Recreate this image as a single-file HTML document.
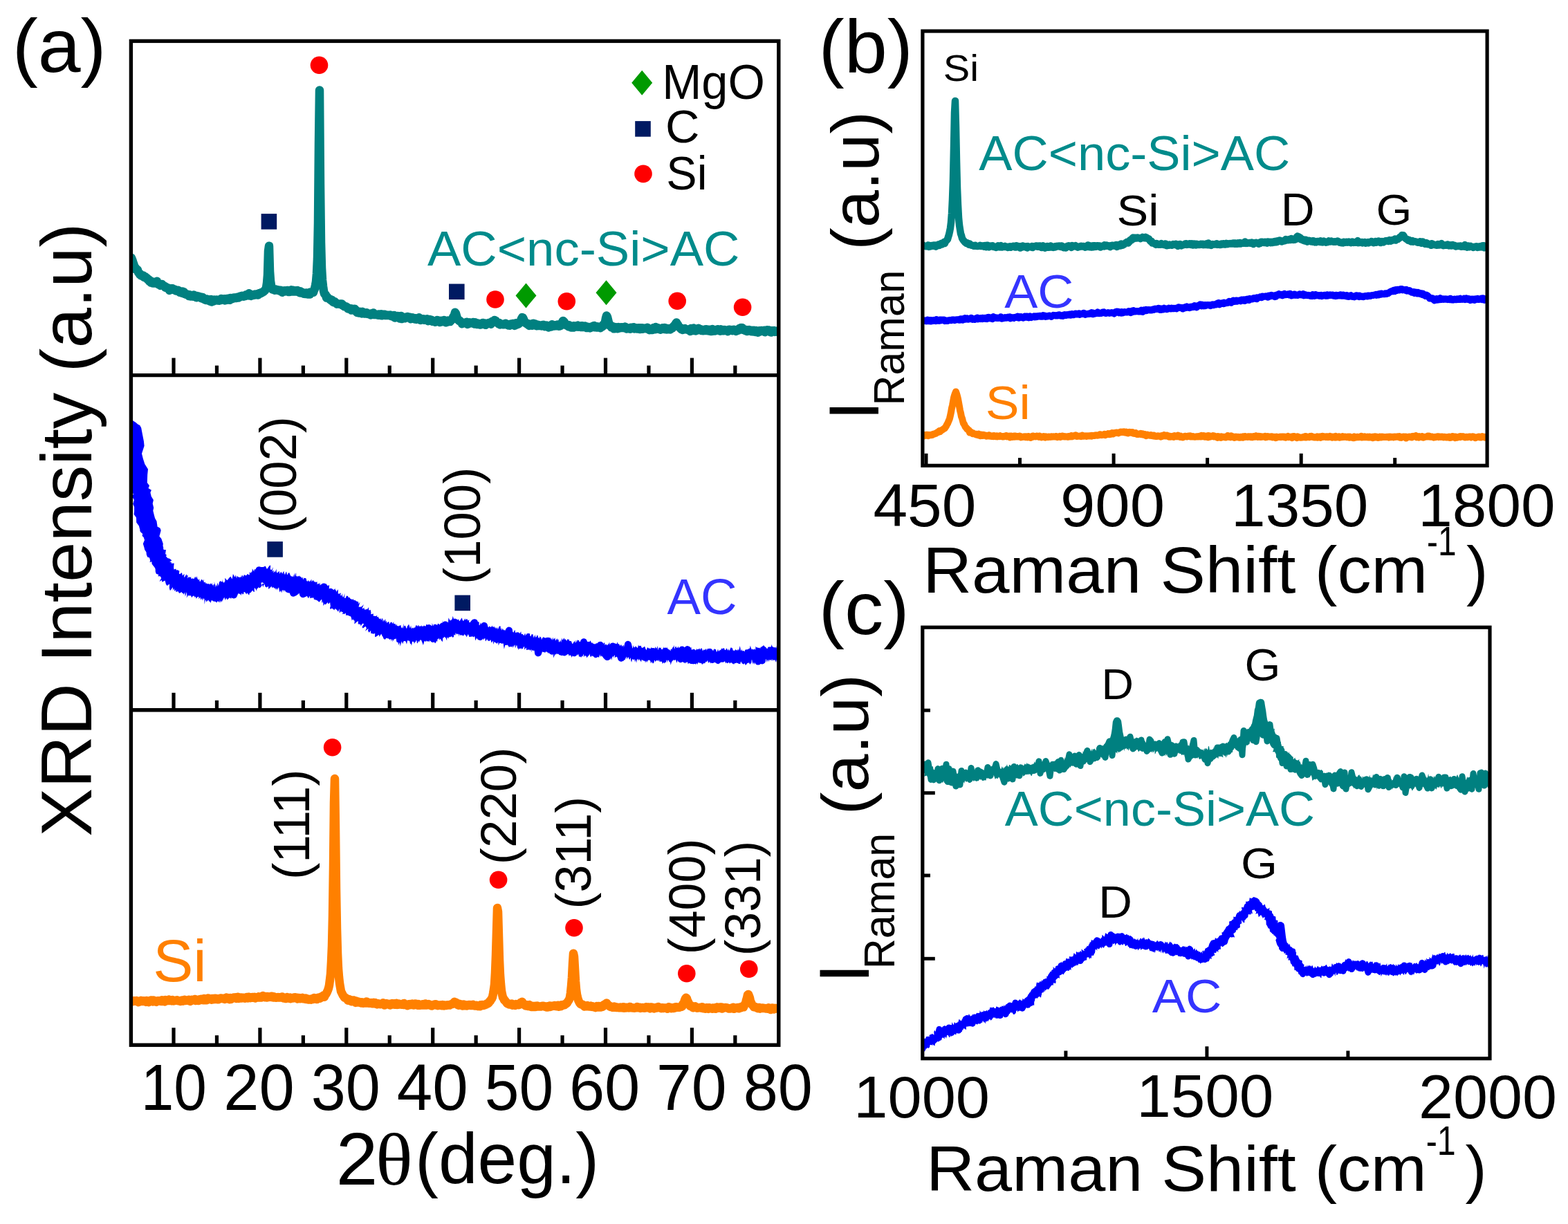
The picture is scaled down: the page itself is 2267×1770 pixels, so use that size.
<!DOCTYPE html><html><head><meta charset="utf-8"><title>XRD and Raman</title>
<style>html,body{margin:0;padding:0;background:#fff;width:2267px;height:1770px;overflow:hidden}svg{display:block}text{font-family:"Liberation Sans", Arial, Helvetica, sans-serif}</style></head><body>
<svg width="2267" height="1770" viewBox="0 0 2267 1770">
<rect width="2267" height="1770" fill="#fff"/>
<defs>
<clipPath id="ca1"><rect x="189" y="59" width="937" height="483"/></clipPath>
<clipPath id="ca2"><rect x="189" y="542" width="937" height="485"/></clipPath>
<clipPath id="ca3"><rect x="189" y="1027" width="937" height="484"/></clipPath>
<clipPath id="cb"><rect x="1333" y="45" width="818" height="628"/></clipPath>
<clipPath id="cc"><rect x="1333" y="907" width="820" height="623"/></clipPath>
</defs>
<path d="M190.0 372.9 L191.0 375.3 L192.0 378.3 L193.0 381.5 L194.0 384.2 L195.0 389.0 L196.0 387.3 L197.0 388.7 L198.0 390.4 L199.0 390.5 L200.0 394.0 L201.0 394.6 L202.0 396.7 L203.0 396.6 L204.0 398.5 L205.0 397.8 L206.0 399.0 L207.0 398.7 L208.0 400.6 L209.0 400.4 L210.0 400.2 L211.0 401.9 L212.0 401.5 L213.0 403.4 L214.0 404.7 L215.0 404.1 L216.0 407.0 L217.0 405.7 L218.0 408.5 L219.0 406.9 L220.0 408.2 L221.0 409.6 L222.0 409.5 L223.0 409.5 L224.0 408.7 L225.0 407.5 L226.0 408.7 L227.0 406.8 L228.0 410.5 L229.0 410.0 L230.0 411.6 L231.0 411.6 L232.0 412.7 L233.0 412.1 L234.0 410.9 L235.0 412.7 L236.0 412.8 L237.0 413.2 L238.0 414.1 L239.0 415.8 L240.0 415.0 L241.0 415.7 L242.0 416.3 L243.0 417.6 L244.0 416.8 L245.0 419.9 L246.0 419.0 L247.0 418.5 L248.0 417.3 L249.0 417.2 L250.0 417.4 L251.0 418.9 L252.0 419.2 L253.0 418.8 L254.0 420.2 L255.0 419.7 L256.0 420.0 L257.0 421.1 L258.0 420.0 L259.0 420.5 L260.0 422.7 L261.0 422.5 L262.0 422.6 L263.0 423.8 L264.0 421.4 L265.0 423.1 L266.0 422.3 L267.0 424.9 L268.0 424.9 L269.0 425.8 L270.0 425.4 L271.0 425.8 L272.0 426.6 L273.0 428.1 L274.0 426.3 L275.0 428.5 L276.0 427.4 L277.0 427.8 L278.0 427.9 L279.0 428.7 L280.0 426.5 L281.0 428.7 L282.0 429.0 L283.0 427.9 L284.0 430.3 L285.0 427.9 L286.0 429.8 L287.0 428.5 L288.0 429.2 L289.0 429.8 L290.0 429.6 L291.0 431.3 L292.0 430.3 L293.0 430.0 L294.0 432.3 L295.0 432.7 L296.0 432.1 L297.0 433.9 L298.0 434.0 L299.0 432.6 L300.0 433.7 L301.0 433.1 L302.0 434.2 L303.0 435.5 L304.0 434.7 L305.0 433.1 L306.0 436.5 L307.0 435.8 L308.0 434.9 L309.0 435.5 L310.0 433.4 L311.0 434.3 L312.0 433.9 L313.0 433.6 L314.0 434.4 L315.0 433.9 L316.0 433.6 L317.0 434.7 L318.0 433.7 L319.0 434.1 L320.0 432.0 L321.0 432.7 L322.0 433.0 L323.0 433.7 L324.0 432.3 L325.0 434.4 L326.0 432.6 L327.0 434.0 L328.0 432.8 L329.0 431.9 L330.0 432.7 L331.0 432.4 L332.0 433.8 L333.0 431.0 L334.0 432.8 L335.0 431.7 L336.0 432.1 L337.0 430.9 L338.0 431.4 L339.0 430.6 L340.0 430.8 L341.0 430.2 L342.0 430.8 L343.0 429.9 L344.0 430.2 L345.0 430.4 L346.0 430.1 L347.0 428.6 L348.0 428.6 L349.0 428.1 L350.0 427.7 L351.0 428.1 L352.0 428.6 L353.0 427.9 L354.0 428.2 L355.0 426.9 L356.0 426.2 L357.0 426.2 L358.0 426.4 L359.0 427.4 L360.0 424.2 L361.0 426.4 L362.0 427.3 L363.0 427.9 L364.0 425.9 L365.0 426.6 L366.0 427.0 L367.0 426.9 L368.0 425.8 L369.0 426.3 L370.0 425.5 L371.0 425.9 L372.0 425.0 L373.0 426.5 L374.0 424.4 L375.0 424.1 L376.0 424.5 L377.0 424.2 L378.0 423.0 L379.0 423.2 L380.0 422.3 L381.0 421.9 L382.0 420.7 L383.0 420.1 L384.0 418.3 L385.0 415.9 L386.0 409.4 L387.0 397.4 L388.0 363.1 L389.0 355.8 L390.0 392.2 L391.0 406.3 L392.0 412.8 L393.0 416.6 L394.0 418.5 L395.0 418.8 L396.0 418.1 L397.0 419.7 L398.0 419.3 L399.0 418.7 L400.0 419.6 L401.0 419.6 L402.0 419.3 L403.0 420.2 L404.0 420.0 L405.0 420.9 L406.0 419.9 L407.0 420.4 L408.0 422.7 L409.0 421.9 L410.0 421.1 L411.0 420.5 L412.0 421.4 L413.0 420.7 L414.0 421.2 L415.0 420.0 L416.0 420.0 L417.0 422.0 L418.0 421.4 L419.0 422.0 L420.0 421.4 L421.0 419.3 L422.0 421.2 L423.0 421.5 L424.0 419.8 L425.0 420.4 L426.0 420.7 L427.0 421.3 L428.0 420.2 L429.0 421.0 L430.0 420.1 L431.0 422.1 L432.0 421.6 L433.0 423.2 L434.0 421.2 L435.0 423.4 L436.0 423.2 L437.0 422.7 L438.0 424.0 L439.0 424.6 L440.0 424.0 L441.0 425.1 L442.0 424.9 L443.0 423.4 L444.0 424.9 L445.0 425.6 L446.0 424.3 L447.0 425.1 L448.0 425.6 L449.0 422.4 L450.0 422.4 L451.0 422.8 L452.0 422.1 L453.0 422.8 L454.0 419.7 L455.0 417.4 L456.0 412.7 L457.0 407.3 L458.0 395.4 L459.0 373.5 L460.0 322.1 L461.0 206.6 L462.0 130.4 L463.0 265.5 L464.0 350.4 L465.0 387.3 L466.0 404.9 L467.0 413.8 L468.0 420.9 L469.0 424.6 L470.0 425.9 L471.0 426.3 L472.0 430.6 L473.0 429.4 L474.0 430.9 L475.0 431.5 L476.0 432.0 L477.0 433.3 L478.0 433.1 L479.0 434.7 L480.0 434.0 L481.0 436.2 L482.0 437.2 L483.0 436.0 L484.0 436.3 L485.0 437.5 L486.0 438.2 L487.0 439.5 L488.0 439.0 L489.0 439.6 L490.0 439.6 L491.0 439.7 L492.0 439.4 L493.0 439.8 L494.0 439.4 L495.0 441.2 L496.0 441.0 L497.0 442.5 L498.0 443.3 L499.0 443.2 L500.0 443.2 L501.0 443.8 L502.0 444.3 L503.0 446.4 L504.0 445.9 L505.0 446.7 L506.0 446.5 L507.0 446.3 L508.0 448.6 L509.0 447.2 L510.0 447.8 L511.0 447.8 L512.0 446.8 L513.0 446.8 L514.0 448.0 L515.0 450.6 L516.0 451.8 L517.0 451.4 L518.0 452.4 L519.0 452.4 L520.0 450.8 L521.0 452.0 L522.0 452.7 L523.0 453.4 L524.0 450.8 L525.0 451.6 L526.0 452.3 L527.0 453.6 L528.0 452.7 L529.0 453.5 L530.0 452.2 L531.0 453.2 L532.0 454.0 L533.0 453.7 L534.0 454.3 L535.0 454.6 L536.0 455.6 L537.0 453.2 L538.0 454.8 L539.0 453.9 L540.0 452.5 L541.0 455.0 L542.0 454.5 L543.0 454.9 L544.0 454.9 L545.0 455.0 L546.0 455.6 L547.0 455.7 L548.0 454.4 L549.0 455.3 L550.0 455.9 L551.0 454.3 L552.0 456.3 L553.0 455.5 L554.0 455.1 L555.0 455.4 L556.0 454.7 L557.0 456.1 L558.0 455.4 L559.0 455.8 L560.0 456.0 L561.0 455.7 L562.0 455.7 L563.0 455.8 L564.0 455.6 L565.0 456.8 L566.0 456.3 L567.0 457.0 L568.0 456.5 L569.0 458.3 L570.0 455.9 L571.0 459.5 L572.0 458.0 L573.0 457.5 L574.0 457.8 L575.0 457.0 L576.0 459.6 L577.0 458.1 L578.0 460.6 L579.0 457.7 L580.0 456.9 L581.0 461.1 L582.0 459.6 L583.0 458.5 L584.0 458.9 L585.0 460.3 L586.0 458.9 L587.0 458.5 L588.0 459.1 L589.0 457.9 L590.0 458.8 L591.0 459.7 L592.0 459.1 L593.0 458.8 L594.0 461.3 L595.0 459.8 L596.0 459.4 L597.0 460.8 L598.0 460.9 L599.0 460.1 L600.0 461.5 L601.0 460.3 L602.0 461.8 L603.0 461.4 L604.0 461.5 L605.0 461.3 L606.0 459.3 L607.0 462.4 L608.0 462.9 L609.0 461.8 L610.0 461.5 L611.0 462.1 L612.0 461.2 L613.0 462.6 L614.0 462.1 L615.0 462.4 L616.0 461.7 L617.0 461.4 L618.0 463.5 L619.0 464.1 L620.0 463.6 L621.0 462.1 L622.0 463.8 L623.0 463.6 L624.0 462.8 L625.0 464.7 L626.0 464.0 L627.0 464.0 L628.0 464.5 L629.0 465.8 L630.0 464.0 L631.0 464.9 L632.0 462.9 L633.0 464.9 L634.0 463.4 L635.0 464.6 L636.0 466.1 L637.0 464.0 L638.0 463.7 L639.0 464.1 L640.0 465.1 L641.0 464.8 L642.0 463.0 L643.0 465.1 L644.0 465.8 L645.0 466.3 L646.0 464.8 L647.0 463.6 L648.0 465.4 L649.0 464.2 L650.0 464.3 L651.0 464.8 L652.0 463.4 L653.0 462.8 L654.0 461.5 L655.0 458.8 L656.0 459.0 L657.0 455.4 L658.0 451.8 L659.0 453.4 L660.0 456.7 L661.0 460.1 L662.0 461.9 L663.0 463.2 L664.0 464.1 L665.0 463.9 L666.0 465.3 L667.0 466.2 L668.0 468.2 L669.0 466.9 L670.0 466.8 L671.0 467.3 L672.0 466.7 L673.0 466.3 L674.0 466.3 L675.0 465.7 L676.0 468.9 L677.0 466.4 L678.0 467.3 L679.0 466.5 L680.0 467.4 L681.0 467.2 L682.0 466.7 L683.0 467.1 L684.0 465.9 L685.0 466.7 L686.0 468.6 L687.0 466.3 L688.0 467.9 L689.0 466.9 L690.0 469.1 L691.0 467.8 L692.0 467.8 L693.0 468.2 L694.0 469.6 L695.0 468.1 L696.0 469.2 L697.0 468.7 L698.0 467.0 L699.0 467.2 L700.0 467.2 L701.0 468.4 L702.0 469.8 L703.0 467.9 L704.0 468.6 L705.0 467.4 L706.0 467.4 L707.0 466.9 L708.0 468.1 L709.0 467.0 L710.0 468.7 L711.0 465.1 L712.0 465.9 L713.0 464.9 L714.0 464.2 L715.0 462.9 L716.0 463.6 L717.0 463.8 L718.0 466.0 L719.0 466.3 L720.0 467.2 L721.0 468.4 L722.0 467.1 L723.0 469.4 L724.0 469.0 L725.0 468.9 L726.0 468.9 L727.0 468.7 L728.0 469.3 L729.0 469.1 L730.0 468.8 L731.0 467.8 L732.0 468.6 L733.0 469.5 L734.0 468.8 L735.0 470.4 L736.0 469.9 L737.0 470.7 L738.0 469.5 L739.0 468.4 L740.0 469.2 L741.0 469.4 L742.0 467.9 L743.0 469.6 L744.0 470.8 L745.0 470.4 L746.0 467.2 L747.0 469.5 L748.0 469.1 L749.0 468.0 L750.0 468.4 L751.0 466.5 L752.0 466.5 L753.0 463.7 L754.0 460.8 L755.0 459.1 L756.0 459.3 L757.0 461.7 L758.0 465.1 L759.0 465.2 L760.0 467.2 L761.0 467.2 L762.0 468.6 L763.0 468.5 L764.0 468.3 L765.0 470.9 L766.0 470.2 L767.0 469.1 L768.0 469.4 L769.0 470.7 L770.0 470.6 L771.0 467.7 L772.0 469.7 L773.0 470.1 L774.0 468.6 L775.0 470.1 L776.0 471.3 L777.0 470.6 L778.0 470.0 L779.0 471.0 L780.0 470.6 L781.0 470.6 L782.0 470.5 L783.0 471.4 L784.0 470.1 L785.0 470.6 L786.0 469.7 L787.0 470.6 L788.0 472.1 L789.0 471.8 L790.0 470.6 L791.0 471.3 L792.0 471.9 L793.0 473.5 L794.0 472.5 L795.0 471.0 L796.0 470.6 L797.0 472.5 L798.0 469.3 L799.0 470.6 L800.0 471.6 L801.0 470.4 L802.0 471.4 L803.0 470.2 L804.0 470.5 L805.0 471.3 L806.0 469.5 L807.0 471.3 L808.0 471.7 L809.0 471.5 L810.0 470.4 L811.0 470.8 L812.0 468.1 L813.0 465.7 L814.0 464.0 L815.0 464.8 L816.0 465.9 L817.0 468.3 L818.0 469.6 L819.0 470.3 L820.0 469.8 L821.0 470.2 L822.0 472.2 L823.0 470.3 L824.0 471.8 L825.0 471.4 L826.0 473.4 L827.0 473.2 L828.0 471.7 L829.0 473.6 L830.0 471.3 L831.0 471.5 L832.0 472.7 L833.0 471.5 L834.0 471.8 L835.0 470.6 L836.0 472.7 L837.0 472.3 L838.0 471.7 L839.0 471.6 L840.0 473.0 L841.0 471.3 L842.0 471.3 L843.0 473.0 L844.0 471.8 L845.0 471.6 L846.0 471.5 L847.0 472.0 L848.0 474.1 L849.0 472.5 L850.0 473.8 L851.0 473.4 L852.0 473.7 L853.0 474.4 L854.0 472.7 L855.0 473.4 L856.0 472.8 L857.0 471.9 L858.0 471.3 L859.0 471.1 L860.0 473.1 L861.0 472.8 L862.0 473.5 L863.0 472.3 L864.0 473.4 L865.0 473.1 L866.0 473.5 L867.0 472.6 L868.0 474.2 L869.0 473.5 L870.0 471.6 L871.0 472.4 L872.0 469.6 L873.0 470.3 L874.0 467.7 L875.0 465.3 L876.0 459.9 L877.0 456.4 L878.0 458.3 L879.0 462.4 L880.0 466.4 L881.0 470.6 L882.0 470.8 L883.0 470.7 L884.0 473.4 L885.0 473.1 L886.0 473.3 L887.0 472.5 L888.0 475.3 L889.0 475.1 L890.0 473.4 L891.0 473.3 L892.0 473.5 L893.0 475.3 L894.0 473.0 L895.0 473.6 L896.0 474.4 L897.0 474.2 L898.0 473.4 L899.0 474.0 L900.0 473.3 L901.0 474.0 L902.0 474.2 L903.0 473.3 L904.0 472.6 L905.0 473.8 L906.0 475.4 L907.0 474.9 L908.0 475.2 L909.0 475.0 L910.0 474.2 L911.0 475.7 L912.0 473.8 L913.0 474.4 L914.0 474.0 L915.0 473.6 L916.0 473.3 L917.0 475.4 L918.0 474.5 L919.0 474.8 L920.0 474.3 L921.0 475.5 L922.0 474.4 L923.0 474.3 L924.0 474.2 L925.0 476.1 L926.0 474.2 L927.0 474.9 L928.0 474.2 L929.0 475.7 L930.0 474.5 L931.0 475.2 L932.0 474.9 L933.0 474.8 L934.0 474.4 L935.0 475.6 L936.0 473.7 L937.0 475.6 L938.0 476.0 L939.0 477.2 L940.0 476.1 L941.0 475.7 L942.0 476.8 L943.0 477.0 L944.0 476.7 L945.0 474.0 L946.0 475.2 L947.0 476.3 L948.0 473.0 L949.0 475.2 L950.0 474.8 L951.0 474.1 L952.0 475.1 L953.0 476.0 L954.0 475.6 L955.0 476.8 L956.0 475.2 L957.0 475.7 L958.0 474.5 L959.0 475.0 L960.0 476.0 L961.0 473.9 L962.0 476.3 L963.0 475.6 L964.0 476.6 L965.0 475.1 L966.0 476.1 L967.0 475.4 L968.0 475.3 L969.0 476.3 L970.0 475.6 L971.0 474.5 L972.0 474.5 L973.0 472.7 L974.0 472.1 L975.0 470.5 L976.0 471.0 L977.0 467.8 L978.0 466.5 L979.0 468.3 L980.0 469.5 L981.0 472.1 L982.0 473.2 L983.0 473.5 L984.0 475.2 L985.0 476.0 L986.0 475.1 L987.0 477.0 L988.0 475.8 L989.0 476.3 L990.0 475.1 L991.0 476.2 L992.0 476.1 L993.0 476.4 L994.0 476.7 L995.0 476.5 L996.0 477.4 L997.0 477.5 L998.0 479.0 L999.0 475.1 L1000.0 477.7 L1001.0 477.5 L1002.0 477.9 L1003.0 474.4 L1004.0 477.3 L1005.0 477.8 L1006.0 478.4 L1007.0 477.6 L1008.0 477.6 L1009.0 477.4 L1010.0 474.8 L1011.0 476.3 L1012.0 476.9 L1013.0 476.2 L1014.0 478.0 L1015.0 477.5 L1016.0 478.1 L1017.0 478.3 L1018.0 476.8 L1019.0 478.1 L1020.0 477.0 L1021.0 476.2 L1022.0 477.3 L1023.0 478.3 L1024.0 476.8 L1025.0 478.4 L1026.0 476.7 L1027.0 478.9 L1028.0 479.1 L1029.0 478.5 L1030.0 476.1 L1031.0 478.7 L1032.0 477.8 L1033.0 477.9 L1034.0 478.4 L1035.0 477.0 L1036.0 476.7 L1037.0 477.0 L1038.0 476.2 L1039.0 477.4 L1040.0 477.3 L1041.0 478.7 L1042.0 476.2 L1043.0 477.6 L1044.0 477.7 L1045.0 478.1 L1046.0 477.1 L1047.0 478.2 L1048.0 477.1 L1049.0 477.6 L1050.0 478.2 L1051.0 478.0 L1052.0 479.3 L1053.0 478.1 L1054.0 476.8 L1055.0 476.8 L1056.0 477.4 L1057.0 477.4 L1058.0 477.0 L1059.0 478.2 L1060.0 477.4 L1061.0 476.8 L1062.0 476.9 L1063.0 477.4 L1064.0 479.0 L1065.0 477.8 L1066.0 478.2 L1067.0 477.6 L1068.0 477.5 L1069.0 475.0 L1070.0 474.8 L1071.0 473.9 L1072.0 474.9 L1073.0 473.9 L1074.0 476.0 L1075.0 477.0 L1076.0 476.7 L1077.0 477.0 L1078.0 478.4 L1079.0 476.9 L1080.0 479.0 L1081.0 478.3 L1082.0 477.3 L1083.0 477.0 L1084.0 478.6 L1085.0 478.0 L1086.0 479.2 L1087.0 477.8 L1088.0 478.8 L1089.0 479.6 L1090.0 477.7 L1091.0 478.4 L1092.0 480.0 L1093.0 478.1 L1094.0 479.3 L1095.0 478.9 L1096.0 480.8 L1097.0 479.0 L1098.0 478.2 L1099.0 478.4 L1100.0 479.2 L1101.0 477.9 L1102.0 478.7 L1103.0 478.4 L1104.0 478.3 L1105.0 477.8 L1106.0 480.2 L1107.0 477.9 L1108.0 478.3 L1109.0 477.3 L1110.0 478.2 L1111.0 477.4 L1112.0 477.5 L1113.0 479.4 L1114.0 480.3 L1115.0 480.6 L1116.0 478.4 L1117.0 478.2 L1118.0 478.5 L1119.0 478.2 L1120.0 479.8 L1121.0 479.5 L1122.0 479.7 L1123.0 478.7 L1124.0 478.8 L1125.0 479.5 L1126.0 479.8" fill="none" stroke="#008080" stroke-width="12.5" stroke-linejoin="round" stroke-linecap="round" clip-path="url(#ca1)"/>
<path d="M186.0 601.1 L187.0 604.9 L196.4 611.0 L199.2 613.6 L202.2 614.9 L204.2 618.7 L205.9 627.8 L207.9 638.0 L208.6 644.8 L205.0 655.9 L206.9 663.4 L208.2 667.6 L209.3 671.1 L214.0 678.4 L213.2 686.6 L212.8 698.1 L216.0 702.2 L214.5 706.0 L218.9 708.8 L217.4 712.2 L218.8 717.9 L221.9 723.0 L220.7 728.3 L222.2 734.3 L221.3 738.6 L222.5 743.6 L224.0 749.3 L226.5 753.7 L227.3 759.6 L227.5 758.8 L227.3 761.3 L231.5 763.7 L232.7 766.9 L231.8 770.5 L230.4 775.4 L233.3 779.1 L235.3 784.7 L235.8 786.3 L235.5 789.6 L236.2 791.6 L236.2 794.6 L238.9 795.2 L240.0 794.8 L239.1 801.1 L241.0 802.8 L239.9 804.3 L242.2 806.9 L245.6 808.1 L248.4 810.6 L245.2 812.4 L248.0 812.9 L247.4 814.2 L248.8 814.4 L247.0 814.8 L248.8 814.7 L251.7 814.5 L251.1 820.3 L251.5 823.6 L254.3 822.6 L254.5 823.5 L255.4 824.7 L256.9 824.0 L259.4 826.8 L258.0 824.8 L258.5 826.4 L258.9 824.6 L259.4 825.9 L258.9 829.2 L259.2 829.8 L260.0 830.2 L262.9 827.9 L263.9 832.5 L266.2 829.9 L266.5 830.1 L266.2 834.6 L266.7 834.9 L269.6 830.2 L270.1 832.4 L269.5 834.3 L270.3 831.3 L269.2 834.0 L270.6 832.1 L271.6 831.4 L271.2 836.4 L273.1 833.9 L274.2 835.0 L276.3 834.3 L276.1 836.9 L277.0 841.8 L279.1 837.7 L280.9 836.6 L282.2 833.4 L283.3 836.0 L284.7 833.3 L285.2 836.1 L286.0 837.4 L287.0 838.8 L288.3 837.2 L288.4 840.2 L289.5 840.9 L289.9 840.4 L291.2 837.7 L292.4 838.5 L293.0 838.9 L293.4 840.2 L294.8 837.5 L294.5 840.9 L295.4 842.4 L296.0 841.9 L296.9 841.5 L297.3 843.8 L298.6 843.4 L299.7 844.1 L300.5 844.7 L301.7 843.8 L303.1 845.5 L304.1 843.3 L305.3 844.9 L306.4 843.0 L306.9 845.3 L307.7 846.7 L308.0 845.2 L308.3 845.2 L308.5 845.9 L308.6 846.1 L309.1 848.9 L309.1 845.0 L309.8 845.0 L309.8 841.2 L311.9 849.4 L312.2 844.8 L313.6 848.4 L314.4 842.6 L316.0 847.4 L316.9 841.9 L317.8 840.8 L319.1 840.0 L319.8 841.3 L321.6 841.2 L321.1 837.8 L322.4 841.3 L323.6 843.0 L324.1 842.4 L324.3 842.1 L325.5 840.1 L325.1 835.8 L326.3 836.9 L328.3 839.3 L330.1 837.2 L331.0 836.1 L332.1 834.8 L333.6 833.7 L335.5 837.6 L336.4 833.1 L336.9 830.0 L338.4 832.4 L339.3 834.3 L339.9 834.2 L340.4 831.2 L342.2 836.4 L342.6 832.4 L344.1 834.2 L345.4 834.5 L346.6 835.5 L347.7 836.0 L348.5 834.8 L348.9 831.6 L350.6 836.8 L350.0 833.2 L350.1 832.5 L350.2 831.6 L351.8 833.8 L351.9 834.4 L352.9 830.9 L353.9 831.5 L354.8 832.3 L356.7 832.1 L357.1 829.9 L360.7 831.6 L360.9 827.1 L362.3 828.8 L363.2 827.9 L363.6 826.7 L364.2 827.0 L364.0 826.8 L364.6 826.2 L364.8 822.2 L367.2 826.6 L367.6 823.7 L368.6 823.2 L369.4 823.5 L370.6 821.0 L372.2 819.7 L374.6 819.3 L377.6 820.0 L380.6 820.1 L383.7 818.5 L386.0 823.0 L389.5 817.9 L391.2 817.4 L390.8 823.2 L392.7 824.3 L395.1 820.0 L393.2 826.8 L395.6 824.6 L395.4 828.5 L396.9 826.2 L397.2 827.3 L398.4 824.9 L397.7 829.2 L399.5 822.6 L399.8 827.1 L400.6 828.4 L402.6 827.0 L403.7 825.8 L404.4 830.1 L406.2 826.5 L406.9 828.0 L407.9 828.6 L407.8 830.4 L409.6 826.8 L410.7 826.2 L410.6 830.4 L411.3 828.8 L411.9 831.6 L413.7 826.5 L414.3 827.6 L415.2 831.9 L416.8 828.5 L418.4 828.3 L419.0 830.0 L420.1 832.6 L421.3 833.8 L422.4 832.9 L423.4 834.8 L426.7 828.1 L425.3 834.7 L428.3 828.2 L428.0 833.8 L429.2 832.4 L430.1 834.3 L430.5 835.1 L432.6 832.0 L432.4 838.4 L433.5 835.8 L434.7 837.6 L435.5 834.4 L436.3 836.9 L437.0 835.3 L437.6 834.3 L438.2 838.4 L439.5 835.4 L440.5 836.2 L441.6 835.8 L442.8 837.1 L443.2 839.6 L444.3 841.1 L446.0 839.0 L446.7 841.1 L448.5 840.6 L450.3 837.4 L450.6 841.5 L452.4 838.9 L453.7 840.1 L454.0 841.7 L455.6 840.4 L455.7 842.3 L457.8 841.4 L458.6 841.3 L458.5 845.6 L459.9 843.7 L461.3 844.5 L462.5 842.5 L462.6 846.6 L464.1 845.0 L463.7 848.7 L465.8 844.6 L465.9 847.4 L466.7 847.9 L467.5 846.7 L469.0 843.5 L470.0 845.2 L471.4 843.9 L473.0 846.5 L474.2 846.9 L476.1 846.0 L475.7 852.5 L477.5 851.1 L478.9 852.7 L479.7 854.0 L481.4 853.9 L483.3 852.2 L484.9 851.0 L484.6 852.8 L486.2 854.2 L485.8 856.3 L488.8 852.2 L488.8 858.8 L489.6 858.5 L491.1 858.6 L493.0 857.3 L492.2 860.4 L493.4 861.6 L493.7 861.6 L495.2 858.0 L494.9 864.2 L495.6 861.7 L496.6 864.0 L498.3 858.1 L498.1 865.0 L499.6 864.7 L501.1 861.5 L502.9 861.9 L504.2 864.4 L505.2 863.4 L506.5 865.7 L507.5 867.1 L508.4 868.2 L510.6 866.1 L511.8 868.7 L513.5 867.5 L514.3 872.6 L515.1 871.1 L517.1 869.5 L518.4 871.3 L517.8 873.5 L519.6 871.8 L520.5 870.5 L518.5 877.7 L522.3 877.6 L524.0 875.9 L521.2 879.1 L526.0 874.1 L523.6 879.6 L524.8 880.3 L526.1 878.7 L526.6 879.0 L526.7 881.3 L528.7 881.7 L529.5 880.5 L530.7 881.4 L533.1 878.1 L533.1 882.3 L534.4 882.5 L535.7 881.8 L536.5 886.2 L536.1 888.2 L540.0 887.5 L539.6 890.6 L540.9 890.7 L543.7 890.9 L545.3 889.4 L544.9 892.5 L546.9 891.8 L547.6 894.1 L549.8 895.5 L548.8 896.1 L550.7 893.8 L550.8 897.5 L552.9 893.6 L553.5 896.6 L552.6 899.4 L554.5 896.1 L554.9 898.9 L556.6 895.3 L556.1 900.0 L555.3 899.3 L556.1 898.2 L557.3 894.9 L557.4 899.3 L558.7 897.7 L559.2 901.0 L561.0 899.2 L562.5 899.3 L562.9 902.9 L564.6 899.9 L565.9 899.4 L566.7 900.0 L567.2 902.0 L569.6 898.9 L569.0 902.1 L571.4 901.9 L572.1 903.3 L572.4 904.7 L574.1 902.3 L573.8 905.2 L575.3 904.7 L575.8 905.9 L576.7 905.1 L578.2 904.4 L579.7 903.9 L579.6 905.6 L580.8 908.3 L581.5 907.5 L581.7 909.1 L582.6 906.0 L583.5 901.6 L583.6 909.6 L584.4 904.8 L585.1 905.2 L586.0 904.5 L587.0 907.4 L588.0 909.2 L589.0 905.3 L590.0 904.5 L591.0 902.6 L592.0 905.4 L593.0 908.7 L594.0 904.3 L595.0 909.5 L596.0 908.1 L597.0 907.5 L598.0 908.9 L599.0 907.1 L600.0 907.9 L601.0 905.2 L602.0 903.6 L603.0 905.7 L604.0 905.2 L605.0 903.5 L606.0 906.5 L607.0 905.1 L608.0 905.6 L608.8 906.6 L609.4 903.7 L610.2 907.1 L611.1 907.6 L611.7 907.1 L612.1 905.4 L613.0 904.3 L613.8 905.2 L614.9 905.6 L615.6 905.6 L616.3 903.0 L617.1 902.7 L618.6 905.3 L618.5 903.7 L619.7 904.1 L621.4 907.5 L622.3 906.4 L622.6 906.1 L624.6 905.1 L624.6 901.0 L626.8 905.9 L627.1 902.6 L628.5 903.2 L630.1 902.3 L630.7 904.0 L632.1 904.8 L632.8 902.0 L634.0 901.8 L635.3 903.2 L636.4 904.3 L637.5 903.0 L638.2 900.3 L639.7 903.8 L639.8 897.0 L640.7 900.5 L641.4 900.4 L642.0 899.2 L643.1 897.9 L644.0 900.9 L645.3 900.3 L646.0 900.1 L647.1 901.8 L647.9 901.5 L648.2 896.9 L648.5 893.3 L650.4 897.0 L651.8 897.2 L653.1 896.0 L653.9 894.8 L654.7 890.8 L657.1 898.8 L657.8 894.0 L659.4 896.0 L661.2 898.6 L662.7 895.0 L664.3 898.4 L666.1 895.8 L667.8 893.2 L668.8 897.1 L669.6 897.8 L670.6 897.5 L672.4 894.2 L673.1 896.7 L674.6 895.0 L675.5 895.2 L676.4 897.4 L678.2 896.3 L678.3 899.9 L679.9 900.1 L680.6 898.5 L681.8 897.5 L683.1 896.3 L684.1 898.3 L685.4 897.2 L685.0 902.3 L686.3 901.5 L687.1 901.4 L688.5 901.9 L689.6 899.6 L690.3 900.1 L691.3 899.2 L692.7 899.4 L692.6 904.9 L693.6 903.8 L695.1 899.9 L695.6 903.1 L696.2 904.8 L697.2 906.7 L698.4 905.1 L699.6 904.4 L700.5 904.3 L702.6 900.4 L703.2 903.8 L704.5 903.7 L704.9 905.2 L705.9 907.4 L707.7 905.6 L708.8 906.3 L709.7 907.7 L711.6 904.3 L712.0 909.0 L713.1 907.4 L715.4 905.7 L714.9 908.5 L716.7 907.1 L716.7 911.6 L718.3 907.5 L719.0 907.4 L719.8 910.5 L721.1 907.0 L722.2 905.2 L723.7 905.8 L723.7 910.1 L725.0 908.1 L725.3 911.1 L725.7 911.6 L726.8 908.5 L727.5 910.2 L728.2 911.4 L729.1 910.7 L730.2 912.1 L731.7 909.3 L732.7 912.1 L733.9 910.0 L734.8 911.5 L735.3 915.3 L736.5 913.3 L737.8 909.2 L739.2 911.2 L740.1 914.0 L741.0 913.5 L742.3 914.8 L744.0 911.3 L744.7 911.5 L745.2 916.8 L746.0 916.6 L747.2 918.0 L747.8 916.5 L749.3 914.3 L750.3 916.6 L750.8 917.8 L753.2 913.0 L753.8 916.9 L754.6 916.9 L755.9 917.1 L756.1 917.5 L757.3 919.2 L759.1 915.5 L759.5 919.7 L761.2 915.3 L761.1 918.6 L762.4 915.9 L764.3 915.7 L764.8 916.6 L766.1 915.8 L766.3 918.9 L767.3 920.4 L768.9 916.7 L769.6 917.4 L770.5 917.1 L771.0 922.7 L772.4 918.6 L773.0 922.2 L774.1 917.6 L774.7 922.4 L775.9 920.6 L776.9 917.9 L777.9 919.9 L778.7 924.0 L779.6 922.9 L780.5 920.3 L781.4 921.3 L782.4 921.9 L783.0 925.4 L784.1 922.2 L784.9 922.5 L785.7 920.8 L786.7 922.1 L787.7 922.3 L788.7 924.1 L789.7 924.5 L791.0 921.2 L791.9 924.0 L792.8 925.3 L793.6 926.7 L795.2 921.2 L796.0 924.0 L797.1 922.8 L798.1 926.0 L799.4 921.6 L800.0 925.1 L801.4 923.5 L802.4 922.3 L803.1 926.5 L804.3 924.9 L805.4 922.9 L806.2 925.4 L807.5 924.2 L807.9 928.0 L808.9 928.8 L810.2 925.4 L811.1 929.2 L812.4 922.2 L813.1 925.7 L814.4 924.3 L815.6 922.2 L816.3 925.1 L817.4 923.9 L818.1 925.2 L819.4 926.8 L820.4 923.9 L821.3 925.1 L822.4 924.2 L823.2 926.7 L824.0 927.1 L825.3 927.0 L826.1 927.6 L826.9 929.9 L827.9 931.9 L829.2 928.8 L830.0 928.2 L831.2 926.2 L831.7 932.7 L833.0 925.3 L833.7 929.0 L835.0 924.9 L835.8 925.9 L836.9 926.1 L837.7 927.9 L838.6 928.4 L839.7 927.7 L840.6 927.6 L841.5 930.4 L842.3 931.1 L843.5 927.2 L844.4 930.0 L845.6 928.7 L846.5 929.8 L847.6 928.2 L848.6 927.0 L849.6 929.3 L850.6 929.8 L851.7 929.2 L852.8 927.4 L853.8 926.2 L854.7 929.2 L855.8 930.9 L857.0 928.7 L857.8 931.6 L858.8 932.0 L859.7 933.8 L860.8 933.7 L861.7 933.4 L862.9 932.2 L864.0 930.9 L864.7 932.4 L866.0 928.5 L866.8 929.7 L868.1 930.2 L869.0 927.5 L870.2 929.0 L871.0 929.6 L871.7 934.1 L873.0 930.1 L874.1 929.1 L874.7 933.6 L875.9 931.2 L876.8 932.0 L877.9 933.6 L878.7 931.7 L879.9 931.4 L881.1 928.5 L881.7 932.9 L882.9 932.7 L883.9 933.4 L885.0 929.4 L885.6 936.8 L886.8 930.6 L887.8 931.3 L888.6 933.0 L889.6 930.3 L890.6 931.1 L891.6 931.3 L892.7 928.2 L893.6 931.6 L894.5 931.1 L895.6 932.3 L896.5 934.3 L897.5 932.3 L898.4 932.6 L899.4 935.0 L900.4 933.8 L901.4 932.6 L902.3 938.8 L903.5 930.2 L904.5 934.8 L905.4 934.4 L906.6 929.9 L907.6 934.5 L908.5 934.0 L909.6 932.6 L910.7 932.7 L911.4 938.9 L912.6 937.1 L913.6 938.3 L914.5 939.1 L915.8 933.0 L916.6 935.5 L917.5 938.3 L918.8 933.9 L919.8 935.2 L920.7 936.0 L921.9 937.3 L923.0 932.2 L923.8 934.5 L924.9 933.7 L925.8 933.9 L927.0 933.8 L927.7 939.2 L928.6 940.1 L929.7 935.7 L930.8 936.1 L931.9 934.6 L932.8 936.3 L933.5 939.4 L934.6 940.2 L935.8 936.6 L936.9 936.6 L937.8 937.5 L938.8 937.8 L939.7 937.5 L940.6 938.5 L941.8 935.4 L942.5 938.4 L943.8 937.1 L944.7 937.6 L945.6 938.6 L946.7 937.9 L947.6 934.9 L948.6 937.8 L949.5 937.3 L950.6 934.0 L951.3 940.5 L952.4 936.8 L953.4 936.6 L954.4 937.0 L955.3 936.3 L956.2 938.8 L957.2 939.2 L958.2 939.2 L959.2 934.9 L960.1 939.7 L961.2 939.1 L962.2 937.2 L963.2 940.7 L964.2 935.3 L965.2 939.2 L966.2 938.3 L967.2 939.9 L968.2 939.1 L969.2 941.8 L970.3 938.1 L971.2 939.5 L972.3 936.2 L973.3 936.2 L974.3 932.9 L975.3 938.8 L976.3 935.4 L977.3 934.5 L978.3 937.0 L979.4 936.9 L980.3 934.6 L981.3 936.7 L982.3 937.9 L983.3 938.7 L984.4 937.6 L985.3 938.9 L986.3 937.7 L987.3 937.2 L988.3 936.6 L989.2 941.0 L990.3 941.4 L991.2 940.8 L992.2 941.6 L993.3 937.7 L994.3 938.9 L995.3 941.1 L996.3 938.6 L997.3 938.9 L998.3 937.0 L999.3 935.4 L1000.2 942.0 L1001.3 939.8 L1002.2 938.3 L1003.3 939.6 L1004.2 938.4 L1005.2 940.5 L1006.2 940.6 L1007.2 937.6 L1008.2 941.0 L1009.1 941.2 L1010.2 939.0 L1011.2 937.0 L1012.1 940.4 L1013.1 938.1 L1014.1 937.2 L1015.0 937.9 L1016.0 941.6 L1017.0 939.8 L1018.0 939.2 L1019.0 940.3 L1020.0 938.8 L1021.0 938.0 L1022.0 941.4 L1023.0 937.2 L1024.0 939.3 L1025.0 938.0 L1026.0 938.6 L1027.0 940.6 L1028.0 937.2 L1029.0 941.0 L1030.0 939.9 L1031.0 941.5 L1032.0 938.8 L1033.0 938.4 L1034.0 938.7 L1035.0 939.2 L1036.0 942.9 L1037.0 941.5 L1038.0 938.5 L1039.0 942.1 L1040.0 941.0 L1041.0 939.4 L1042.0 940.6 L1043.0 937.9 L1044.0 937.4 L1045.0 938.5 L1046.0 937.0 L1047.0 937.4 L1048.0 939.9 L1049.0 940.3 L1050.0 937.7 L1051.0 937.8 L1052.0 941.5 L1053.0 938.1 L1054.0 940.7 L1055.0 940.2 L1056.0 937.5 L1057.0 936.1 L1058.0 937.3 L1059.0 937.2 L1060.0 942.0 L1061.0 939.7 L1062.0 941.7 L1063.0 939.3 L1064.0 939.5 L1065.0 940.2 L1066.0 940.8 L1067.0 938.2 L1068.0 940.9 L1068.9 937.4 L1069.8 934.1 L1070.8 939.4 L1071.7 941.5 L1072.5 938.5 L1073.5 942.8 L1074.5 940.7 L1075.5 941.3 L1076.3 942.5 L1077.1 940.3 L1078.3 939.2 L1079.2 939.0 L1080.2 941.7 L1081.2 942.3 L1082.0 939.0 L1082.9 937.5 L1083.9 937.9 L1084.8 933.6 L1085.7 936.7 L1087.1 939.9 L1087.8 937.9 L1089.1 939.8 L1089.8 939.3 L1091.0 937.9 L1092.1 940.2 L1092.6 934.5 L1093.9 936.4 L1094.7 936.0 L1096.0 937.0 L1097.0 936.7 L1098.2 936.8 L1099.1 938.1 L1099.9 935.2 L1101.1 936.1 L1102.0 934.3 L1103.1 934.4 L1104.0 932.7 L1105.3 934.8 L1106.2 935.5 L1107.4 939.2 L1108.5 938.2 L1109.5 938.2 L1110.4 935.5 L1111.5 935.8 L1112.6 935.0 L1113.8 937.7 L1114.8 934.9 L1115.9 931.7 L1117.0 937.9 L1118.0 937.0 L1119.0 937.6 L1120.0 936.1 L1121.0 935.6 L1122.0 937.8 L1123.0 934.1 L1124.0 931.8 L1125.0 933.9 L1126.0 933.0 L1126.0 953.1 L1125.0 952.7 L1124.0 956.2 L1123.0 952.9 L1122.0 958.0 L1121.0 955.8 L1120.0 952.7 L1119.0 955.0 L1118.0 953.8 L1117.0 955.9 L1116.1 952.4 L1115.2 955.6 L1114.3 954.5 L1113.4 954.0 L1112.4 954.3 L1111.7 957.1 L1110.5 953.8 L1109.7 955.0 L1108.8 958.1 L1107.5 952.1 L1106.7 951.3 L1106.1 955.6 L1104.8 952.0 L1103.8 952.7 L1103.0 953.9 L1102.2 957.2 L1101.0 955.7 L1100.2 954.7 L1099.3 957.2 L1098.3 957.5 L1097.0 956.1 L1096.2 956.0 L1095.3 957.5 L1094.4 958.9 L1093.2 956.1 L1092.0 957.6 L1091.2 957.8 L1090.5 960.9 L1089.1 957.3 L1088.4 960.8 L1086.9 952.8 L1086.2 959.3 L1085.2 959.2 L1084.3 961.0 L1082.8 958.0 L1081.8 958.9 L1081.0 958.6 L1080.0 959.5 L1078.8 961.2 L1077.8 961.9 L1076.7 959.0 L1075.8 960.2 L1074.6 960.5 L1073.5 959.7 L1072.3 958.4 L1071.2 956.2 L1070.2 960.2 L1069.1 959.9 L1068.0 960.1 L1067.0 959.0 L1066.0 958.9 L1065.0 958.2 L1064.0 958.9 L1063.0 959.1 L1062.0 959.3 L1061.0 961.1 L1060.0 959.3 L1059.0 960.5 L1058.0 956.8 L1057.0 957.2 L1056.0 957.4 L1055.0 959.9 L1054.0 957.4 L1053.0 958.1 L1052.0 959.3 L1051.0 959.1 L1050.0 957.5 L1049.0 959.6 L1048.0 956.0 L1047.0 956.1 L1046.0 958.3 L1045.0 956.4 L1044.0 957.9 L1043.0 954.5 L1042.0 958.8 L1041.0 956.1 L1040.0 957.6 L1039.0 961.1 L1038.0 955.1 L1037.0 960.4 L1036.0 957.9 L1035.0 954.0 L1034.0 953.6 L1033.0 957.5 L1032.0 957.3 L1031.0 958.6 L1030.0 956.9 L1029.0 957.9 L1028.0 957.4 L1027.0 959.7 L1026.0 955.9 L1025.0 958.2 L1024.0 958.4 L1023.0 954.7 L1022.0 956.7 L1021.0 957.6 L1020.0 956.0 L1019.0 960.0 L1018.0 956.6 L1017.0 957.7 L1016.0 959.9 L1015.0 961.2 L1013.9 957.9 L1012.9 959.3 L1011.9 958.3 L1010.8 959.0 L1009.9 957.3 L1008.8 959.4 L1007.8 961.3 L1006.8 955.5 L1005.8 961.2 L1004.8 959.7 L1003.8 957.2 L1002.7 960.7 L1001.7 960.0 L1000.7 960.2 L999.7 959.2 L998.8 955.4 L997.7 957.5 L996.7 958.7 L995.7 959.3 L994.7 960.2 L993.8 956.6 L992.8 953.6 L991.6 959.7 L990.7 957.2 L989.7 959.4 L988.7 957.3 L987.7 956.7 L986.8 954.6 L985.7 957.0 L984.7 955.3 L983.7 959.2 L982.8 953.2 L981.6 958.3 L980.8 953.3 L979.7 954.1 L978.7 958.7 L977.6 956.2 L976.7 954.0 L975.7 954.3 L974.7 955.4 L973.7 953.5 L972.7 955.5 L971.7 956.3 L970.7 958.1 L969.7 961.8 L968.8 957.0 L967.8 957.8 L966.8 955.2 L965.8 954.0 L964.8 958.6 L963.9 953.1 L962.8 958.0 L961.8 957.6 L960.8 959.4 L959.8 958.1 L958.8 958.5 L957.8 960.1 L956.8 956.3 L955.7 957.3 L954.7 956.3 L953.6 957.2 L952.7 953.9 L951.5 956.4 L950.6 954.7 L949.5 954.7 L948.4 955.9 L947.4 957.0 L946.5 953.9 L945.4 958.1 L944.2 959.6 L943.2 958.8 L942.4 956.4 L941.0 959.5 L940.3 956.1 L939.4 954.7 L938.4 954.1 L937.5 954.2 L936.3 955.7 L935.1 957.9 L934.2 955.1 L933.0 958.7 L932.2 954.1 L931.1 955.6 L930.2 953.5 L929.2 953.2 L928.4 951.0 L927.0 957.5 L926.2 955.7 L925.2 954.7 L924.1 953.1 L923.0 955.8 L922.2 952.6 L921.1 953.9 L920.0 958.8 L919.2 953.8 L917.9 957.5 L917.3 951.6 L916.2 954.9 L915.3 952.5 L914.2 953.1 L913.1 957.8 L912.3 955.5 L911.6 950.5 L910.4 954.1 L909.4 953.1 L908.5 950.2 L907.5 950.8 L906.5 953.5 L905.5 949.1 L904.5 951.4 L903.4 954.8 L902.4 953.0 L901.5 956.4 L900.6 952.7 L899.7 952.3 L898.5 955.4 L897.5 955.3 L896.5 954.3 L895.6 952.5 L894.7 950.1 L893.5 949.4 L892.5 950.7 L891.4 949.6 L890.4 950.3 L889.2 951.0 L888.5 945.2 L887.2 952.2 L886.6 947.0 L885.2 950.7 L884.1 954.8 L883.2 950.7 L882.1 953.9 L881.2 952.0 L880.0 951.4 L879.2 949.2 L878.2 950.2 L877.1 948.1 L876.0 953.5 L874.9 951.4 L874.3 947.7 L873.0 951.3 L872.3 946.9 L871.1 948.7 L870.2 949.7 L869.2 947.8 L868.1 950.0 L867.1 946.1 L866.0 951.3 L864.9 949.8 L864.0 949.5 L863.0 950.1 L862.1 950.6 L861.0 951.9 L860.2 949.4 L859.2 951.6 L858.4 948.2 L857.4 948.0 L856.3 948.8 L855.3 948.3 L854.2 950.5 L853.2 948.6 L852.4 944.4 L851.3 947.2 L850.3 949.0 L849.2 950.1 L848.2 951.6 L847.4 947.5 L846.5 947.1 L845.5 948.1 L844.4 950.3 L843.6 945.2 L842.5 949.7 L841.5 948.2 L840.5 950.6 L839.4 950.2 L838.4 949.1 L837.2 950.2 L836.4 945.6 L835.2 947.9 L834.3 945.7 L833.3 944.8 L832.0 949.5 L830.9 947.8 L830.2 949.4 L829.3 945.5 L828.2 945.6 L826.8 951.1 L826.0 949.3 L824.9 947.5 L823.8 947.5 L822.7 948.7 L821.8 945.4 L821.1 943.1 L819.8 945.1 L818.7 945.6 L817.7 945.2 L816.8 946.7 L816.2 940.2 L814.3 947.3 L813.9 943.0 L812.6 944.8 L811.6 945.4 L810.6 944.5 L809.6 943.3 L808.6 947.7 L807.6 945.5 L806.8 945.2 L806.0 942.7 L804.9 943.8 L803.4 947.1 L802.6 945.8 L801.4 948.5 L800.1 951.4 L799.9 943.1 L798.4 948.7 L798.1 942.1 L796.9 944.4 L796.2 943.1 L795.1 942.3 L794.1 942.6 L792.9 945.0 L792.0 944.0 L791.3 942.7 L790.3 942.8 L789.3 942.0 L788.2 943.8 L787.3 943.5 L786.3 942.9 L785.4 940.6 L784.2 940.4 L782.8 947.2 L782.2 942.2 L781.0 943.7 L780.2 939.5 L778.8 940.1 L777.4 942.0 L776.6 942.4 L775.3 944.8 L774.2 941.6 L773.4 937.4 L772.5 939.2 L771.1 941.2 L769.9 938.6 L768.7 943.3 L768.2 938.2 L766.9 941.1 L765.5 939.3 L764.4 939.8 L763.5 939.3 L762.6 939.8 L761.1 939.9 L760.9 936.6 L759.4 937.9 L758.2 939.6 L758.1 932.4 L756.2 937.5 L755.2 938.1 L754.4 938.9 L753.4 937.1 L752.1 938.6 L750.9 937.3 L749.8 939.9 L749.1 937.6 L748.3 937.8 L747.6 934.6 L747.0 932.5 L744.9 937.5 L744.7 932.2 L743.6 933.6 L742.6 936.8 L742.1 932.9 L740.5 936.8 L739.6 933.6 L739.0 933.9 L737.9 935.1 L736.4 935.6 L735.6 935.9 L735.1 932.1 L734.4 927.2 L732.9 933.1 L732.3 932.6 L731.3 932.7 L730.3 933.1 L728.8 938.7 L728.2 934.2 L727.8 930.5 L726.7 928.9 L725.6 930.6 L724.7 929.6 L723.5 929.2 L722.2 930.1 L720.6 933.5 L720.3 928.3 L718.4 930.9 L717.2 929.5 L715.3 928.9 L714.8 927.4 L713.0 931.9 L712.8 926.2 L711.0 928.9 L710.5 929.4 L709.8 926.5 L709.0 925.1 L707.8 926.9 L706.3 926.7 L705.9 926.7 L704.5 925.3 L704.4 923.7 L702.1 927.4 L701.6 926.0 L701.4 923.3 L700.2 923.3 L699.5 924.4 L698.4 925.3 L698.3 922.6 L697.1 924.2 L696.3 925.5 L695.4 925.9 L694.5 926.2 L693.6 923.2 L692.1 926.2 L691.6 921.6 L690.1 923.4 L689.3 922.2 L687.2 926.5 L686.6 921.4 L685.9 919.9 L684.5 921.6 L683.9 921.1 L682.6 920.1 L681.4 921.0 L680.4 920.5 L679.2 921.2 L678.3 920.7 L677.4 918.3 L676.8 917.0 L674.9 920.8 L674.5 921.5 L673.7 918.6 L672.7 919.2 L671.9 916.8 L670.2 919.0 L669.2 920.1 L668.7 918.2 L667.9 917.2 L666.9 917.6 L666.1 918.5 L665.3 918.8 L664.5 916.0 L664.1 918.7 L663.6 920.5 L663.2 916.0 L662.8 917.9 L662.8 918.8 L662.5 916.6 L661.1 915.9 L660.7 914.2 L660.3 918.0 L658.6 914.7 L658.4 918.4 L657.2 918.2 L656.4 917.6 L656.1 920.7 L654.6 921.9 L653.0 919.9 L652.2 919.6 L650.7 918.0 L650.1 921.8 L649.2 920.3 L648.2 923.5 L646.3 921.3 L646.1 926.5 L644.5 922.4 L642.5 920.7 L641.5 922.2 L640.3 922.4 L639.9 928.2 L639.0 927.2 L638.1 926.3 L636.8 923.4 L636.1 924.4 L635.3 925.4 L634.6 922.4 L633.5 924.4 L632.4 924.1 L632.4 928.0 L631.2 926.5 L630.7 928.2 L629.0 930.6 L628.2 928.8 L626.4 926.8 L625.3 925.9 L625.1 929.8 L623.4 924.8 L622.2 924.5 L621.2 924.8 L620.5 928.8 L619.2 926.7 L618.1 928.1 L616.8 926.3 L615.6 928.2 L614.1 926.5 L613.0 928.8 L611.9 932.9 L610.4 928.9 L609.1 925.7 L608.0 925.3 L607.0 925.9 L606.0 929.0 L605.0 926.6 L604.0 929.8 L603.0 930.6 L602.0 923.2 L601.0 928.7 L600.0 928.0 L599.0 931.1 L598.0 928.1 L597.0 927.8 L596.0 927.7 L595.0 933.8 L594.0 930.7 L593.0 931.1 L592.0 925.7 L591.0 927.1 L590.0 925.9 L589.0 926.6 L588.0 931.8 L587.0 928.8 L586.0 927.1 L584.9 927.1 L583.6 927.3 L582.2 931.2 L580.8 927.3 L578.6 934.8 L578.1 928.8 L576.0 933.0 L575.8 929.3 L573.7 928.4 L573.2 927.3 L572.7 923.2 L570.7 924.3 L569.9 924.1 L567.5 927.9 L567.6 923.3 L565.4 927.4 L565.6 923.7 L564.7 924.2 L563.3 924.9 L561.7 922.9 L561.0 924.0 L560.3 922.7 L559.3 922.9 L558.7 922.4 L557.6 923.8 L556.8 925.0 L556.1 924.3 L555.0 924.3 L554.5 923.3 L553.6 921.0 L552.5 919.5 L551.2 916.4 L548.5 921.0 L548.0 918.0 L547.7 917.9 L542.8 921.2 L542.1 920.8 L542.2 915.5 L541.0 916.5 L539.3 916.4 L536.4 915.7 L536.2 916.4 L536.1 911.9 L536.2 911.6 L533.8 914.7 L532.1 912.6 L532.4 909.0 L528.0 912.7 L530.1 907.9 L529.7 908.3 L528.9 906.0 L527.7 906.2 L524.8 908.6 L523.4 906.7 L526.3 902.1 L523.8 901.8 L521.7 905.8 L522.5 903.7 L520.8 905.6 L521.6 903.3 L520.4 903.1 L520.2 902.5 L517.7 902.5 L517.8 897.9 L515.3 899.8 L512.4 902.4 L512.7 897.8 L511.4 897.0 L510.3 895.2 L508.7 897.5 L508.6 896.2 L507.5 892.3 L506.4 888.9 L504.6 891.0 L504.6 890.2 L503.6 890.1 L501.4 889.6 L500.3 890.3 L500.5 890.9 L499.6 886.3 L498.2 887.9 L496.2 887.4 L496.0 887.6 L494.7 888.4 L496.6 883.5 L494.4 884.4 L494.1 886.4 L493.8 884.1 L493.3 882.4 L492.8 884.2 L490.8 886.6 L490.6 880.3 L489.0 884.7 L487.2 882.3 L487.0 882.1 L484.7 880.1 L482.9 882.8 L482.7 881.5 L480.9 880.5 L480.1 879.6 L477.7 881.1 L477.0 879.2 L477.8 876.5 L477.1 870.9 L475.6 872.8 L474.5 873.3 L473.5 871.1 L471.4 873.8 L470.8 874.0 L470.0 874.6 L469.9 872.7 L467.4 875.9 L467.4 872.8 L467.4 872.0 L466.4 870.8 L466.7 868.6 L465.2 872.5 L465.3 866.7 L464.8 866.6 L463.2 868.7 L462.1 870.0 L461.1 870.7 L460.0 869.2 L458.8 868.6 L457.7 867.7 L456.6 867.5 L455.4 867.2 L453.7 866.5 L453.7 864.6 L451.8 864.5 L451.1 864.6 L449.3 864.8 L448.2 865.3 L448.1 861.4 L445.8 865.4 L445.4 864.1 L444.8 863.8 L444.0 862.1 L443.5 861.9 L442.6 860.5 L442.0 861.8 L440.2 863.5 L440.6 859.2 L439.7 859.9 L438.8 859.7 L437.5 863.8 L436.9 860.9 L435.8 861.8 L434.7 860.6 L433.7 860.4 L432.4 857.6 L431.0 859.8 L430.3 859.4 L427.6 862.1 L427.9 860.4 L426.8 857.2 L425.5 859.6 L424.1 857.2 L422.0 859.6 L421.7 858.3 L421.0 855.7 L420.5 855.0 L418.9 854.7 L418.3 854.9 L417.7 854.8 L415.8 857.6 L415.3 855.2 L414.3 856.8 L413.3 856.0 L412.3 854.8 L412.0 853.6 L411.1 853.5 L410.0 856.5 L410.0 850.1 L408.9 852.6 L407.0 857.5 L406.3 853.4 L404.6 856.4 L403.6 853.2 L403.1 849.0 L400.3 853.8 L400.5 850.6 L398.4 852.8 L398.4 849.4 L397.4 851.5 L396.4 849.8 L396.1 850.4 L395.4 849.1 L394.3 849.8 L392.8 849.5 L392.7 847.6 L390.7 849.8 L388.2 851.9 L387.9 847.7 L385.8 849.4 L383.9 848.7 L383.0 847.1 L382.8 844.5 L381.8 846.4 L381.0 843.8 L379.7 844.0 L378.9 845.3 L379.8 847.5 L380.2 849.3 L381.5 845.2 L381.9 843.5 L382.0 841.7 L384.2 844.8 L383.1 844.5 L380.7 843.2 L380.2 842.5 L378.7 841.9 L377.4 843.5 L378.8 846.4 L376.9 849.3 L375.2 850.2 L373.4 849.2 L372.5 851.0 L371.3 851.5 L371.1 854.8 L369.7 851.9 L367.9 849.8 L367.7 854.0 L368.1 856.1 L366.4 855.5 L365.3 853.8 L364.6 854.2 L362.8 856.7 L362.5 857.1 L360.9 857.4 L360.1 860.7 L357.2 857.2 L356.3 859.5 L354.3 856.4 L352.6 855.7 L352.3 859.6 L351.5 859.0 L350.8 857.9 L350.5 860.1 L349.0 857.4 L348.5 861.2 L347.4 859.2 L345.7 858.5 L344.6 858.5 L343.1 856.5 L342.1 857.6 L341.3 858.5 L340.7 862.2 L339.9 859.4 L339.2 859.6 L339.3 860.5 L339.5 861.9 L337.5 861.5 L338.5 865.1 L336.2 860.9 L335.1 862.3 L334.2 866.1 L332.6 864.6 L331.1 864.8 L329.8 866.6 L328.6 867.3 L327.0 864.6 L325.8 868.2 L324.4 863.2 L324.1 866.4 L323.1 864.3 L322.5 868.7 L322.1 866.6 L320.9 870.5 L319.9 868.4 L319.0 871.7 L317.9 867.9 L317.1 871.4 L315.1 868.9 L313.2 871.4 L311.2 869.8 L309.5 869.7 L307.8 869.3 L306.1 867.8 L304.3 872.1 L303.3 869.4 L302.0 869.8 L301.4 867.5 L299.6 869.1 L298.7 870.7 L297.7 867.9 L297.0 867.6 L295.6 874.0 L295.5 866.7 L294.4 865.0 L292.8 868.6 L292.1 864.8 L290.4 867.6 L289.3 863.6 L287.5 866.3 L287.2 862.7 L285.7 863.3 L283.6 865.8 L282.8 862.4 L281.4 864.3 L281.4 863.0 L280.3 861.5 L278.7 861.9 L277.1 864.3 L276.3 862.0 L276.2 858.9 L275.8 856.1 L273.3 861.9 L272.0 860.4 L271.7 861.6 L269.5 864.7 L270.3 861.8 L270.0 855.9 L267.8 862.7 L267.5 859.1 L267.3 856.3 L265.7 860.1 L265.2 858.4 L263.8 857.7 L262.3 856.1 L260.4 857.5 L258.9 857.7 L257.7 855.3 L253.9 855.8 L254.7 853.0 L252.2 854.8 L251.8 851.1 L247.9 856.4 L249.9 853.7 L249.9 849.2 L249.3 849.7 L246.8 853.4 L245.6 853.5 L244.8 850.2 L245.1 844.5 L241.6 847.0 L239.3 844.0 L239.9 844.6 L238.5 839.5 L234.3 841.7 L234.1 839.6 L233.8 838.9 L230.5 840.9 L233.2 836.0 L231.9 833.6 L230.8 833.3 L228.3 833.2 L229.4 831.1 L225.8 829.8 L224.8 826.8 L224.6 822.7 L223.8 821.1 L221.3 817.7 L219.6 815.6 L219.4 812.3 L216.3 812.9 L217.3 811.0 L216.1 806.5 L216.0 806.5 L213.2 805.4 L211.8 801.9 L211.5 798.4 L209.1 794.7 L208.6 792.3 L206.8 786.3 L209.0 781.1 L207.7 777.1 L205.6 775.0 L206.2 772.0 L203.4 769.5 L202.1 767.2 L202.6 767.0 L200.9 760.5 L197.2 755.4 L197.0 748.6 L193.6 743.7 L194.1 739.3 L194.1 733.1 L192.2 728.7 L193.9 723.1 L191.0 718.1 L193.0 714.2 L189.0 710.9 L189.1 706.8 L187.1 702.2 L184.7 690.9 L185.4 682.7 L185.8 674.6 L181.1 671.6 L180.0 667.3 L181.6 659.1 L180.5 648.5 L180.6 641.6 L178.9 632.1 L178.2 624.0 L176.0 622.6 L176.8 625.0 L178.0 630.0 L187.0 631.2 L186.0 633.1Z" fill="#0000FF" clip-path="url(#ca2)"/>
<path d="M186.0 621.7 L188.0 615.8 L190.0 624.5 L192.0 631.7 L194.0 639.5 L196.0 666.6 L198.0 675.2 L200.0 692.2 L202.0 704.5 L204.0 708.4 L206.0 718.2 L208.0 730.5 L210.0 740.3 L212.0 755.1 L214.0 755.4 L216.0 763.9 L218.0 767.8 L220.0 777.2 L222.0 785.9 L224.0 794.7 L226.0 792.3 L228.0 795.2 L230.0 803.6 L232.0 808.5 L234.0 810.3 L236.0 825.6 L238.0 819.8 L240.0 829.1 L242.0 824.9 L244.0 833.1 L246.0 833.6 L248.0 838.6 L250.0 835.9 L252.0 842.5 L254.0 835.0 L256.0 844.6 L258.0 848.2 L260.0 843.0 L262.0 839.9 L264.0 843.2 L266.0 849.2 L268.0 842.9 L270.0 842.1 L272.0 850.8 L274.0 848.0 L276.0 856.4 L278.0 841.5 L280.0 851.9 L282.0 848.2 L284.0 852.0 L286.0 856.1 L288.0 847.4 L290.0 856.1 L292.0 854.6 L294.0 855.3 L296.0 855.1 L298.0 857.4 L300.0 852.3 L302.0 860.2 L304.0 858.7 L306.0 855.7 L308.0 862.4 L310.0 855.8 L312.0 860.1 L314.0 854.2 L316.0 855.5 L318.0 855.9 L320.0 854.4 L322.0 847.6 L324.0 856.0 L326.0 852.2 L328.0 852.8 L330.0 848.1 L332.0 851.5 L334.0 846.9 L336.0 852.8 L338.0 860.5 L340.0 855.7 L342.0 850.9 L344.0 847.2 L346.0 845.6 L348.0 839.5 L350.0 851.3 L352.0 850.6 L354.0 845.7 L356.0 849.2 L358.0 844.6 L360.0 843.4 L362.0 841.8 L364.0 838.4 L366.0 837.5 L368.0 838.2 L370.0 836.1 L372.0 839.0 L374.0 834.9 L376.0 835.6 L378.0 836.6 L380.0 837.2 L382.0 833.6 L384.0 832.9 L386.0 837.0 L388.0 829.1 L390.0 832.0 L392.0 833.7 L394.0 839.6 L396.0 835.5 L398.0 844.2 L400.0 837.7 L402.0 835.8 L404.0 844.6 L406.0 843.6 L408.0 840.9 L410.0 848.4 L412.0 837.9 L414.0 840.3 L416.0 836.0 L418.0 852.5 L420.0 847.8 L422.0 839.2 L424.0 857.8 L426.0 845.6 L428.0 847.5 L430.0 839.1 L432.0 838.2 L434.0 847.7 L436.0 847.2 L438.0 859.2 L440.0 858.4 L442.0 849.6 L444.0 856.2 L446.0 848.8 L448.0 850.3 L450.0 850.4 L452.0 851.3 L454.0 851.2 L456.0 859.6 L458.0 850.5 L460.0 862.1 L462.0 853.0 L464.0 857.8 L466.0 861.9 L468.0 848.5 L470.0 859.5 L472.0 857.9 L474.0 860.2 L476.0 862.3 L478.0 855.8 L480.0 861.7 L482.0 860.2 L484.0 865.1 L486.0 864.9 L488.0 874.1 L490.0 870.9 L492.0 873.4 L494.0 874.3 L496.0 880.1 L498.0 878.2 L500.0 871.7 L502.0 875.1 L504.0 873.8 L506.0 870.9 L508.0 886.6 L510.0 883.3 L512.0 873.1 L514.0 885.1 L516.0 892.1 L518.0 883.8 L520.0 889.5 L522.0 886.4 L524.0 892.8 L526.0 886.4 L528.0 892.5 L530.0 887.0 L532.0 894.6 L534.0 901.8 L536.0 903.4 L538.0 905.8 L540.0 900.7 L542.0 899.5 L544.0 907.1 L546.0 903.9 L548.0 900.8 L550.0 903.2 L552.0 906.1 L554.0 904.8 L556.0 909.0 L558.0 915.1 L560.0 911.0 L562.0 917.5 L564.0 909.6 L566.0 912.6 L568.0 919.8 L570.0 912.4 L572.0 918.2 L574.0 911.4 L576.0 918.5 L578.0 920.9 L580.0 919.2 L582.0 915.4 L584.0 920.9 L586.0 918.1 L588.0 918.9 L590.0 918.1 L592.0 913.3 L594.0 922.2 L596.0 920.3 L598.0 922.1 L600.0 917.7 L602.0 918.4 L604.0 921.5 L606.0 916.3 L608.0 916.9 L610.0 910.5 L612.0 919.5 L614.0 918.2 L616.0 918.8 L618.0 912.6 L620.0 908.1 L622.0 921.4 L624.0 917.5 L626.0 923.8 L628.0 916.0 L630.0 908.3 L632.0 913.5 L634.0 915.5 L636.0 917.3 L638.0 910.8 L640.0 905.6 L642.0 914.0 L644.0 903.5 L646.0 907.1 L648.0 908.4 L650.0 916.2 L652.0 908.1 L654.0 908.5 L656.0 903.1 L658.0 899.7 L660.0 902.9 L662.0 911.7 L664.0 903.4 L666.0 908.5 L668.0 913.6 L670.0 905.0 L672.0 910.3 L674.0 906.6 L676.0 911.6 L678.0 909.2 L680.0 909.2 L682.0 908.9 L684.0 911.4 L686.0 900.2 L688.0 911.4 L690.0 908.2 L692.0 915.0 L694.0 920.8 L696.0 915.8 L698.0 915.1 L700.0 904.8 L702.0 915.1 L704.0 918.8 L706.0 915.1 L708.0 919.2 L710.0 917.4 L712.0 911.3 L714.0 921.5 L716.0 913.5 L718.0 920.0 L720.0 923.7 L722.0 915.3 L724.0 920.6 L726.0 925.7 L728.0 923.8 L730.0 922.5 L732.0 927.7 L734.0 923.4 L736.0 911.6 L738.0 930.2 L740.0 922.8 L742.0 923.1 L744.0 925.1 L746.0 919.9 L748.0 919.4 L750.0 923.1 L752.0 922.6 L754.0 928.4 L756.0 930.5 L758.0 928.6 L760.0 929.3 L762.0 929.6 L764.0 925.4 L766.0 929.2 L768.0 927.9 L770.0 930.4 L772.0 935.7 L774.0 928.5 L776.0 926.5 L778.0 944.4 L780.0 930.7 L782.0 929.8 L784.0 931.5 L786.0 938.0 L788.0 937.5 L790.0 927.2 L792.0 926.9 L794.0 935.7 L796.0 935.0 L798.0 941.5 L800.0 936.4 L802.0 935.5 L804.0 937.4 L806.0 940.7 L808.0 935.0 L810.0 935.5 L812.0 943.0 L814.0 935.4 L816.0 943.5 L818.0 937.1 L820.0 941.3 L822.0 938.7 L824.0 934.5 L826.0 939.4 L828.0 937.7 L830.0 944.2 L832.0 934.3 L834.0 937.9 L836.0 938.7 L838.0 938.4 L840.0 932.9 L842.0 941.2 L844.0 928.3 L846.0 934.6 L848.0 943.8 L850.0 933.0 L852.0 933.1 L854.0 937.2 L856.0 938.4 L858.0 935.9 L860.0 944.7 L862.0 945.7 L864.0 934.9 L866.0 939.6 L868.0 932.7 L870.0 939.8 L872.0 937.2 L874.0 938.9 L876.0 948.0 L878.0 950.1 L880.0 941.0 L882.0 939.3 L884.0 944.9 L886.0 934.4 L888.0 939.3 L890.0 942.6 L892.0 940.7 L894.0 941.1 L896.0 944.2 L898.0 951.7 L900.0 949.8 L902.0 945.3 L904.0 945.1 L906.0 940.6 L908.0 931.8 L910.0 940.4 L912.0 944.9 L914.0 947.1 L916.0 948.6 L918.0 941.0 L920.0 945.5 L922.0 943.3 L924.0 946.9 L926.0 940.9 L928.0 949.0 L930.0 942.0 L932.0 950.8 L934.0 948.3 L936.0 945.6 L938.0 949.5 L940.0 947.4 L942.0 946.8 L944.0 941.9 L946.0 944.2 L948.0 949.7 L950.0 946.3 L952.0 946.8 L954.0 944.3 L956.0 945.4 L958.0 947.1 L960.0 949.2 L962.0 941.6 L964.0 949.5 L966.0 949.3 L968.0 947.5 L970.0 946.6 L972.0 949.5 L974.0 947.4 L976.0 947.0 L978.0 945.4 L980.0 947.6 L982.0 949.1 L984.0 953.1 L986.0 939.4 L988.0 941.8 L990.0 953.2 L992.0 952.6 L994.0 939.1 L996.0 950.3 L998.0 952.8 L1000.0 955.1 L1002.0 944.2 L1004.0 955.1 L1006.0 953.1 L1008.0 951.5 L1010.0 943.7 L1012.0 952.2 L1014.0 949.0 L1016.0 954.5 L1018.0 948.8 L1020.0 946.3 L1022.0 948.5 L1024.0 950.1 L1026.0 942.8 L1028.0 951.8 L1030.0 953.9 L1032.0 947.6 L1034.0 949.7 L1036.0 953.5 L1038.0 954.7 L1040.0 951.9 L1042.0 952.4 L1044.0 952.5 L1046.0 951.8 L1048.0 946.7 L1050.0 944.9 L1052.0 949.4 L1054.0 949.8 L1056.0 953.4 L1058.0 945.3 L1060.0 954.0 L1062.0 951.5 L1064.0 949.2 L1066.0 947.7 L1068.0 952.0 L1070.0 946.7 L1072.0 946.3 L1074.0 952.1 L1076.0 953.1 L1078.0 949.8 L1080.0 947.5 L1082.0 943.8 L1084.0 946.7 L1086.0 949.0 L1088.0 944.5 L1090.0 948.5 L1092.0 946.9 L1094.0 948.6 L1096.0 956.6 L1098.0 945.3 L1100.0 953.2 L1102.0 955.4 L1104.0 940.0 L1106.0 948.7 L1108.0 942.7 L1110.0 947.1 L1112.0 945.3 L1114.0 944.6 L1116.0 940.0 L1118.0 946.1 L1120.0 949.5 L1122.0 943.1 L1124.0 942.8 L1126.0 950.5" fill="none" stroke="#0000FF" stroke-width="10" stroke-linejoin="round" stroke-linecap="round" clip-path="url(#ca2)"/>
<path d="M190.0 1448.4 L191.0 1448.3 L192.0 1447.6 L193.0 1447.9 L194.0 1447.3 L195.0 1447.4 L196.0 1447.6 L197.0 1447.1 L198.0 1448.4 L199.0 1447.4 L200.0 1449.2 L201.0 1448.2 L202.0 1447.9 L203.0 1448.2 L204.0 1446.9 L205.0 1447.2 L206.0 1447.9 L207.0 1447.6 L208.0 1447.2 L209.0 1448.0 L210.0 1447.4 L211.0 1448.9 L212.0 1447.0 L213.0 1447.6 L214.0 1447.6 L215.0 1449.2 L216.0 1447.5 L217.0 1447.2 L218.0 1446.7 L219.0 1446.5 L220.0 1447.3 L221.0 1448.5 L222.0 1446.6 L223.0 1448.3 L224.0 1447.7 L225.0 1447.6 L226.0 1448.9 L227.0 1447.5 L228.0 1447.3 L229.0 1447.2 L230.0 1447.3 L231.0 1447.5 L232.0 1447.1 L233.0 1448.0 L234.0 1446.3 L235.0 1447.6 L236.0 1447.9 L237.0 1447.0 L238.0 1448.4 L239.0 1446.0 L240.0 1446.8 L241.0 1447.3 L242.0 1447.0 L243.0 1447.1 L244.0 1445.6 L245.0 1446.5 L246.0 1446.5 L247.0 1446.2 L248.0 1447.4 L249.0 1446.1 L250.0 1446.9 L251.0 1447.4 L252.0 1447.2 L253.0 1446.8 L254.0 1446.6 L255.0 1446.5 L256.0 1446.3 L257.0 1446.9 L258.0 1447.2 L259.0 1447.2 L260.0 1447.6 L261.0 1448.0 L262.0 1446.8 L263.0 1446.7 L264.0 1446.5 L265.0 1447.5 L266.0 1446.9 L267.0 1445.8 L268.0 1447.0 L269.0 1446.9 L270.0 1446.8 L271.0 1446.3 L272.0 1446.5 L273.0 1445.9 L274.0 1446.6 L275.0 1447.9 L276.0 1447.3 L277.0 1445.8 L278.0 1445.9 L279.0 1446.0 L280.0 1445.7 L281.0 1446.4 L282.0 1445.0 L283.0 1447.0 L284.0 1446.4 L285.0 1446.6 L286.0 1446.1 L287.0 1447.0 L288.0 1445.4 L289.0 1446.4 L290.0 1445.1 L291.0 1444.8 L292.0 1445.6 L293.0 1446.1 L294.0 1446.2 L295.0 1444.0 L296.0 1446.3 L297.0 1444.8 L298.0 1445.6 L299.0 1446.2 L300.0 1445.6 L301.0 1443.5 L302.0 1444.6 L303.0 1444.4 L304.0 1444.5 L305.0 1444.6 L306.0 1445.8 L307.0 1443.9 L308.0 1444.4 L309.0 1445.0 L310.0 1444.1 L311.0 1444.9 L312.0 1443.8 L313.0 1445.0 L314.0 1445.2 L315.0 1444.2 L316.0 1445.1 L317.0 1444.3 L318.0 1443.9 L319.0 1443.6 L320.0 1443.6 L321.0 1444.0 L322.0 1444.2 L323.0 1443.9 L324.0 1443.8 L325.0 1445.0 L326.0 1444.1 L327.0 1442.6 L328.0 1443.3 L329.0 1444.1 L330.0 1443.3 L331.0 1444.1 L332.0 1445.3 L333.0 1443.0 L334.0 1445.0 L335.0 1443.2 L336.0 1443.2 L337.0 1443.4 L338.0 1442.6 L339.0 1442.6 L340.0 1443.1 L341.0 1442.2 L342.0 1443.9 L343.0 1443.7 L344.0 1441.8 L345.0 1443.9 L346.0 1442.7 L347.0 1443.6 L348.0 1442.6 L349.0 1443.6 L350.0 1442.8 L351.0 1442.9 L352.0 1442.8 L353.0 1443.3 L354.0 1443.7 L355.0 1443.1 L356.0 1442.8 L357.0 1442.0 L358.0 1443.4 L359.0 1441.8 L360.0 1442.9 L361.0 1442.1 L362.0 1443.1 L363.0 1442.6 L364.0 1442.8 L365.0 1442.0 L366.0 1442.2 L367.0 1442.2 L368.0 1441.9 L369.0 1443.3 L370.0 1442.8 L371.0 1442.6 L372.0 1441.9 L373.0 1441.9 L374.0 1441.3 L375.0 1442.6 L376.0 1442.0 L377.0 1442.0 L378.0 1442.4 L379.0 1441.7 L380.0 1440.1 L381.0 1441.5 L382.0 1441.1 L383.0 1442.3 L384.0 1440.9 L385.0 1442.1 L386.0 1442.4 L387.0 1441.2 L388.0 1441.8 L389.0 1441.9 L390.0 1441.5 L391.0 1441.0 L392.0 1442.0 L393.0 1440.7 L394.0 1441.7 L395.0 1442.3 L396.0 1441.3 L397.0 1442.4 L398.0 1442.2 L399.0 1442.7 L400.0 1442.6 L401.0 1442.5 L402.0 1442.1 L403.0 1442.5 L404.0 1442.2 L405.0 1442.5 L406.0 1442.6 L407.0 1442.2 L408.0 1441.4 L409.0 1442.5 L410.0 1443.3 L411.0 1442.4 L412.0 1443.8 L413.0 1444.1 L414.0 1443.6 L415.0 1442.0 L416.0 1443.4 L417.0 1443.0 L418.0 1443.8 L419.0 1442.6 L420.0 1444.2 L421.0 1443.1 L422.0 1443.7 L423.0 1443.3 L424.0 1443.4 L425.0 1442.6 L426.0 1443.1 L427.0 1442.4 L428.0 1443.4 L429.0 1442.7 L430.0 1444.4 L431.0 1443.8 L432.0 1443.0 L433.0 1444.1 L434.0 1444.2 L435.0 1443.4 L436.0 1443.2 L437.0 1442.9 L438.0 1444.3 L439.0 1444.0 L440.0 1443.9 L441.0 1444.6 L442.0 1443.6 L443.0 1445.0 L444.0 1444.2 L445.0 1445.2 L446.0 1445.5 L447.0 1445.3 L448.0 1445.0 L449.0 1444.8 L450.0 1445.7 L451.0 1444.7 L452.0 1445.1 L453.0 1444.7 L454.0 1443.1 L455.0 1444.1 L456.0 1443.4 L457.0 1444.7 L458.0 1445.0 L459.0 1443.6 L460.0 1442.9 L461.0 1443.5 L462.0 1442.8 L463.0 1443.7 L464.0 1442.7 L465.0 1441.1 L466.0 1442.0 L467.0 1440.4 L468.0 1439.2 L469.0 1441.7 L470.0 1438.9 L471.0 1438.0 L472.0 1436.4 L473.0 1434.3 L474.0 1431.9 L475.0 1429.1 L476.0 1424.8 L477.0 1416.9 L478.0 1408.5 L479.0 1391.1 L480.0 1367.7 L481.0 1324.5 L482.0 1253.2 L483.0 1160.2 L484.0 1126.1 L485.0 1198.1 L486.0 1285.7 L487.0 1342.5 L488.0 1378.6 L489.0 1400.3 L490.0 1412.7 L491.0 1421.9 L492.0 1427.8 L493.0 1433.5 L494.0 1435.5 L495.0 1437.6 L496.0 1439.5 L497.0 1440.8 L498.0 1442.7 L499.0 1442.3 L500.0 1443.2 L501.0 1444.3 L502.0 1444.5 L503.0 1446.7 L504.0 1444.9 L505.0 1445.2 L506.0 1446.4 L507.0 1447.4 L508.0 1448.2 L509.0 1446.4 L510.0 1447.0 L511.0 1446.4 L512.0 1448.6 L513.0 1448.6 L514.0 1449.9 L515.0 1447.5 L516.0 1449.1 L517.0 1449.6 L518.0 1449.3 L519.0 1448.8 L520.0 1449.5 L521.0 1449.8 L522.0 1450.4 L523.0 1449.2 L524.0 1449.5 L525.0 1450.7 L526.0 1450.3 L527.0 1450.2 L528.0 1450.1 L529.0 1450.6 L530.0 1448.4 L531.0 1450.6 L532.0 1450.2 L533.0 1450.6 L534.0 1450.8 L535.0 1450.1 L536.0 1450.5 L537.0 1450.1 L538.0 1451.3 L539.0 1450.5 L540.0 1450.0 L541.0 1451.2 L542.0 1451.1 L543.0 1450.3 L544.0 1451.1 L545.0 1452.4 L546.0 1451.3 L547.0 1451.2 L548.0 1451.9 L549.0 1452.1 L550.0 1452.2 L551.0 1451.7 L552.0 1452.0 L553.0 1451.4 L554.0 1450.3 L555.0 1452.6 L556.0 1453.5 L557.0 1451.9 L558.0 1452.7 L559.0 1451.2 L560.0 1451.5 L561.0 1452.3 L562.0 1452.2 L563.0 1451.8 L564.0 1453.4 L565.0 1453.1 L566.0 1452.5 L567.0 1451.1 L568.0 1451.3 L569.0 1452.4 L570.0 1451.2 L571.0 1452.8 L572.0 1452.3 L573.0 1450.8 L574.0 1452.9 L575.0 1452.2 L576.0 1452.6 L577.0 1451.7 L578.0 1452.2 L579.0 1452.4 L580.0 1452.5 L581.0 1452.8 L582.0 1452.0 L583.0 1451.5 L584.0 1450.9 L585.0 1453.0 L586.0 1452.7 L587.0 1453.3 L588.0 1453.4 L589.0 1454.1 L590.0 1453.3 L591.0 1452.2 L592.0 1452.1 L593.0 1453.3 L594.0 1452.4 L595.0 1451.8 L596.0 1451.6 L597.0 1452.5 L598.0 1453.5 L599.0 1452.7 L600.0 1451.6 L601.0 1452.6 L602.0 1451.8 L603.0 1453.2 L604.0 1453.6 L605.0 1452.1 L606.0 1452.9 L607.0 1453.8 L608.0 1453.4 L609.0 1453.5 L610.0 1453.4 L611.0 1452.3 L612.0 1453.6 L613.0 1452.8 L614.0 1452.1 L615.0 1451.4 L616.0 1453.5 L617.0 1452.4 L618.0 1453.0 L619.0 1453.2 L620.0 1452.2 L621.0 1452.6 L622.0 1453.2 L623.0 1453.9 L624.0 1454.6 L625.0 1454.4 L626.0 1453.4 L627.0 1453.6 L628.0 1452.5 L629.0 1452.6 L630.0 1452.4 L631.0 1453.6 L632.0 1453.2 L633.0 1454.2 L634.0 1453.4 L635.0 1453.5 L636.0 1453.7 L637.0 1453.8 L638.0 1453.4 L639.0 1454.3 L640.0 1453.1 L641.0 1453.3 L642.0 1454.4 L643.0 1453.5 L644.0 1453.6 L645.0 1453.9 L646.0 1453.9 L647.0 1453.2 L648.0 1453.6 L649.0 1453.5 L650.0 1453.6 L651.0 1453.0 L652.0 1452.4 L653.0 1452.2 L654.0 1451.9 L655.0 1450.8 L656.0 1450.5 L657.0 1448.8 L658.0 1449.8 L659.0 1449.5 L660.0 1450.0 L661.0 1452.7 L662.0 1453.2 L663.0 1453.7 L664.0 1453.6 L665.0 1452.0 L666.0 1452.4 L667.0 1453.6 L668.0 1453.1 L669.0 1454.5 L670.0 1452.4 L671.0 1452.8 L672.0 1454.2 L673.0 1454.3 L674.0 1453.7 L675.0 1454.5 L676.0 1453.5 L677.0 1453.3 L678.0 1453.0 L679.0 1453.0 L680.0 1453.9 L681.0 1453.0 L682.0 1453.9 L683.0 1453.9 L684.0 1452.8 L685.0 1453.5 L686.0 1454.4 L687.0 1454.3 L688.0 1454.5 L689.0 1453.9 L690.0 1454.8 L691.0 1455.1 L692.0 1454.4 L693.0 1454.0 L694.0 1455.3 L695.0 1453.2 L696.0 1453.8 L697.0 1453.2 L698.0 1454.0 L699.0 1454.0 L700.0 1453.4 L701.0 1453.5 L702.0 1452.2 L703.0 1452.5 L704.0 1451.2 L705.0 1451.4 L706.0 1450.8 L707.0 1449.8 L708.0 1447.9 L709.0 1447.3 L710.0 1445.4 L711.0 1444.1 L712.0 1441.9 L713.0 1436.9 L714.0 1430.9 L715.0 1423.5 L716.0 1406.5 L717.0 1381.1 L718.0 1347.2 L719.0 1313.1 L720.0 1318.4 L721.0 1354.0 L722.0 1388.0 L723.0 1409.8 L724.0 1423.0 L725.0 1432.9 L726.0 1438.0 L727.0 1442.3 L728.0 1443.7 L729.0 1446.2 L730.0 1446.7 L731.0 1448.1 L732.0 1449.3 L733.0 1450.8 L734.0 1451.3 L735.0 1451.9 L736.0 1452.5 L737.0 1451.8 L738.0 1451.9 L739.0 1452.0 L740.0 1451.6 L741.0 1453.8 L742.0 1453.4 L743.0 1453.3 L744.0 1453.5 L745.0 1453.9 L746.0 1452.0 L747.0 1452.7 L748.0 1452.4 L749.0 1452.5 L750.0 1453.2 L751.0 1452.7 L752.0 1452.0 L753.0 1449.8 L754.0 1449.9 L755.0 1448.8 L756.0 1450.5 L757.0 1451.8 L758.0 1453.0 L759.0 1453.5 L760.0 1454.5 L761.0 1453.2 L762.0 1453.3 L763.0 1454.9 L764.0 1453.5 L765.0 1453.2 L766.0 1455.3 L767.0 1454.8 L768.0 1456.0 L769.0 1454.6 L770.0 1455.1 L771.0 1455.9 L772.0 1455.2 L773.0 1455.0 L774.0 1456.1 L775.0 1455.0 L776.0 1455.5 L777.0 1454.6 L778.0 1455.0 L779.0 1455.3 L780.0 1455.5 L781.0 1455.6 L782.0 1455.5 L783.0 1455.2 L784.0 1454.7 L785.0 1454.8 L786.0 1454.7 L787.0 1455.1 L788.0 1455.8 L789.0 1455.7 L790.0 1456.3 L791.0 1455.5 L792.0 1456.4 L793.0 1455.7 L794.0 1455.9 L795.0 1454.5 L796.0 1455.8 L797.0 1455.4 L798.0 1454.7 L799.0 1454.8 L800.0 1454.6 L801.0 1454.1 L802.0 1454.0 L803.0 1455.1 L804.0 1454.2 L805.0 1455.3 L806.0 1454.6 L807.0 1453.8 L808.0 1455.7 L809.0 1455.0 L810.0 1454.3 L811.0 1455.3 L812.0 1453.2 L813.0 1454.0 L814.0 1453.0 L815.0 1453.5 L816.0 1453.4 L817.0 1452.2 L818.0 1451.7 L819.0 1451.4 L820.0 1450.3 L821.0 1448.2 L822.0 1447.0 L823.0 1445.2 L824.0 1442.3 L825.0 1435.7 L826.0 1425.8 L827.0 1413.4 L828.0 1393.8 L829.0 1378.7 L830.0 1383.3 L831.0 1400.5 L832.0 1418.4 L833.0 1430.9 L834.0 1438.1 L835.0 1442.5 L836.0 1446.0 L837.0 1448.3 L838.0 1450.3 L839.0 1451.5 L840.0 1452.3 L841.0 1452.2 L842.0 1452.6 L843.0 1453.8 L844.0 1454.1 L845.0 1455.6 L846.0 1454.4 L847.0 1454.3 L848.0 1455.2 L849.0 1454.1 L850.0 1454.8 L851.0 1454.7 L852.0 1455.6 L853.0 1455.6 L854.0 1454.8 L855.0 1455.7 L856.0 1455.0 L857.0 1455.4 L858.0 1455.4 L859.0 1456.5 L860.0 1456.2 L861.0 1457.2 L862.0 1456.0 L863.0 1455.2 L864.0 1455.8 L865.0 1456.4 L866.0 1454.9 L867.0 1456.4 L868.0 1455.9 L869.0 1456.3 L870.0 1454.8 L871.0 1456.0 L872.0 1454.1 L873.0 1453.0 L874.0 1453.1 L875.0 1452.0 L876.0 1451.5 L877.0 1450.5 L878.0 1452.0 L879.0 1453.6 L880.0 1454.0 L881.0 1454.4 L882.0 1455.9 L883.0 1455.8 L884.0 1456.0 L885.0 1456.2 L886.0 1456.8 L887.0 1456.5 L888.0 1455.5 L889.0 1456.7 L890.0 1456.3 L891.0 1457.0 L892.0 1456.5 L893.0 1457.0 L894.0 1457.0 L895.0 1457.3 L896.0 1456.7 L897.0 1456.6 L898.0 1457.3 L899.0 1456.8 L900.0 1457.4 L901.0 1456.2 L902.0 1457.7 L903.0 1457.6 L904.0 1457.0 L905.0 1457.4 L906.0 1456.8 L907.0 1457.0 L908.0 1456.8 L909.0 1457.3 L910.0 1456.2 L911.0 1456.0 L912.0 1457.2 L913.0 1457.1 L914.0 1457.5 L915.0 1457.2 L916.0 1457.6 L917.0 1457.7 L918.0 1457.6 L919.0 1457.4 L920.0 1457.0 L921.0 1456.1 L922.0 1457.2 L923.0 1457.0 L924.0 1457.5 L925.0 1456.7 L926.0 1457.8 L927.0 1457.3 L928.0 1457.4 L929.0 1457.0 L930.0 1457.5 L931.0 1457.6 L932.0 1457.8 L933.0 1457.1 L934.0 1456.2 L935.0 1457.3 L936.0 1457.3 L937.0 1456.5 L938.0 1457.5 L939.0 1456.7 L940.0 1458.3 L941.0 1457.9 L942.0 1456.4 L943.0 1456.9 L944.0 1458.0 L945.0 1457.2 L946.0 1458.5 L947.0 1457.8 L948.0 1457.8 L949.0 1456.9 L950.0 1457.4 L951.0 1456.9 L952.0 1456.2 L953.0 1456.8 L954.0 1456.9 L955.0 1457.7 L956.0 1458.2 L957.0 1457.4 L958.0 1457.2 L959.0 1457.9 L960.0 1457.6 L961.0 1457.5 L962.0 1457.7 L963.0 1457.5 L964.0 1457.6 L965.0 1458.5 L966.0 1457.7 L967.0 1456.2 L968.0 1456.9 L969.0 1456.8 L970.0 1457.8 L971.0 1458.3 L972.0 1457.9 L973.0 1457.3 L974.0 1458.0 L975.0 1456.7 L976.0 1457.5 L977.0 1456.2 L978.0 1456.3 L979.0 1456.8 L980.0 1456.8 L981.0 1456.4 L982.0 1456.7 L983.0 1456.4 L984.0 1455.5 L985.0 1454.9 L986.0 1455.7 L987.0 1452.3 L988.0 1452.0 L989.0 1449.5 L990.0 1446.2 L991.0 1443.9 L992.0 1442.8 L993.0 1444.0 L994.0 1447.3 L995.0 1449.0 L996.0 1451.4 L997.0 1453.3 L998.0 1455.0 L999.0 1454.0 L1000.0 1455.4 L1001.0 1455.6 L1002.0 1457.3 L1003.0 1456.0 L1004.0 1455.5 L1005.0 1455.3 L1006.0 1456.4 L1007.0 1456.6 L1008.0 1457.7 L1009.0 1457.5 L1010.0 1457.2 L1011.0 1457.3 L1012.0 1457.0 L1013.0 1456.8 L1014.0 1457.8 L1015.0 1456.3 L1016.0 1457.7 L1017.0 1458.3 L1018.0 1458.4 L1019.0 1457.6 L1020.0 1458.8 L1021.0 1457.3 L1022.0 1458.4 L1023.0 1457.6 L1024.0 1458.9 L1025.0 1457.2 L1026.0 1457.4 L1027.0 1458.3 L1028.0 1458.1 L1029.0 1458.0 L1030.0 1458.8 L1031.0 1457.4 L1032.0 1458.5 L1033.0 1457.6 L1034.0 1458.8 L1035.0 1458.7 L1036.0 1458.0 L1037.0 1456.4 L1038.0 1457.6 L1039.0 1457.1 L1040.0 1457.6 L1041.0 1456.6 L1042.0 1457.8 L1043.0 1456.4 L1044.0 1458.6 L1045.0 1457.0 L1046.0 1457.4 L1047.0 1457.4 L1048.0 1457.3 L1049.0 1457.1 L1050.0 1457.3 L1051.0 1457.3 L1052.0 1457.7 L1053.0 1458.2 L1054.0 1458.6 L1055.0 1458.6 L1056.0 1458.1 L1057.0 1458.2 L1058.0 1457.6 L1059.0 1458.0 L1060.0 1456.8 L1061.0 1458.8 L1062.0 1458.6 L1063.0 1457.5 L1064.0 1457.5 L1065.0 1457.3 L1066.0 1457.6 L1067.0 1456.9 L1068.0 1458.3 L1069.0 1457.5 L1070.0 1457.1 L1071.0 1456.4 L1072.0 1457.2 L1073.0 1455.6 L1074.0 1456.1 L1075.0 1456.3 L1076.0 1454.1 L1077.0 1452.2 L1078.0 1451.3 L1079.0 1446.3 L1080.0 1443.1 L1081.0 1438.7 L1082.0 1437.9 L1083.0 1440.3 L1084.0 1443.3 L1085.0 1448.3 L1086.0 1449.9 L1087.0 1452.4 L1088.0 1453.7 L1089.0 1454.7 L1090.0 1456.2 L1091.0 1455.7 L1092.0 1456.2 L1093.0 1456.5 L1094.0 1457.4 L1095.0 1457.1 L1096.0 1458.2 L1097.0 1456.9 L1098.0 1456.9 L1099.0 1458.5 L1100.0 1458.1 L1101.0 1457.9 L1102.0 1457.5 L1103.0 1458.0 L1104.0 1457.7 L1105.0 1458.0 L1106.0 1458.0 L1107.0 1458.5 L1108.0 1458.3 L1109.0 1458.3 L1110.0 1458.7 L1111.0 1457.3 L1112.0 1457.9 L1113.0 1458.3 L1114.0 1460.0 L1115.0 1458.2 L1116.0 1457.7 L1117.0 1459.0 L1118.0 1457.7 L1119.0 1459.4 L1120.0 1458.0 L1121.0 1458.2 L1122.0 1457.9 L1123.0 1458.2 L1124.0 1458.7 L1125.0 1459.0 L1126.0 1458.2" fill="none" stroke="#FF8000" stroke-width="12.5" stroke-linejoin="round" stroke-linecap="round" clip-path="url(#ca3)"/>
<line x1="251.0" y1="542.6" x2="251.0" y2="517.6" stroke="#000" stroke-width="5.2"/>
<line x1="313.45" y1="542.6" x2="313.45" y2="528.6" stroke="#000" stroke-width="5.2"/>
<line x1="375.9" y1="542.6" x2="375.9" y2="517.6" stroke="#000" stroke-width="5.2"/>
<line x1="438.35" y1="542.6" x2="438.35" y2="528.6" stroke="#000" stroke-width="5.2"/>
<line x1="500.8" y1="542.6" x2="500.8" y2="517.6" stroke="#000" stroke-width="5.2"/>
<line x1="563.25" y1="542.6" x2="563.25" y2="528.6" stroke="#000" stroke-width="5.2"/>
<line x1="625.7" y1="542.6" x2="625.7" y2="517.6" stroke="#000" stroke-width="5.2"/>
<line x1="688.1500000000001" y1="542.6" x2="688.1500000000001" y2="528.6" stroke="#000" stroke-width="5.2"/>
<line x1="750.6" y1="542.6" x2="750.6" y2="517.6" stroke="#000" stroke-width="5.2"/>
<line x1="813.05" y1="542.6" x2="813.05" y2="528.6" stroke="#000" stroke-width="5.2"/>
<line x1="875.5" y1="542.6" x2="875.5" y2="517.6" stroke="#000" stroke-width="5.2"/>
<line x1="937.95" y1="542.6" x2="937.95" y2="528.6" stroke="#000" stroke-width="5.2"/>
<line x1="1000.4" y1="542.6" x2="1000.4" y2="517.6" stroke="#000" stroke-width="5.2"/>
<line x1="1062.85" y1="542.6" x2="1062.85" y2="528.6" stroke="#000" stroke-width="5.2"/>
<line x1="251.0" y1="1026.8" x2="251.0" y2="1001.8" stroke="#000" stroke-width="5.2"/>
<line x1="313.45" y1="1026.8" x2="313.45" y2="1012.8" stroke="#000" stroke-width="5.2"/>
<line x1="375.9" y1="1026.8" x2="375.9" y2="1001.8" stroke="#000" stroke-width="5.2"/>
<line x1="438.35" y1="1026.8" x2="438.35" y2="1012.8" stroke="#000" stroke-width="5.2"/>
<line x1="500.8" y1="1026.8" x2="500.8" y2="1001.8" stroke="#000" stroke-width="5.2"/>
<line x1="563.25" y1="1026.8" x2="563.25" y2="1012.8" stroke="#000" stroke-width="5.2"/>
<line x1="625.7" y1="1026.8" x2="625.7" y2="1001.8" stroke="#000" stroke-width="5.2"/>
<line x1="688.1500000000001" y1="1026.8" x2="688.1500000000001" y2="1012.8" stroke="#000" stroke-width="5.2"/>
<line x1="750.6" y1="1026.8" x2="750.6" y2="1001.8" stroke="#000" stroke-width="5.2"/>
<line x1="813.05" y1="1026.8" x2="813.05" y2="1012.8" stroke="#000" stroke-width="5.2"/>
<line x1="875.5" y1="1026.8" x2="875.5" y2="1001.8" stroke="#000" stroke-width="5.2"/>
<line x1="937.95" y1="1026.8" x2="937.95" y2="1012.8" stroke="#000" stroke-width="5.2"/>
<line x1="1000.4" y1="1026.8" x2="1000.4" y2="1001.8" stroke="#000" stroke-width="5.2"/>
<line x1="1062.85" y1="1026.8" x2="1062.85" y2="1012.8" stroke="#000" stroke-width="5.2"/>
<line x1="251.0" y1="1511.2" x2="251.0" y2="1486.2" stroke="#000" stroke-width="5.2"/>
<line x1="313.45" y1="1511.2" x2="313.45" y2="1497.2" stroke="#000" stroke-width="5.2"/>
<line x1="375.9" y1="1511.2" x2="375.9" y2="1486.2" stroke="#000" stroke-width="5.2"/>
<line x1="438.35" y1="1511.2" x2="438.35" y2="1497.2" stroke="#000" stroke-width="5.2"/>
<line x1="500.8" y1="1511.2" x2="500.8" y2="1486.2" stroke="#000" stroke-width="5.2"/>
<line x1="563.25" y1="1511.2" x2="563.25" y2="1497.2" stroke="#000" stroke-width="5.2"/>
<line x1="625.7" y1="1511.2" x2="625.7" y2="1486.2" stroke="#000" stroke-width="5.2"/>
<line x1="688.1500000000001" y1="1511.2" x2="688.1500000000001" y2="1497.2" stroke="#000" stroke-width="5.2"/>
<line x1="750.6" y1="1511.2" x2="750.6" y2="1486.2" stroke="#000" stroke-width="5.2"/>
<line x1="813.05" y1="1511.2" x2="813.05" y2="1497.2" stroke="#000" stroke-width="5.2"/>
<line x1="875.5" y1="1511.2" x2="875.5" y2="1486.2" stroke="#000" stroke-width="5.2"/>
<line x1="937.95" y1="1511.2" x2="937.95" y2="1497.2" stroke="#000" stroke-width="5.2"/>
<line x1="1000.4" y1="1511.2" x2="1000.4" y2="1486.2" stroke="#000" stroke-width="5.2"/>
<line x1="1062.85" y1="1511.2" x2="1062.85" y2="1497.2" stroke="#000" stroke-width="5.2"/>
<rect x="189.4" y="59.4" width="936.4" height="1451.8" fill="none" stroke="#000" stroke-width="5.4"/>
<line x1="189.4" y1="542.6" x2="1125.8" y2="542.6" stroke="#000" stroke-width="5.4"/>
<line x1="189.4" y1="1026.8" x2="1125.8" y2="1026.8" stroke="#000" stroke-width="5.4"/>
<circle cx="461.5" cy="94.3" r="12.8" fill="#FF0000"/>
<rect x="377.6" y="309.1" width="22.6" height="22.6" fill="#001A62"/>
<rect x="649.0" y="410.5" width="22.6" height="22.6" fill="#001A62"/>
<circle cx="716" cy="433" r="12.8" fill="#FF0000"/>
<polygon points="760.5,409.4 775.5,427.4 760.5,445.4 745.5,427.4" fill="#009A00"/>
<circle cx="819.3" cy="435.8" r="12.8" fill="#FF0000"/>
<polygon points="876.5,405.2 891.5,423.2 876.5,441.2 861.5,423.2" fill="#009A00"/>
<circle cx="979.2" cy="435.3" r="12.8" fill="#FF0000"/>
<circle cx="1073.6" cy="444.3" r="12.8" fill="#FF0000"/>
<rect x="386.3" y="783.1" width="22.6" height="22.6" fill="#001A62"/>
<rect x="657.4" y="860.6" width="22.6" height="22.6" fill="#001A62"/>
<circle cx="480.6" cy="1080.7" r="12.8" fill="#FF0000"/>
<circle cx="720.6" cy="1272.2" r="12.8" fill="#FF0000"/>
<circle cx="830" cy="1341.7" r="12.8" fill="#FF0000"/>
<circle cx="992.8" cy="1407.7" r="12.8" fill="#FF0000"/>
<circle cx="1082.8" cy="1401.2" r="12.8" fill="#FF0000"/>
<polygon points="928.2,101.8 943.2,119.8 928.2,137.8 913.2,119.8" fill="#009A00"/>
<rect x="918.2" y="175.1" width="22.6" height="22.6" fill="#001A62"/>
<circle cx="930" cy="251.4" r="12.8" fill="#FF0000"/>
<path d="M1335.0 354.8 L1336.0 355.6 L1337.0 355.8 L1338.0 355.9 L1339.0 356.3 L1340.0 355.7 L1341.0 356.1 L1342.0 354.4 L1343.0 356.9 L1344.0 355.7 L1345.0 356.5 L1346.0 355.4 L1347.0 355.1 L1348.0 355.4 L1349.0 355.7 L1350.0 354.6 L1351.0 354.9 L1352.0 354.4 L1353.0 356.7 L1354.0 355.3 L1355.0 355.0 L1356.0 355.0 L1357.0 353.4 L1358.0 355.0 L1359.0 354.3 L1360.0 353.7 L1361.0 351.8 L1362.0 353.5 L1363.0 351.5 L1364.0 350.8 L1365.0 349.9 L1366.0 352.0 L1367.0 349.3 L1368.0 348.2 L1369.0 347.3 L1370.0 346.0 L1371.0 342.6 L1372.0 339.4 L1373.0 334.9 L1374.0 329.7 L1375.0 321.7 L1376.0 308.6 L1377.0 288.3 L1378.0 259.8 L1379.0 213.9 L1380.0 162.9 L1381.0 145.9 L1382.0 182.4 L1383.0 232.4 L1384.0 272.1 L1385.0 296.2 L1386.0 314.8 L1387.0 325.4 L1388.0 331.8 L1389.0 337.9 L1390.0 340.6 L1391.0 344.5 L1392.0 346.3 L1393.0 347.7 L1394.0 348.7 L1395.0 350.3 L1396.0 350.8 L1397.0 351.8 L1398.0 351.1 L1399.0 352.2 L1400.0 352.3 L1401.0 353.8 L1402.0 352.6 L1403.0 354.2 L1404.0 354.3 L1405.0 354.8 L1406.0 354.7 L1407.0 355.3 L1408.0 355.8 L1409.0 355.1 L1410.0 354.8 L1411.0 355.6 L1412.0 355.9 L1413.0 356.1 L1414.0 356.0 L1415.0 355.9 L1416.0 355.8 L1417.0 354.8 L1418.0 356.0 L1419.0 356.1 L1420.0 355.5 L1421.0 355.8 L1422.0 355.3 L1423.0 356.8 L1424.0 355.1 L1425.0 355.8 L1426.0 357.2 L1427.0 354.7 L1428.0 354.8 L1429.0 355.8 L1430.0 357.4 L1431.0 356.7 L1432.0 356.5 L1433.0 355.6 L1434.0 355.7 L1435.0 355.4 L1436.0 356.8 L1437.0 357.1 L1438.0 356.7 L1439.0 357.1 L1440.0 357.9 L1441.0 357.0 L1442.0 356.3 L1443.0 355.3 L1444.0 357.3 L1445.0 356.4 L1446.0 357.4 L1447.0 355.1 L1448.0 356.8 L1449.0 357.4 L1450.0 356.4 L1451.0 356.5 L1452.0 357.0 L1453.0 356.1 L1454.0 357.0 L1455.0 357.0 L1456.0 356.8 L1457.0 358.1 L1458.0 357.3 L1459.0 356.8 L1460.0 356.3 L1461.0 357.8 L1462.0 356.6 L1463.0 357.1 L1464.0 356.6 L1465.0 355.8 L1466.0 355.9 L1467.0 357.3 L1468.0 357.5 L1469.0 355.3 L1470.0 356.4 L1471.0 355.6 L1472.0 357.3 L1473.0 356.6 L1474.0 356.2 L1475.0 358.6 L1476.0 358.1 L1477.0 355.9 L1478.0 357.4 L1479.0 355.6 L1480.0 356.5 L1481.0 356.4 L1482.0 357.2 L1483.0 357.5 L1484.0 356.3 L1485.0 358.4 L1486.0 356.0 L1487.0 357.3 L1488.0 356.7 L1489.0 357.3 L1490.0 357.4 L1491.0 357.2 L1492.0 355.9 L1493.0 358.1 L1494.0 357.1 L1495.0 356.7 L1496.0 356.0 L1497.0 356.3 L1498.0 355.4 L1499.0 355.4 L1500.0 356.8 L1501.0 355.9 L1502.0 356.7 L1503.0 355.6 L1504.0 356.7 L1505.0 355.7 L1506.0 358.0 L1507.0 357.8 L1508.0 355.3 L1509.0 357.1 L1510.0 357.6 L1511.0 358.7 L1512.0 357.2 L1513.0 357.0 L1514.0 355.9 L1515.0 357.7 L1516.0 357.1 L1517.0 357.6 L1518.0 356.7 L1519.0 355.4 L1520.0 357.5 L1521.0 356.7 L1522.0 357.3 L1523.0 358.0 L1524.0 357.6 L1525.0 356.6 L1526.0 357.4 L1527.0 356.1 L1528.0 356.4 L1529.0 355.8 L1530.0 356.2 L1531.0 355.7 L1532.0 356.6 L1533.0 356.7 L1534.0 357.0 L1535.0 355.4 L1536.0 356.5 L1537.0 357.1 L1538.0 358.3 L1539.0 357.0 L1540.0 358.0 L1541.0 358.4 L1542.0 356.5 L1543.0 356.3 L1544.0 355.6 L1545.0 355.4 L1546.0 356.8 L1547.0 356.2 L1548.0 356.0 L1549.0 357.9 L1550.0 355.1 L1551.0 356.3 L1552.0 355.6 L1553.0 356.5 L1554.0 356.1 L1555.0 355.2 L1556.0 355.9 L1557.0 356.2 L1558.0 357.7 L1559.0 356.9 L1560.0 357.1 L1561.0 356.8 L1562.0 356.0 L1563.0 355.7 L1564.0 356.5 L1565.0 356.6 L1566.0 355.9 L1567.0 356.1 L1568.0 356.4 L1569.0 357.7 L1570.0 356.6 L1571.0 357.2 L1572.0 355.6 L1573.0 354.4 L1574.0 356.6 L1575.0 357.3 L1576.0 355.9 L1577.0 355.4 L1578.0 357.6 L1579.0 356.9 L1580.0 355.3 L1581.0 357.1 L1582.0 356.7 L1583.0 355.3 L1584.0 356.9 L1585.0 356.8 L1586.0 355.4 L1587.0 355.2 L1588.0 355.5 L1589.0 355.6 L1590.0 355.6 L1591.0 357.6 L1592.0 356.8 L1593.0 356.0 L1594.0 356.0 L1595.0 356.2 L1596.0 356.4 L1597.0 354.2 L1598.0 355.9 L1599.0 355.5 L1600.0 354.8 L1601.0 355.8 L1602.0 355.9 L1603.0 355.2 L1604.0 355.7 L1605.0 357.2 L1606.0 356.1 L1607.0 354.9 L1608.0 354.8 L1609.0 354.8 L1610.0 355.2 L1611.0 355.6 L1612.0 354.7 L1613.0 354.4 L1614.0 354.1 L1615.0 356.9 L1616.0 355.7 L1617.0 355.1 L1618.0 353.9 L1619.0 354.6 L1620.0 355.5 L1621.0 352.5 L1622.0 354.7 L1623.0 354.7 L1624.0 354.1 L1625.0 353.7 L1626.0 352.5 L1627.0 351.5 L1628.0 350.7 L1629.0 350.0 L1630.0 351.2 L1631.0 351.5 L1632.0 349.1 L1633.0 349.3 L1634.0 347.0 L1635.0 346.7 L1636.0 347.2 L1637.0 344.6 L1638.0 343.6 L1639.0 345.4 L1640.0 343.7 L1641.0 343.9 L1642.0 343.7 L1643.0 344.6 L1644.0 344.4 L1645.0 343.6 L1646.0 343.8 L1647.0 344.2 L1648.0 344.8 L1649.0 345.1 L1650.0 344.2 L1651.0 343.6 L1652.0 342.9 L1653.0 343.3 L1654.0 344.2 L1655.0 343.6 L1656.0 343.0 L1657.0 344.3 L1658.0 343.7 L1659.0 344.7 L1660.0 345.0 L1661.0 345.3 L1662.0 347.2 L1663.0 348.7 L1664.0 349.4 L1665.0 349.1 L1666.0 351.3 L1667.0 351.0 L1668.0 351.8 L1669.0 352.3 L1670.0 352.6 L1671.0 353.9 L1672.0 352.0 L1673.0 352.8 L1674.0 353.5 L1675.0 353.8 L1676.0 353.0 L1677.0 352.8 L1678.0 353.8 L1679.0 352.0 L1680.0 352.8 L1681.0 353.3 L1682.0 353.7 L1683.0 354.1 L1684.0 354.2 L1685.0 352.4 L1686.0 353.3 L1687.0 355.1 L1688.0 354.7 L1689.0 354.9 L1690.0 354.8 L1691.0 353.6 L1692.0 353.8 L1693.0 354.1 L1694.0 354.8 L1695.0 354.3 L1696.0 353.3 L1697.0 354.0 L1698.0 353.5 L1699.0 353.9 L1700.0 352.7 L1701.0 353.7 L1702.0 353.3 L1703.0 355.9 L1704.0 353.4 L1705.0 354.0 L1706.0 352.9 L1707.0 354.7 L1708.0 355.3 L1709.0 354.4 L1710.0 354.4 L1711.0 354.1 L1712.0 353.7 L1713.0 352.7 L1714.0 352.4 L1715.0 352.3 L1716.0 353.9 L1717.0 353.7 L1718.0 353.6 L1719.0 353.1 L1720.0 352.3 L1721.0 353.1 L1722.0 354.0 L1723.0 352.3 L1724.0 353.2 L1725.0 354.6 L1726.0 352.4 L1727.0 354.3 L1728.0 353.2 L1729.0 354.4 L1730.0 352.8 L1731.0 352.9 L1732.0 353.8 L1733.0 354.0 L1734.0 354.0 L1735.0 354.0 L1736.0 352.7 L1737.0 353.8 L1738.0 353.9 L1739.0 352.8 L1740.0 354.0 L1741.0 353.4 L1742.0 353.9 L1743.0 354.0 L1744.0 352.5 L1745.0 353.2 L1746.0 354.2 L1747.0 351.5 L1748.0 353.7 L1749.0 353.3 L1750.0 354.7 L1751.0 354.9 L1752.0 354.2 L1753.0 353.1 L1754.0 353.6 L1755.0 353.3 L1756.0 353.5 L1757.0 353.0 L1758.0 352.7 L1759.0 352.4 L1760.0 353.9 L1761.0 353.5 L1762.0 353.2 L1763.0 353.4 L1764.0 354.1 L1765.0 354.0 L1766.0 352.5 L1767.0 352.6 L1768.0 353.4 L1769.0 352.2 L1770.0 353.4 L1771.0 352.9 L1772.0 353.5 L1773.0 351.8 L1774.0 352.2 L1775.0 353.1 L1776.0 352.6 L1777.0 352.4 L1778.0 352.0 L1779.0 352.4 L1780.0 352.1 L1781.0 352.5 L1782.0 352.2 L1783.0 351.4 L1784.0 352.6 L1785.0 352.7 L1786.0 351.5 L1787.0 352.7 L1788.0 352.2 L1789.0 352.7 L1790.0 351.3 L1791.0 351.5 L1792.0 352.4 L1793.0 350.9 L1794.0 352.4 L1795.0 351.7 L1796.0 351.8 L1797.0 351.6 L1798.0 351.8 L1799.0 351.1 L1800.0 349.5 L1801.0 351.9 L1802.0 351.5 L1803.0 351.9 L1804.0 351.7 L1805.0 351.2 L1806.0 351.1 L1807.0 351.1 L1808.0 351.8 L1809.0 351.9 L1810.0 350.7 L1811.0 351.1 L1812.0 353.0 L1813.0 351.3 L1814.0 351.4 L1815.0 351.6 L1816.0 350.9 L1817.0 351.7 L1818.0 351.6 L1819.0 351.3 L1820.0 352.7 L1821.0 350.6 L1822.0 352.0 L1823.0 349.8 L1824.0 349.7 L1825.0 349.8 L1826.0 350.3 L1827.0 350.8 L1828.0 351.0 L1829.0 349.8 L1830.0 350.9 L1831.0 351.3 L1832.0 351.7 L1833.0 349.4 L1834.0 350.9 L1835.0 350.5 L1836.0 350.0 L1837.0 351.2 L1838.0 349.9 L1839.0 351.1 L1840.0 349.7 L1841.0 350.5 L1842.0 349.2 L1843.0 350.6 L1844.0 349.0 L1845.0 349.5 L1846.0 350.2 L1847.0 348.2 L1848.0 349.2 L1849.0 348.3 L1850.0 347.6 L1851.0 347.9 L1852.0 348.4 L1853.0 349.5 L1854.0 348.4 L1855.0 348.6 L1856.0 348.0 L1857.0 348.5 L1858.0 348.1 L1859.0 346.1 L1860.0 346.8 L1861.0 346.8 L1862.0 347.2 L1863.0 347.2 L1864.0 346.1 L1865.0 346.9 L1866.0 346.9 L1867.0 344.9 L1868.0 346.7 L1869.0 346.5 L1870.0 346.9 L1871.0 346.7 L1872.0 346.8 L1873.0 345.5 L1874.0 345.6 L1875.0 342.4 L1876.0 341.6 L1877.0 342.0 L1878.0 342.6 L1879.0 344.4 L1880.0 343.7 L1881.0 346.4 L1882.0 345.7 L1883.0 345.9 L1884.0 347.6 L1885.0 346.9 L1886.0 348.4 L1887.0 346.8 L1888.0 346.7 L1889.0 347.4 L1890.0 349.7 L1891.0 348.0 L1892.0 348.5 L1893.0 347.9 L1894.0 348.3 L1895.0 348.6 L1896.0 349.6 L1897.0 348.5 L1898.0 349.8 L1899.0 348.2 L1900.0 349.0 L1901.0 350.3 L1902.0 349.9 L1903.0 350.3 L1904.0 348.9 L1905.0 348.9 L1906.0 349.0 L1907.0 348.9 L1908.0 349.9 L1909.0 348.3 L1910.0 349.4 L1911.0 350.3 L1912.0 350.4 L1913.0 349.7 L1914.0 348.6 L1915.0 349.1 L1916.0 349.7 L1917.0 350.6 L1918.0 350.0 L1919.0 350.2 L1920.0 349.2 L1921.0 348.5 L1922.0 349.4 L1923.0 349.4 L1924.0 349.5 L1925.0 348.7 L1926.0 349.3 L1927.0 349.4 L1928.0 349.7 L1929.0 349.2 L1930.0 349.8 L1931.0 349.8 L1932.0 349.1 L1933.0 348.9 L1934.0 348.6 L1935.0 349.0 L1936.0 349.9 L1937.0 350.8 L1938.0 350.5 L1939.0 351.1 L1940.0 351.3 L1941.0 350.3 L1942.0 351.4 L1943.0 349.7 L1944.0 350.4 L1945.0 350.7 L1946.0 349.9 L1947.0 349.8 L1948.0 350.7 L1949.0 350.5 L1950.0 349.6 L1951.0 350.3 L1952.0 350.2 L1953.0 351.1 L1954.0 350.8 L1955.0 349.6 L1956.0 349.9 L1957.0 350.9 L1958.0 350.2 L1959.0 350.2 L1960.0 350.8 L1961.0 350.4 L1962.0 350.7 L1963.0 348.1 L1964.0 351.1 L1965.0 350.9 L1966.0 351.0 L1967.0 350.2 L1968.0 350.6 L1969.0 349.9 L1970.0 351.2 L1971.0 350.6 L1972.0 351.0 L1973.0 349.9 L1974.0 351.7 L1975.0 351.6 L1976.0 350.8 L1977.0 350.8 L1978.0 350.1 L1979.0 351.2 L1980.0 350.5 L1981.0 350.5 L1982.0 350.4 L1983.0 348.9 L1984.0 350.0 L1985.0 349.8 L1986.0 351.2 L1987.0 350.0 L1988.0 350.6 L1989.0 348.9 L1990.0 350.7 L1991.0 349.3 L1992.0 349.7 L1993.0 348.5 L1994.0 348.8 L1995.0 349.6 L1996.0 351.1 L1997.0 349.3 L1998.0 349.0 L1999.0 350.1 L2000.0 350.5 L2001.0 349.1 L2002.0 349.3 L2003.0 348.3 L2004.0 348.6 L2005.0 348.1 L2006.0 348.7 L2007.0 348.9 L2008.0 348.6 L2009.0 347.0 L2010.0 347.4 L2011.0 348.7 L2012.0 347.9 L2013.0 347.1 L2014.0 347.4 L2015.0 346.6 L2016.0 346.9 L2017.0 345.5 L2018.0 347.5 L2019.0 345.7 L2020.0 345.3 L2021.0 346.1 L2022.0 344.8 L2023.0 344.8 L2024.0 342.9 L2025.0 342.2 L2026.0 342.0 L2027.0 340.0 L2028.0 341.5 L2029.0 340.3 L2030.0 342.0 L2031.0 343.9 L2032.0 344.8 L2033.0 345.4 L2034.0 346.1 L2035.0 346.6 L2036.0 347.9 L2037.0 346.8 L2038.0 347.4 L2039.0 348.2 L2040.0 349.5 L2041.0 348.6 L2042.0 348.0 L2043.0 349.7 L2044.0 349.3 L2045.0 349.1 L2046.0 349.4 L2047.0 349.5 L2048.0 349.8 L2049.0 350.4 L2050.0 350.7 L2051.0 350.2 L2052.0 350.6 L2053.0 349.3 L2054.0 351.1 L2055.0 351.7 L2056.0 349.6 L2057.0 349.6 L2058.0 351.1 L2059.0 351.6 L2060.0 352.9 L2061.0 351.9 L2062.0 351.0 L2063.0 351.6 L2064.0 353.3 L2065.0 353.2 L2066.0 352.7 L2067.0 353.3 L2068.0 353.3 L2069.0 354.8 L2070.0 352.3 L2071.0 352.4 L2072.0 353.8 L2073.0 354.0 L2074.0 353.9 L2075.0 354.2 L2076.0 354.0 L2077.0 354.7 L2078.0 354.2 L2079.0 353.2 L2080.0 353.8 L2081.0 354.4 L2082.0 353.5 L2083.0 354.3 L2084.0 352.1 L2085.0 353.1 L2086.0 353.7 L2087.0 355.1 L2088.0 354.9 L2089.0 354.5 L2090.0 354.2 L2091.0 354.7 L2092.0 354.8 L2093.0 353.4 L2094.0 354.1 L2095.0 355.3 L2096.0 354.7 L2097.0 354.3 L2098.0 355.4 L2099.0 355.1 L2100.0 354.0 L2101.0 354.8 L2102.0 355.3 L2103.0 354.9 L2104.0 355.2 L2105.0 356.6 L2106.0 356.0 L2107.0 356.1 L2108.0 355.8 L2109.0 355.9 L2110.0 355.9 L2111.0 355.4 L2112.0 355.4 L2113.0 356.7 L2114.0 356.2 L2115.0 356.2 L2116.0 355.7 L2117.0 356.8 L2118.0 354.1 L2119.0 355.6 L2120.0 356.9 L2121.0 357.5 L2122.0 356.4 L2123.0 355.5 L2124.0 357.3 L2125.0 356.0 L2126.0 355.8 L2127.0 356.6 L2128.0 356.8 L2129.0 357.1 L2130.0 357.9 L2131.0 357.1 L2132.0 356.9 L2133.0 356.5 L2134.0 356.7 L2135.0 356.3 L2136.0 357.9 L2137.0 357.3 L2138.0 356.7 L2139.0 357.5 L2140.0 357.2 L2141.0 356.1 L2142.0 357.4 L2143.0 356.0 L2144.0 355.2 L2145.0 355.3 L2146.0 358.2 L2147.0 356.2 L2148.0 357.5 L2149.0 358.1 L2150.0 356.4" fill="none" stroke="#008080" stroke-width="10.5" stroke-linejoin="round" stroke-linecap="round" clip-path="url(#cb)"/>
<path d="M1335.0 463.5 L1336.0 463.3 L1337.0 463.9 L1338.0 464.0 L1339.0 464.4 L1340.0 464.2 L1341.0 462.5 L1342.0 464.2 L1343.0 463.3 L1344.0 464.1 L1345.0 464.4 L1346.0 463.0 L1347.0 464.4 L1348.0 463.9 L1349.0 464.1 L1350.0 463.1 L1351.0 463.2 L1352.0 463.6 L1353.0 464.2 L1354.0 462.0 L1355.0 463.7 L1356.0 463.4 L1357.0 463.7 L1358.0 463.9 L1359.0 462.5 L1360.0 463.4 L1361.0 462.5 L1362.0 462.8 L1363.0 462.5 L1364.0 463.1 L1365.0 462.5 L1366.0 464.1 L1367.0 463.7 L1368.0 464.1 L1369.0 463.6 L1370.0 463.9 L1371.0 463.6 L1372.0 463.2 L1373.0 463.1 L1374.0 463.1 L1375.0 463.2 L1376.0 462.7 L1377.0 462.5 L1378.0 462.7 L1379.0 462.6 L1380.0 463.1 L1381.0 462.4 L1382.0 462.7 L1383.0 462.3 L1384.0 462.3 L1385.0 462.2 L1386.0 462.6 L1387.0 462.0 L1388.0 462.6 L1389.0 461.3 L1390.0 462.2 L1391.0 461.3 L1392.0 462.7 L1393.0 461.1 L1394.0 461.9 L1395.0 460.1 L1396.0 461.7 L1397.0 461.0 L1398.0 460.3 L1399.0 461.2 L1400.0 461.7 L1401.0 461.0 L1402.0 461.3 L1403.0 460.9 L1404.0 459.8 L1405.0 461.3 L1406.0 461.8 L1407.0 460.8 L1408.0 461.4 L1409.0 462.0 L1410.0 461.6 L1411.0 460.6 L1412.0 460.6 L1413.0 459.4 L1414.0 461.4 L1415.0 460.3 L1416.0 460.8 L1417.0 461.2 L1418.0 459.9 L1419.0 460.1 L1420.0 461.2 L1421.0 459.7 L1422.0 460.8 L1423.0 460.0 L1424.0 459.7 L1425.0 461.1 L1426.0 460.2 L1427.0 461.2 L1428.0 459.0 L1429.0 458.8 L1430.0 459.7 L1431.0 460.3 L1432.0 459.5 L1433.0 460.3 L1434.0 459.4 L1435.0 461.2 L1436.0 458.1 L1437.0 459.0 L1438.0 459.1 L1439.0 459.7 L1440.0 459.3 L1441.0 459.5 L1442.0 460.1 L1443.0 460.0 L1444.0 459.6 L1445.0 459.8 L1446.0 459.5 L1447.0 458.2 L1448.0 460.8 L1449.0 459.7 L1450.0 460.5 L1451.0 459.9 L1452.0 460.1 L1453.0 459.1 L1454.0 459.4 L1455.0 459.8 L1456.0 459.5 L1457.0 458.6 L1458.0 459.5 L1459.0 459.1 L1460.0 458.2 L1461.0 460.5 L1462.0 459.1 L1463.0 459.3 L1464.0 459.3 L1465.0 459.3 L1466.0 460.0 L1467.0 458.9 L1468.0 458.8 L1469.0 458.8 L1470.0 459.0 L1471.0 457.6 L1472.0 459.5 L1473.0 459.8 L1474.0 458.1 L1475.0 458.6 L1476.0 458.1 L1477.0 458.9 L1478.0 459.3 L1479.0 459.7 L1480.0 459.2 L1481.0 459.0 L1482.0 457.4 L1483.0 458.0 L1484.0 458.6 L1485.0 457.4 L1486.0 459.0 L1487.0 459.4 L1488.0 457.9 L1489.0 457.4 L1490.0 458.4 L1491.0 459.1 L1492.0 458.2 L1493.0 458.2 L1494.0 457.7 L1495.0 457.4 L1496.0 458.5 L1497.0 458.2 L1498.0 457.4 L1499.0 458.2 L1500.0 457.8 L1501.0 457.0 L1502.0 457.4 L1503.0 456.9 L1504.0 456.7 L1505.0 457.8 L1506.0 456.7 L1507.0 457.8 L1508.0 456.0 L1509.0 456.3 L1510.0 456.5 L1511.0 457.6 L1512.0 457.9 L1513.0 457.0 L1514.0 457.5 L1515.0 457.4 L1516.0 456.9 L1517.0 456.5 L1518.0 456.7 L1519.0 457.2 L1520.0 457.9 L1521.0 457.1 L1522.0 456.7 L1523.0 455.9 L1524.0 456.3 L1525.0 456.0 L1526.0 456.4 L1527.0 456.5 L1528.0 456.6 L1529.0 455.9 L1530.0 456.3 L1531.0 455.2 L1532.0 455.4 L1533.0 456.4 L1534.0 456.1 L1535.0 456.8 L1536.0 456.6 L1537.0 456.9 L1538.0 455.5 L1539.0 455.1 L1540.0 456.0 L1541.0 455.7 L1542.0 455.9 L1543.0 455.1 L1544.0 455.6 L1545.0 455.6 L1546.0 454.5 L1547.0 454.6 L1548.0 455.6 L1549.0 455.3 L1550.0 453.9 L1551.0 455.2 L1552.0 455.3 L1553.0 454.9 L1554.0 454.4 L1555.0 453.5 L1556.0 454.6 L1557.0 453.8 L1558.0 454.4 L1559.0 454.4 L1560.0 453.2 L1561.0 454.9 L1562.0 454.2 L1563.0 453.7 L1564.0 453.9 L1565.0 454.1 L1566.0 454.1 L1567.0 452.8 L1568.0 454.4 L1569.0 454.9 L1570.0 454.3 L1571.0 454.0 L1572.0 454.2 L1573.0 453.8 L1574.0 454.0 L1575.0 453.5 L1576.0 453.1 L1577.0 453.6 L1578.0 452.0 L1579.0 452.8 L1580.0 454.3 L1581.0 452.6 L1582.0 453.1 L1583.0 453.7 L1584.0 453.3 L1585.0 453.1 L1586.0 453.1 L1587.0 451.5 L1588.0 452.0 L1589.0 453.1 L1590.0 452.8 L1591.0 453.0 L1592.0 452.9 L1593.0 452.8 L1594.0 451.7 L1595.0 452.2 L1596.0 451.4 L1597.0 452.3 L1598.0 452.8 L1599.0 453.0 L1600.0 452.7 L1601.0 452.6 L1602.0 452.1 L1603.0 452.5 L1604.0 452.9 L1605.0 452.5 L1606.0 452.6 L1607.0 452.1 L1608.0 452.6 L1609.0 452.3 L1610.0 452.9 L1611.0 453.5 L1612.0 452.4 L1613.0 451.1 L1614.0 451.5 L1615.0 450.6 L1616.0 451.2 L1617.0 450.9 L1618.0 452.3 L1619.0 451.7 L1620.0 451.4 L1621.0 452.7 L1622.0 450.9 L1623.0 452.4 L1624.0 452.1 L1625.0 451.2 L1626.0 451.1 L1627.0 451.4 L1628.0 451.6 L1629.0 451.5 L1630.0 451.4 L1631.0 450.8 L1632.0 450.0 L1633.0 450.7 L1634.0 451.0 L1635.0 452.2 L1636.0 450.3 L1637.0 449.5 L1638.0 451.1 L1639.0 449.1 L1640.0 450.5 L1641.0 450.6 L1642.0 450.4 L1643.0 450.1 L1644.0 450.0 L1645.0 450.2 L1646.0 450.5 L1647.0 449.8 L1648.0 450.4 L1649.0 450.4 L1650.0 448.6 L1651.0 449.9 L1652.0 451.0 L1653.0 449.0 L1654.0 448.3 L1655.0 448.5 L1656.0 449.1 L1657.0 447.7 L1658.0 449.1 L1659.0 448.6 L1660.0 447.9 L1661.0 448.2 L1662.0 448.4 L1663.0 448.3 L1664.0 448.4 L1665.0 448.6 L1666.0 447.7 L1667.0 447.3 L1668.0 447.9 L1669.0 447.1 L1670.0 446.5 L1671.0 447.2 L1672.0 446.8 L1673.0 447.0 L1674.0 447.0 L1675.0 445.8 L1676.0 446.8 L1677.0 447.9 L1678.0 446.3 L1679.0 448.0 L1680.0 447.4 L1681.0 446.5 L1682.0 447.4 L1683.0 445.6 L1684.0 446.1 L1685.0 446.3 L1686.0 446.7 L1687.0 447.2 L1688.0 446.3 L1689.0 446.6 L1690.0 445.7 L1691.0 446.3 L1692.0 446.0 L1693.0 446.5 L1694.0 445.7 L1695.0 446.3 L1696.0 446.1 L1697.0 445.7 L1698.0 446.2 L1699.0 445.8 L1700.0 445.8 L1701.0 446.4 L1702.0 445.6 L1703.0 445.4 L1704.0 444.2 L1705.0 445.0 L1706.0 445.1 L1707.0 444.7 L1708.0 445.0 L1709.0 445.0 L1710.0 446.5 L1711.0 445.6 L1712.0 444.6 L1713.0 445.5 L1714.0 444.0 L1715.0 444.7 L1716.0 443.5 L1717.0 444.1 L1718.0 444.3 L1719.0 444.9 L1720.0 445.2 L1721.0 443.8 L1722.0 444.5 L1723.0 444.0 L1724.0 443.2 L1725.0 443.2 L1726.0 443.9 L1727.0 441.9 L1728.0 443.4 L1729.0 442.8 L1730.0 444.5 L1731.0 442.2 L1732.0 442.9 L1733.0 442.3 L1734.0 441.9 L1735.0 440.3 L1736.0 441.9 L1737.0 442.4 L1738.0 440.6 L1739.0 441.0 L1740.0 442.4 L1741.0 441.3 L1742.0 441.0 L1743.0 442.2 L1744.0 441.3 L1745.0 441.4 L1746.0 441.2 L1747.0 440.9 L1748.0 441.5 L1749.0 441.1 L1750.0 442.0 L1751.0 441.2 L1752.0 441.5 L1753.0 440.4 L1754.0 440.8 L1755.0 441.1 L1756.0 440.2 L1757.0 440.4 L1758.0 440.6 L1759.0 439.7 L1760.0 438.6 L1761.0 439.3 L1762.0 438.0 L1763.0 440.4 L1764.0 439.4 L1765.0 439.3 L1766.0 439.3 L1767.0 438.3 L1768.0 438.5 L1769.0 439.3 L1770.0 437.7 L1771.0 438.1 L1772.0 438.4 L1773.0 438.2 L1774.0 438.0 L1775.0 438.0 L1776.0 436.8 L1777.0 435.8 L1778.0 436.1 L1779.0 436.3 L1780.0 437.8 L1781.0 436.3 L1782.0 435.5 L1783.0 434.5 L1784.0 434.8 L1785.0 436.1 L1786.0 435.0 L1787.0 435.7 L1788.0 434.4 L1789.0 435.5 L1790.0 434.9 L1791.0 434.8 L1792.0 434.4 L1793.0 434.7 L1794.0 435.4 L1795.0 433.6 L1796.0 433.5 L1797.0 434.0 L1798.0 433.5 L1799.0 434.9 L1800.0 435.0 L1801.0 434.0 L1802.0 433.0 L1803.0 432.6 L1804.0 433.7 L1805.0 432.6 L1806.0 434.0 L1807.0 432.0 L1808.0 432.4 L1809.0 432.6 L1810.0 432.2 L1811.0 432.4 L1812.0 431.4 L1813.0 431.0 L1814.0 431.6 L1815.0 431.8 L1816.0 430.8 L1817.0 432.3 L1818.0 430.3 L1819.0 430.7 L1820.0 430.4 L1821.0 430.2 L1822.0 429.4 L1823.0 429.8 L1824.0 430.3 L1825.0 428.5 L1826.0 429.2 L1827.0 428.7 L1828.0 428.8 L1829.0 428.7 L1830.0 428.3 L1831.0 428.5 L1832.0 428.6 L1833.0 429.8 L1834.0 427.6 L1835.0 428.0 L1836.0 428.5 L1837.0 427.3 L1838.0 426.8 L1839.0 428.0 L1840.0 428.0 L1841.0 427.4 L1842.0 427.6 L1843.0 429.2 L1844.0 427.0 L1845.0 428.7 L1846.0 426.3 L1847.0 427.2 L1848.0 426.8 L1849.0 425.0 L1850.0 426.3 L1851.0 426.0 L1852.0 426.6 L1853.0 426.0 L1854.0 427.4 L1855.0 427.2 L1856.0 425.8 L1857.0 425.0 L1858.0 425.9 L1859.0 426.3 L1860.0 426.0 L1861.0 425.8 L1862.0 425.4 L1863.0 426.0 L1864.0 426.5 L1865.0 424.7 L1866.0 425.6 L1867.0 427.6 L1868.0 426.2 L1869.0 426.9 L1870.0 426.8 L1871.0 425.6 L1872.0 425.6 L1873.0 426.9 L1874.0 426.5 L1875.0 426.9 L1876.0 427.1 L1877.0 426.6 L1878.0 425.9 L1879.0 425.3 L1880.0 425.9 L1881.0 426.5 L1882.0 425.8 L1883.0 426.6 L1884.0 425.0 L1885.0 427.4 L1886.0 425.8 L1887.0 426.9 L1888.0 426.3 L1889.0 426.9 L1890.0 427.1 L1891.0 427.2 L1892.0 426.8 L1893.0 427.2 L1894.0 427.7 L1895.0 428.1 L1896.0 428.0 L1897.0 428.2 L1898.0 426.0 L1899.0 426.6 L1900.0 427.9 L1901.0 427.3 L1902.0 426.1 L1903.0 427.3 L1904.0 426.6 L1905.0 427.1 L1906.0 427.4 L1907.0 427.1 L1908.0 427.8 L1909.0 427.2 L1910.0 426.9 L1911.0 428.3 L1912.0 427.3 L1913.0 427.5 L1914.0 427.6 L1915.0 426.8 L1916.0 426.7 L1917.0 427.9 L1918.0 427.7 L1919.0 426.3 L1920.0 427.7 L1921.0 427.3 L1922.0 426.9 L1923.0 426.4 L1924.0 426.9 L1925.0 426.8 L1926.0 426.5 L1927.0 426.4 L1928.0 427.6 L1929.0 427.3 L1930.0 427.5 L1931.0 428.2 L1932.0 426.7 L1933.0 427.9 L1934.0 427.5 L1935.0 426.9 L1936.0 427.0 L1937.0 427.5 L1938.0 426.3 L1939.0 427.7 L1940.0 427.6 L1941.0 427.8 L1942.0 426.5 L1943.0 427.7 L1944.0 427.3 L1945.0 427.6 L1946.0 428.2 L1947.0 427.0 L1948.0 428.8 L1949.0 427.6 L1950.0 429.0 L1951.0 428.3 L1952.0 428.4 L1953.0 427.1 L1954.0 428.0 L1955.0 429.0 L1956.0 428.9 L1957.0 428.5 L1958.0 429.4 L1959.0 428.4 L1960.0 428.4 L1961.0 427.2 L1962.0 428.5 L1963.0 428.3 L1964.0 427.6 L1965.0 429.2 L1966.0 427.8 L1967.0 428.4 L1968.0 428.4 L1969.0 429.0 L1970.0 428.5 L1971.0 429.3 L1972.0 429.0 L1973.0 428.4 L1974.0 428.0 L1975.0 428.2 L1976.0 428.4 L1977.0 428.6 L1978.0 427.6 L1979.0 427.6 L1980.0 427.9 L1981.0 428.1 L1982.0 427.6 L1983.0 427.3 L1984.0 426.9 L1985.0 427.1 L1986.0 426.8 L1987.0 426.4 L1988.0 426.4 L1989.0 425.9 L1990.0 426.9 L1991.0 426.7 L1992.0 425.6 L1993.0 426.5 L1994.0 426.1 L1995.0 424.8 L1996.0 424.8 L1997.0 425.5 L1998.0 424.6 L1999.0 425.1 L2000.0 425.3 L2001.0 424.9 L2002.0 425.2 L2003.0 424.3 L2004.0 424.8 L2005.0 425.0 L2006.0 424.0 L2007.0 424.3 L2008.0 423.4 L2009.0 422.7 L2010.0 422.0 L2011.0 421.5 L2012.0 421.1 L2013.0 420.6 L2014.0 421.2 L2015.0 419.8 L2016.0 420.7 L2017.0 421.1 L2018.0 419.1 L2019.0 420.3 L2020.0 418.9 L2021.0 418.7 L2022.0 419.6 L2023.0 419.6 L2024.0 419.2 L2025.0 417.9 L2026.0 418.1 L2027.0 418.1 L2028.0 419.3 L2029.0 418.9 L2030.0 419.2 L2031.0 419.2 L2032.0 419.9 L2033.0 418.7 L2034.0 420.6 L2035.0 420.4 L2036.0 420.7 L2037.0 420.9 L2038.0 420.1 L2039.0 421.1 L2040.0 421.8 L2041.0 422.7 L2042.0 422.1 L2043.0 422.6 L2044.0 422.2 L2045.0 424.0 L2046.0 423.3 L2047.0 422.5 L2048.0 423.1 L2049.0 424.5 L2050.0 422.8 L2051.0 424.2 L2052.0 423.6 L2053.0 424.8 L2054.0 424.1 L2055.0 424.9 L2056.0 426.0 L2057.0 424.5 L2058.0 426.5 L2059.0 425.9 L2060.0 426.3 L2061.0 428.1 L2062.0 426.4 L2063.0 427.4 L2064.0 427.5 L2065.0 428.6 L2066.0 430.0 L2067.0 431.5 L2068.0 430.8 L2069.0 431.0 L2070.0 431.3 L2071.0 431.3 L2072.0 432.9 L2073.0 432.2 L2074.0 434.5 L2075.0 432.4 L2076.0 433.0 L2077.0 431.9 L2078.0 433.7 L2079.0 432.3 L2080.0 433.3 L2081.0 432.5 L2082.0 431.1 L2083.0 433.2 L2084.0 433.0 L2085.0 432.3 L2086.0 432.3 L2087.0 432.9 L2088.0 432.3 L2089.0 432.7 L2090.0 432.2 L2091.0 432.8 L2092.0 432.6 L2093.0 433.2 L2094.0 432.8 L2095.0 432.7 L2096.0 433.2 L2097.0 431.7 L2098.0 433.0 L2099.0 433.5 L2100.0 433.1 L2101.0 433.7 L2102.0 433.3 L2103.0 432.5 L2104.0 433.2 L2105.0 432.7 L2106.0 433.2 L2107.0 432.3 L2108.0 433.0 L2109.0 432.7 L2110.0 432.9 L2111.0 431.6 L2112.0 432.9 L2113.0 432.7 L2114.0 432.9 L2115.0 432.7 L2116.0 432.4 L2117.0 431.6 L2118.0 433.2 L2119.0 432.5 L2120.0 431.4 L2121.0 432.1 L2122.0 433.0 L2123.0 432.0 L2124.0 433.2 L2125.0 432.4 L2126.0 434.0 L2127.0 433.5 L2128.0 432.5 L2129.0 433.4 L2130.0 432.6 L2131.0 433.6 L2132.0 433.9 L2133.0 432.3 L2134.0 433.1 L2135.0 432.4 L2136.0 431.9 L2137.0 432.8 L2138.0 433.1 L2139.0 432.7 L2140.0 432.2 L2141.0 432.2 L2142.0 431.4 L2143.0 433.3 L2144.0 431.3 L2145.0 432.5 L2146.0 433.9 L2147.0 432.3 L2148.0 432.4 L2149.0 432.7 L2150.0 433.0" fill="none" stroke="#0000FF" stroke-width="10" stroke-linejoin="round" stroke-linecap="round" clip-path="url(#cb)"/>
<path d="M1335.0 630.8 L1336.0 628.9 L1337.0 630.0 L1338.0 629.1 L1339.0 628.8 L1340.0 629.8 L1341.0 628.8 L1342.0 630.2 L1343.0 629.2 L1344.0 628.9 L1345.0 629.3 L1346.0 629.2 L1347.0 628.6 L1348.0 628.9 L1349.0 627.8 L1350.0 627.9 L1351.0 627.5 L1352.0 627.0 L1353.0 626.8 L1354.0 626.1 L1355.0 625.4 L1356.0 624.8 L1357.0 624.9 L1358.0 623.1 L1359.0 624.3 L1360.0 623.0 L1361.0 622.6 L1362.0 621.7 L1363.0 621.1 L1364.0 620.5 L1365.0 619.7 L1366.0 619.4 L1367.0 617.6 L1368.0 616.3 L1369.0 614.0 L1370.0 612.5 L1371.0 610.1 L1372.0 607.8 L1373.0 605.2 L1374.0 600.8 L1375.0 596.1 L1376.0 590.2 L1377.0 586.2 L1378.0 580.7 L1379.0 575.2 L1380.0 571.6 L1381.0 568.8 L1382.0 566.4 L1383.0 569.3 L1384.0 572.6 L1385.0 576.7 L1386.0 582.1 L1387.0 587.7 L1388.0 593.4 L1389.0 597.3 L1390.0 602.6 L1391.0 604.9 L1392.0 608.8 L1393.0 612.3 L1394.0 613.5 L1395.0 615.9 L1396.0 617.7 L1397.0 618.5 L1398.0 620.3 L1399.0 620.5 L1400.0 622.0 L1401.0 622.2 L1402.0 625.6 L1403.0 624.3 L1404.0 625.8 L1405.0 626.0 L1406.0 627.0 L1407.0 626.4 L1408.0 627.3 L1409.0 627.4 L1410.0 627.6 L1411.0 628.4 L1412.0 627.9 L1413.0 628.4 L1414.0 629.3 L1415.0 627.5 L1416.0 629.1 L1417.0 630.2 L1418.0 630.2 L1419.0 628.5 L1420.0 629.1 L1421.0 630.1 L1422.0 628.9 L1423.0 629.2 L1424.0 629.6 L1425.0 629.4 L1426.0 630.6 L1427.0 630.3 L1428.0 630.6 L1429.0 630.5 L1430.0 629.2 L1431.0 630.3 L1432.0 630.8 L1433.0 630.5 L1434.0 631.0 L1435.0 630.3 L1436.0 631.1 L1437.0 630.1 L1438.0 631.0 L1439.0 631.2 L1440.0 631.2 L1441.0 630.4 L1442.0 631.4 L1443.0 630.6 L1444.0 630.8 L1445.0 631.2 L1446.0 630.2 L1447.0 630.8 L1448.0 631.0 L1449.0 630.9 L1450.0 631.6 L1451.0 631.6 L1452.0 630.8 L1453.0 631.1 L1454.0 630.9 L1455.0 630.0 L1456.0 631.4 L1457.0 631.0 L1458.0 630.8 L1459.0 630.6 L1460.0 632.5 L1461.0 631.9 L1462.0 630.4 L1463.0 631.8 L1464.0 631.9 L1465.0 631.5 L1466.0 630.4 L1467.0 631.7 L1468.0 630.4 L1469.0 631.5 L1470.0 631.6 L1471.0 631.1 L1472.0 631.4 L1473.0 630.8 L1474.0 630.6 L1475.0 630.7 L1476.0 632.4 L1477.0 631.6 L1478.0 631.7 L1479.0 631.9 L1480.0 631.5 L1481.0 631.2 L1482.0 631.7 L1483.0 632.2 L1484.0 631.3 L1485.0 632.3 L1486.0 632.4 L1487.0 631.0 L1488.0 632.0 L1489.0 631.7 L1490.0 633.0 L1491.0 631.3 L1492.0 631.7 L1493.0 630.6 L1494.0 631.7 L1495.0 630.9 L1496.0 631.2 L1497.0 631.4 L1498.0 631.3 L1499.0 630.6 L1500.0 630.7 L1501.0 631.0 L1502.0 631.9 L1503.0 630.5 L1504.0 631.3 L1505.0 631.4 L1506.0 632.4 L1507.0 631.9 L1508.0 631.4 L1509.0 631.1 L1510.0 632.2 L1511.0 632.6 L1512.0 631.4 L1513.0 631.7 L1514.0 631.8 L1515.0 632.2 L1516.0 631.5 L1517.0 631.7 L1518.0 631.9 L1519.0 631.6 L1520.0 631.3 L1521.0 631.7 L1522.0 631.5 L1523.0 631.2 L1524.0 631.5 L1525.0 631.5 L1526.0 631.2 L1527.0 631.0 L1528.0 631.9 L1529.0 632.2 L1530.0 631.8 L1531.0 631.4 L1532.0 630.9 L1533.0 632.0 L1534.0 631.4 L1535.0 631.6 L1536.0 630.6 L1537.0 630.7 L1538.0 631.2 L1539.0 631.6 L1540.0 631.3 L1541.0 631.2 L1542.0 631.5 L1543.0 631.7 L1544.0 631.9 L1545.0 631.1 L1546.0 631.0 L1547.0 631.4 L1548.0 631.3 L1549.0 630.1 L1550.0 631.4 L1551.0 630.9 L1552.0 630.6 L1553.0 630.3 L1554.0 629.7 L1555.0 629.3 L1556.0 629.8 L1557.0 631.0 L1558.0 630.6 L1559.0 630.7 L1560.0 630.7 L1561.0 630.6 L1562.0 630.4 L1563.0 631.1 L1564.0 630.5 L1565.0 629.6 L1566.0 630.6 L1567.0 630.8 L1568.0 630.5 L1569.0 630.3 L1570.0 630.8 L1571.0 630.9 L1572.0 630.3 L1573.0 630.5 L1574.0 630.2 L1575.0 630.6 L1576.0 630.4 L1577.0 630.0 L1578.0 630.7 L1579.0 629.8 L1580.0 630.0 L1581.0 630.1 L1582.0 630.1 L1583.0 629.4 L1584.0 629.4 L1585.0 629.3 L1586.0 629.7 L1587.0 629.4 L1588.0 629.5 L1589.0 629.2 L1590.0 628.3 L1591.0 628.2 L1592.0 628.8 L1593.0 629.2 L1594.0 628.8 L1595.0 628.4 L1596.0 628.7 L1597.0 627.8 L1598.0 629.1 L1599.0 628.8 L1600.0 627.8 L1601.0 628.2 L1602.0 627.1 L1603.0 627.8 L1604.0 628.1 L1605.0 627.2 L1606.0 627.9 L1607.0 627.4 L1608.0 625.9 L1609.0 627.6 L1610.0 626.7 L1611.0 625.9 L1612.0 626.0 L1613.0 626.2 L1614.0 625.4 L1615.0 625.6 L1616.0 625.8 L1617.0 626.3 L1618.0 625.4 L1619.0 625.6 L1620.0 624.6 L1621.0 624.9 L1622.0 625.1 L1623.0 624.5 L1624.0 624.6 L1625.0 624.3 L1626.0 625.5 L1627.0 625.3 L1628.0 624.7 L1629.0 626.1 L1630.0 625.3 L1631.0 626.2 L1632.0 625.3 L1633.0 624.8 L1634.0 625.0 L1635.0 625.2 L1636.0 625.9 L1637.0 624.9 L1638.0 626.2 L1639.0 626.7 L1640.0 626.5 L1641.0 627.0 L1642.0 626.0 L1643.0 627.3 L1644.0 628.1 L1645.0 628.0 L1646.0 627.9 L1647.0 627.5 L1648.0 627.2 L1649.0 626.8 L1650.0 628.3 L1651.0 628.0 L1652.0 627.5 L1653.0 628.8 L1654.0 628.0 L1655.0 627.9 L1656.0 628.9 L1657.0 630.2 L1658.0 628.9 L1659.0 628.6 L1660.0 629.1 L1661.0 629.3 L1662.0 629.6 L1663.0 629.8 L1664.0 628.9 L1665.0 630.0 L1666.0 630.2 L1667.0 630.4 L1668.0 629.4 L1669.0 630.6 L1670.0 630.2 L1671.0 631.0 L1672.0 630.8 L1673.0 630.9 L1674.0 630.3 L1675.0 630.6 L1676.0 630.4 L1677.0 630.9 L1678.0 631.5 L1679.0 630.1 L1680.0 631.1 L1681.0 630.7 L1682.0 630.1 L1683.0 629.2 L1684.0 630.0 L1685.0 630.6 L1686.0 630.4 L1687.0 629.4 L1688.0 630.5 L1689.0 631.0 L1690.0 631.7 L1691.0 630.8 L1692.0 631.7 L1693.0 631.2 L1694.0 631.5 L1695.0 631.0 L1696.0 630.6 L1697.0 632.0 L1698.0 630.1 L1699.0 630.4 L1700.0 631.2 L1701.0 630.6 L1702.0 631.4 L1703.0 629.5 L1704.0 630.7 L1705.0 631.3 L1706.0 632.0 L1707.0 630.6 L1708.0 631.4 L1709.0 631.6 L1710.0 632.6 L1711.0 631.6 L1712.0 631.3 L1713.0 630.7 L1714.0 630.8 L1715.0 631.0 L1716.0 631.5 L1717.0 631.1 L1718.0 630.5 L1719.0 630.8 L1720.0 630.4 L1721.0 631.6 L1722.0 630.7 L1723.0 631.2 L1724.0 631.5 L1725.0 631.0 L1726.0 631.6 L1727.0 631.7 L1728.0 631.7 L1729.0 631.6 L1730.0 631.2 L1731.0 631.3 L1732.0 631.6 L1733.0 631.3 L1734.0 630.8 L1735.0 631.0 L1736.0 631.6 L1737.0 629.8 L1738.0 631.2 L1739.0 631.1 L1740.0 630.3 L1741.0 631.2 L1742.0 631.7 L1743.0 630.6 L1744.0 631.2 L1745.0 632.0 L1746.0 632.3 L1747.0 629.9 L1748.0 632.1 L1749.0 631.7 L1750.0 630.7 L1751.0 631.4 L1752.0 631.0 L1753.0 630.9 L1754.0 630.1 L1755.0 631.5 L1756.0 630.6 L1757.0 631.3 L1758.0 631.5 L1759.0 631.5 L1760.0 632.9 L1761.0 631.0 L1762.0 631.6 L1763.0 632.0 L1764.0 631.4 L1765.0 633.0 L1766.0 631.3 L1767.0 632.1 L1768.0 632.2 L1769.0 631.8 L1770.0 631.8 L1771.0 632.3 L1772.0 632.6 L1773.0 632.0 L1774.0 631.1 L1775.0 630.1 L1776.0 631.1 L1777.0 631.8 L1778.0 631.1 L1779.0 632.4 L1780.0 630.3 L1781.0 632.0 L1782.0 632.2 L1783.0 631.4 L1784.0 631.9 L1785.0 632.9 L1786.0 632.4 L1787.0 631.6 L1788.0 632.2 L1789.0 631.9 L1790.0 631.8 L1791.0 632.6 L1792.0 632.2 L1793.0 632.7 L1794.0 631.8 L1795.0 632.2 L1796.0 631.7 L1797.0 632.8 L1798.0 631.2 L1799.0 631.4 L1800.0 631.0 L1801.0 631.9 L1802.0 631.7 L1803.0 631.7 L1804.0 632.0 L1805.0 631.3 L1806.0 631.3 L1807.0 631.8 L1808.0 632.2 L1809.0 631.3 L1810.0 631.6 L1811.0 632.4 L1812.0 631.2 L1813.0 631.0 L1814.0 631.7 L1815.0 631.7 L1816.0 630.2 L1817.0 631.0 L1818.0 631.9 L1819.0 632.0 L1820.0 630.7 L1821.0 631.9 L1822.0 631.1 L1823.0 632.0 L1824.0 631.6 L1825.0 631.7 L1826.0 631.4 L1827.0 631.6 L1828.0 631.2 L1829.0 630.9 L1830.0 632.4 L1831.0 632.2 L1832.0 631.9 L1833.0 631.0 L1834.0 631.6 L1835.0 631.5 L1836.0 631.7 L1837.0 631.8 L1838.0 631.2 L1839.0 631.4 L1840.0 632.4 L1841.0 631.7 L1842.0 632.1 L1843.0 631.8 L1844.0 633.2 L1845.0 633.1 L1846.0 631.7 L1847.0 632.1 L1848.0 632.1 L1849.0 632.0 L1850.0 631.8 L1851.0 631.5 L1852.0 632.1 L1853.0 631.5 L1854.0 631.5 L1855.0 631.6 L1856.0 632.2 L1857.0 631.5 L1858.0 632.1 L1859.0 632.7 L1860.0 631.6 L1861.0 631.6 L1862.0 631.0 L1863.0 632.3 L1864.0 632.0 L1865.0 631.9 L1866.0 632.2 L1867.0 631.5 L1868.0 633.2 L1869.0 632.1 L1870.0 631.1 L1871.0 631.1 L1872.0 632.1 L1873.0 632.0 L1874.0 632.0 L1875.0 633.3 L1876.0 631.2 L1877.0 632.4 L1878.0 632.6 L1879.0 632.2 L1880.0 632.7 L1881.0 632.8 L1882.0 632.4 L1883.0 632.6 L1884.0 632.1 L1885.0 631.7 L1886.0 631.3 L1887.0 632.5 L1888.0 630.9 L1889.0 632.5 L1890.0 631.9 L1891.0 631.8 L1892.0 631.6 L1893.0 632.4 L1894.0 631.0 L1895.0 632.0 L1896.0 630.7 L1897.0 631.7 L1898.0 631.6 L1899.0 632.3 L1900.0 632.4 L1901.0 632.3 L1902.0 632.4 L1903.0 631.9 L1904.0 631.4 L1905.0 632.8 L1906.0 631.7 L1907.0 631.6 L1908.0 631.5 L1909.0 632.9 L1910.0 631.4 L1911.0 631.7 L1912.0 631.0 L1913.0 631.9 L1914.0 631.5 L1915.0 631.3 L1916.0 631.6 L1917.0 632.1 L1918.0 631.3 L1919.0 631.3 L1920.0 632.3 L1921.0 632.0 L1922.0 631.8 L1923.0 630.9 L1924.0 631.6 L1925.0 632.3 L1926.0 632.6 L1927.0 631.6 L1928.0 631.7 L1929.0 632.0 L1930.0 632.5 L1931.0 630.8 L1932.0 632.5 L1933.0 632.1 L1934.0 631.9 L1935.0 632.1 L1936.0 631.2 L1937.0 632.8 L1938.0 631.7 L1939.0 631.8 L1940.0 632.2 L1941.0 631.2 L1942.0 631.9 L1943.0 632.0 L1944.0 631.7 L1945.0 631.5 L1946.0 632.0 L1947.0 632.3 L1948.0 631.9 L1949.0 631.5 L1950.0 631.9 L1951.0 632.8 L1952.0 631.7 L1953.0 632.3 L1954.0 632.3 L1955.0 632.7 L1956.0 633.1 L1957.0 633.3 L1958.0 631.4 L1959.0 631.8 L1960.0 632.1 L1961.0 632.5 L1962.0 631.7 L1963.0 631.8 L1964.0 632.3 L1965.0 632.2 L1966.0 631.9 L1967.0 631.8 L1968.0 630.7 L1969.0 632.6 L1970.0 631.2 L1971.0 632.0 L1972.0 632.3 L1973.0 631.5 L1974.0 632.3 L1975.0 632.2 L1976.0 632.2 L1977.0 631.6 L1978.0 632.6 L1979.0 632.5 L1980.0 631.4 L1981.0 632.5 L1982.0 632.1 L1983.0 632.3 L1984.0 631.7 L1985.0 633.3 L1986.0 631.7 L1987.0 631.5 L1988.0 631.2 L1989.0 631.5 L1990.0 632.6 L1991.0 631.8 L1992.0 632.9 L1993.0 632.3 L1994.0 632.7 L1995.0 631.6 L1996.0 632.4 L1997.0 632.5 L1998.0 631.6 L1999.0 631.7 L2000.0 631.8 L2001.0 631.9 L2002.0 632.0 L2003.0 631.9 L2004.0 632.1 L2005.0 631.7 L2006.0 631.7 L2007.0 631.8 L2008.0 632.8 L2009.0 631.5 L2010.0 631.5 L2011.0 632.2 L2012.0 631.9 L2013.0 631.8 L2014.0 632.1 L2015.0 632.4 L2016.0 631.6 L2017.0 631.9 L2018.0 631.8 L2019.0 631.6 L2020.0 631.8 L2021.0 631.2 L2022.0 631.5 L2023.0 631.1 L2024.0 632.5 L2025.0 631.9 L2026.0 632.9 L2027.0 631.7 L2028.0 631.7 L2029.0 631.6 L2030.0 631.6 L2031.0 632.1 L2032.0 631.7 L2033.0 633.6 L2034.0 631.7 L2035.0 632.2 L2036.0 631.8 L2037.0 631.6 L2038.0 631.6 L2039.0 632.1 L2040.0 631.7 L2041.0 632.6 L2042.0 631.0 L2043.0 630.8 L2044.0 631.3 L2045.0 630.7 L2046.0 631.2 L2047.0 630.1 L2048.0 632.4 L2049.0 631.8 L2050.0 632.1 L2051.0 632.6 L2052.0 631.2 L2053.0 631.7 L2054.0 631.6 L2055.0 631.6 L2056.0 630.9 L2057.0 632.6 L2058.0 632.7 L2059.0 632.1 L2060.0 631.9 L2061.0 631.7 L2062.0 631.6 L2063.0 631.3 L2064.0 630.7 L2065.0 631.4 L2066.0 630.7 L2067.0 631.4 L2068.0 631.8 L2069.0 631.4 L2070.0 631.4 L2071.0 631.7 L2072.0 632.1 L2073.0 632.7 L2074.0 632.3 L2075.0 631.8 L2076.0 632.2 L2077.0 631.8 L2078.0 631.2 L2079.0 631.3 L2080.0 632.1 L2081.0 631.6 L2082.0 631.4 L2083.0 631.9 L2084.0 631.6 L2085.0 631.6 L2086.0 631.7 L2087.0 632.4 L2088.0 631.7 L2089.0 631.7 L2090.0 632.2 L2091.0 632.5 L2092.0 632.2 L2093.0 632.0 L2094.0 632.5 L2095.0 631.8 L2096.0 633.0 L2097.0 633.1 L2098.0 631.6 L2099.0 632.3 L2100.0 630.9 L2101.0 631.6 L2102.0 632.6 L2103.0 631.6 L2104.0 633.3 L2105.0 631.7 L2106.0 632.2 L2107.0 632.6 L2108.0 631.9 L2109.0 632.0 L2110.0 631.4 L2111.0 632.2 L2112.0 631.0 L2113.0 631.5 L2114.0 631.2 L2115.0 631.4 L2116.0 631.3 L2117.0 631.7 L2118.0 632.5 L2119.0 632.1 L2120.0 631.9 L2121.0 631.7 L2122.0 632.2 L2123.0 632.1 L2124.0 631.6 L2125.0 631.5 L2126.0 631.6 L2127.0 632.5 L2128.0 631.8 L2129.0 631.3 L2130.0 631.4 L2131.0 631.6 L2132.0 632.1 L2133.0 633.3 L2134.0 632.5 L2135.0 632.3 L2136.0 632.2 L2137.0 631.9 L2138.0 631.5 L2139.0 631.5 L2140.0 632.6 L2141.0 632.6 L2142.0 632.2 L2143.0 631.1 L2144.0 631.8 L2145.0 631.9 L2146.0 631.7 L2147.0 632.7 L2148.0 632.7 L2149.0 632.4 L2150.0 632.3" fill="none" stroke="#FF8000" stroke-width="10" stroke-linejoin="round" stroke-linecap="round" clip-path="url(#cb)"/>
<line x1="1339.0" y1="673.3" x2="1339.0" y2="655.8" stroke="#000" stroke-width="5"/>
<line x1="1474.5" y1="673.3" x2="1474.5" y2="662.0999999999999" stroke="#000" stroke-width="5"/>
<line x1="1610.1" y1="673.3" x2="1610.1" y2="655.8" stroke="#000" stroke-width="5"/>
<line x1="1745.6" y1="673.3" x2="1745.6" y2="662.0999999999999" stroke="#000" stroke-width="5"/>
<line x1="1881.2" y1="673.3" x2="1881.2" y2="655.8" stroke="#000" stroke-width="5"/>
<line x1="2016.7" y1="673.3" x2="2016.7" y2="662.0999999999999" stroke="#000" stroke-width="5"/>
<rect x="1333.9" y="45.0" width="816.1999999999998" height="628.3" fill="none" stroke="#000" stroke-width="5.2"/>
<path d="M1339.6 1100.5 L1341.2 1099.5 L1340.6 1104.0 L1342.5 1102.7 L1342.7 1104.6 L1344.0 1106.6 L1344.9 1106.1 L1346.6 1108.8 L1348.8 1107.9 L1347.9 1110.1 L1347.3 1111.3 L1348.1 1109.4 L1349.3 1108.0 L1348.9 1108.7 L1349.4 1111.7 L1350.6 1115.6 L1352.1 1114.1 L1352.8 1114.8 L1354.6 1114.0 L1355.4 1112.7 L1356.8 1114.7 L1356.8 1116.0 L1358.1 1114.6 L1360.0 1113.6 L1360.4 1114.4 L1361.5 1118.8 L1362.3 1118.8 L1363.9 1116.8 L1365.3 1114.1 L1365.1 1115.9 L1366.2 1114.7 L1367.5 1116.1 L1367.7 1117.2 L1369.0 1115.2 L1369.5 1116.7 L1370.1 1114.6 L1370.3 1119.7 L1371.1 1115.8 L1371.8 1118.3 L1372.3 1115.9 L1373.3 1117.3 L1374.3 1119.0 L1375.4 1121.4 L1376.5 1121.7 L1377.3 1116.9 L1378.3 1120.7 L1378.9 1116.6 L1379.9 1118.2 L1381.2 1118.9 L1381.9 1117.7 L1383.0 1118.5 L1384.0 1118.8 L1384.9 1118.4 L1385.8 1117.5 L1387.1 1118.9 L1387.9 1116.8 L1388.9 1117.8 L1390.0 1117.5 L1390.8 1115.9 L1392.1 1118.8 L1392.6 1111.8 L1393.6 1114.8 L1394.8 1116.3 L1396.1 1118.8 L1396.4 1111.8 L1398.1 1118.2 L1398.8 1117.7 L1399.9 1117.7 L1401.1 1117.8 L1401.9 1115.0 L1402.8 1112.5 L1404.1 1113.8 L1405.0 1114.3 L1405.7 1112.7 L1407.0 1112.4 L1407.8 1111.4 L1409.1 1115.0 L1409.9 1109.9 L1411.1 1112.7 L1412.1 1113.4 L1413.2 1114.5 L1414.2 1113.9 L1415.2 1113.2 L1416.4 1114.3 L1417.5 1114.1 L1418.6 1115.8 L1419.2 1112.2 L1420.5 1116.5 L1421.5 1112.8 L1422.5 1113.7 L1423.6 1115.0 L1424.7 1114.8 L1425.5 1108.6 L1426.5 1111.1 L1427.5 1111.9 L1428.5 1111.2 L1429.4 1110.4 L1430.5 1113.2 L1431.6 1111.1 L1432.6 1111.4 L1433.1 1108.7 L1434.2 1110.5 L1435.0 1105.2 L1436.2 1108.0 L1437.1 1111.1 L1438.2 1110.7 L1439.0 1108.3 L1440.3 1114.2 L1441.0 1109.4 L1442.6 1112.1 L1443.2 1111.9 L1444.1 1110.8 L1445.0 1109.4 L1446.1 1111.5 L1447.3 1112.1 L1448.0 1110.6 L1448.7 1107.9 L1450.2 1111.8 L1451.0 1109.1 L1451.9 1111.4 L1453.1 1108.9 L1454.1 1108.1 L1455.2 1107.5 L1456.0 1105.0 L1457.2 1110.9 L1458.1 1110.4 L1459.0 1106.0 L1459.9 1106.0 L1461.1 1107.3 L1462.2 1107.2 L1463.2 1108.0 L1464.1 1106.4 L1465.5 1109.8 L1465.9 1105.0 L1467.0 1104.7 L1468.4 1106.3 L1469.5 1108.2 L1470.3 1104.9 L1471.2 1105.1 L1472.4 1106.5 L1473.6 1107.0 L1474.5 1104.9 L1475.5 1105.6 L1476.7 1107.8 L1477.5 1105.2 L1478.6 1108.7 L1479.4 1107.5 L1480.4 1106.7 L1481.5 1104.6 L1482.4 1104.4 L1483.6 1107.8 L1484.3 1102.5 L1485.2 1105.0 L1486.2 1104.5 L1487.3 1106.2 L1488.2 1107.2 L1489.3 1109.0 L1490.1 1106.4 L1491.2 1105.6 L1492.4 1105.6 L1493.1 1104.3 L1494.1 1105.3 L1494.8 1103.8 L1495.8 1100.9 L1496.8 1103.6 L1497.9 1102.5 L1499.1 1101.3 L1499.8 1102.1 L1500.9 1100.9 L1502.0 1103.2 L1503.0 1106.2 L1504.1 1103.9 L1505.0 1104.2 L1505.7 1101.1 L1506.9 1101.6 L1508.2 1100.7 L1509.0 1102.0 L1509.8 1100.3 L1510.8 1099.3 L1511.8 1100.6 L1512.7 1101.9 L1514.2 1103.8 L1514.7 1101.1 L1516.0 1103.9 L1517.1 1104.0 L1518.2 1104.2 L1518.9 1101.4 L1520.2 1101.0 L1521.2 1101.2 L1522.2 1100.2 L1523.1 1101.2 L1524.3 1101.9 L1525.0 1099.2 L1526.4 1101.4 L1527.2 1101.6 L1528.2 1098.0 L1529.3 1099.9 L1530.3 1098.6 L1531.5 1101.9 L1532.3 1099.5 L1533.2 1101.1 L1533.7 1099.5 L1535.0 1101.4 L1535.9 1099.5 L1536.3 1099.0 L1537.3 1098.9 L1538.8 1101.5 L1539.2 1094.8 L1540.4 1099.0 L1541.1 1097.0 L1542.7 1097.3 L1543.0 1097.9 L1544.3 1096.4 L1543.9 1091.9 L1544.8 1093.5 L1547.4 1095.2 L1547.6 1094.8 L1548.6 1095.1 L1548.7 1094.0 L1551.1 1095.7 L1551.3 1093.5 L1552.3 1091.0 L1553.4 1091.7 L1554.9 1092.2 L1555.9 1094.7 L1556.1 1091.6 L1557.7 1092.7 L1558.2 1089.5 L1559.0 1088.9 L1560.6 1086.7 L1561.4 1089.7 L1562.5 1091.1 L1564.2 1090.3 L1565.3 1093.0 L1565.7 1086.1 L1567.1 1089.2 L1568.1 1086.8 L1569.3 1086.2 L1570.2 1084.1 L1571.3 1086.8 L1572.9 1089.5 L1573.3 1086.0 L1574.4 1088.7 L1575.4 1087.5 L1576.4 1086.9 L1577.5 1086.1 L1578.1 1082.5 L1579.3 1086.5 L1579.8 1082.9 L1579.9 1082.7 L1581.1 1084.2 L1581.5 1083.0 L1582.4 1082.6 L1584.9 1086.0 L1584.9 1080.1 L1586.3 1083.0 L1587.2 1080.4 L1588.4 1081.5 L1588.8 1077.4 L1590.1 1079.1 L1591.9 1082.5 L1591.9 1078.7 L1594.0 1078.4 L1595.4 1080.6 L1596.4 1077.9 L1597.4 1078.5 L1598.5 1074.4 L1599.5 1076.3 L1600.9 1077.4 L1601.3 1074.0 L1602.7 1075.8 L1603.9 1079.4 L1604.5 1075.7 L1605.1 1074.1 L1606.1 1074.1 L1606.5 1071.9 L1607.7 1071.9 L1608.7 1072.8 L1609.7 1074.1 L1610.6 1074.2 L1612.2 1073.8 L1612.9 1074.1 L1613.8 1071.8 L1614.6 1071.0 L1615.5 1071.4 L1617.3 1072.7 L1617.7 1071.6 L1619.1 1070.8 L1619.4 1068.1 L1621.5 1070.6 L1622.2 1071.7 L1623.1 1067.0 L1624.1 1067.4 L1626.1 1070.9 L1626.5 1068.8 L1628.1 1070.7 L1629.5 1070.6 L1630.7 1069.1 L1632.1 1070.2 L1633.5 1066.4 L1634.7 1065.8 L1635.7 1070.3 L1636.8 1067.8 L1638.3 1066.3 L1638.9 1068.3 L1640.0 1069.1 L1641.0 1069.6 L1642.2 1067.2 L1643.2 1065.9 L1644.4 1070.3 L1645.2 1071.3 L1645.9 1071.6 L1647.1 1069.8 L1648.0 1072.4 L1648.9 1074.0 L1650.3 1069.9 L1651.1 1071.2 L1652.1 1071.0 L1652.7 1071.5 L1654.0 1071.0 L1655.0 1070.8 L1655.8 1072.6 L1656.7 1074.7 L1657.7 1073.2 L1658.6 1072.8 L1659.6 1071.0 L1660.4 1074.2 L1661.5 1075.8 L1662.6 1071.4 L1663.7 1072.3 L1664.7 1072.9 L1665.9 1072.1 L1666.9 1073.3 L1667.7 1072.8 L1668.7 1073.7 L1669.8 1075.8 L1670.9 1072.0 L1671.9 1076.2 L1672.8 1074.9 L1674.1 1070.9 L1674.8 1075.1 L1676.0 1071.7 L1677.0 1074.5 L1677.8 1074.2 L1678.7 1074.2 L1679.6 1076.6 L1680.9 1074.0 L1681.8 1073.6 L1683.0 1074.9 L1683.6 1075.8 L1684.5 1077.1 L1685.5 1077.5 L1686.5 1077.2 L1687.5 1078.0 L1688.6 1071.9 L1689.4 1075.5 L1690.5 1075.3 L1691.4 1077.8 L1692.6 1076.2 L1693.6 1073.3 L1694.6 1075.6 L1695.8 1077.3 L1696.7 1075.8 L1697.6 1076.7 L1698.8 1075.4 L1699.7 1077.4 L1700.8 1078.2 L1701.7 1075.8 L1703.0 1076.8 L1704.0 1074.1 L1705.2 1073.7 L1706.1 1072.2 L1706.8 1076.5 L1707.9 1075.6 L1708.6 1078.6 L1709.9 1078.6 L1711.1 1075.2 L1712.0 1076.7 L1713.0 1078.2 L1714.0 1077.6 L1714.8 1082.6 L1715.7 1080.3 L1717.1 1078.5 L1718.1 1077.5 L1719.1 1078.6 L1720.1 1079.3 L1720.7 1081.4 L1721.8 1082.7 L1723.0 1078.4 L1723.6 1081.0 L1725.0 1078.3 L1725.8 1079.7 L1726.6 1080.4 L1727.9 1078.4 L1728.9 1079.3 L1729.5 1082.3 L1730.8 1078.4 L1731.6 1082.2 L1732.7 1080.6 L1733.5 1082.2 L1734.4 1084.5 L1735.6 1084.2 L1736.6 1084.2 L1737.5 1085.0 L1738.2 1087.2 L1739.5 1083.0 L1740.3 1086.6 L1741.2 1081.8 L1742.1 1084.2 L1743.1 1081.7 L1744.0 1082.6 L1745.0 1083.0 L1746.0 1084.9 L1747.0 1078.9 L1748.0 1079.3 L1749.0 1085.1 L1750.0 1083.4 L1751.0 1084.0 L1752.0 1084.3 L1753.0 1086.1 L1754.0 1085.5 L1755.0 1079.2 L1756.0 1083.9 L1757.0 1078.6 L1757.7 1081.9 L1758.5 1081.8 L1759.3 1082.5 L1759.6 1080.7 L1760.2 1080.4 L1761.4 1084.0 L1762.2 1082.7 L1762.4 1079.3 L1763.1 1079.1 L1764.2 1079.9 L1765.0 1078.9 L1765.8 1081.2 L1766.2 1076.3 L1767.5 1080.0 L1768.8 1077.0 L1769.4 1076.9 L1771.0 1078.0 L1771.1 1075.7 L1772.6 1074.6 L1773.2 1074.1 L1774.6 1074.7 L1775.8 1072.6 L1776.7 1072.8 L1777.5 1070.4 L1779.5 1071.6 L1779.3 1068.6 L1781.3 1072.7 L1782.7 1072.2 L1783.5 1070.6 L1784.6 1069.2 L1785.4 1066.3 L1786.8 1067.7 L1788.2 1068.8 L1789.0 1067.5 L1789.6 1067.4 L1790.8 1067.5 L1789.3 1064.2 L1791.0 1066.9 L1792.8 1071.4 L1792.7 1066.8 L1793.3 1065.9 L1794.7 1067.5 L1794.6 1063.3 L1796.6 1065.5 L1797.7 1063.7 L1797.9 1060.7 L1799.0 1059.9 L1800.7 1055.9 L1803.5 1062.6 L1802.8 1055.6 L1805.0 1057.3 L1806.9 1059.8 L1807.3 1056.1 L1807.7 1054.6 L1808.1 1056.2 L1807.5 1053.2 L1809.4 1053.5 L1810.1 1054.0 L1811.2 1051.2 L1811.2 1049.2 L1813.8 1050.7 L1813.2 1044.9 L1816.5 1048.0 L1819.7 1046.2 L1822.1 1045.1 L1825.1 1043.4 L1827.1 1047.4 L1829.9 1047.2 L1830.6 1051.3 L1831.8 1053.4 L1832.8 1054.0 L1833.5 1054.9 L1835.6 1051.2 L1836.2 1055.0 L1837.3 1056.0 L1837.9 1056.3 L1838.4 1055.6 L1839.6 1058.6 L1842.0 1052.9 L1842.9 1055.3 L1841.7 1058.2 L1842.4 1062.1 L1845.6 1062.1 L1846.2 1063.7 L1847.3 1066.3 L1848.6 1070.0 L1850.4 1073.5 L1852.0 1072.5 L1852.0 1074.7 L1853.0 1079.1 L1855.8 1079.0 L1855.5 1080.6 L1857.2 1083.6 L1857.5 1085.6 L1857.4 1087.9 L1859.8 1088.7 L1859.1 1090.7 L1860.5 1090.1 L1860.6 1092.0 L1863.3 1088.6 L1861.0 1090.9 L1862.1 1090.5 L1863.6 1087.1 L1864.2 1090.9 L1865.3 1092.7 L1865.5 1091.6 L1867.1 1093.5 L1869.6 1094.5 L1869.9 1099.6 L1870.2 1098.2 L1872.2 1095.5 L1873.1 1097.9 L1874.2 1099.1 L1875.9 1099.4 L1875.7 1100.1 L1878.5 1098.0 L1877.7 1104.6 L1879.7 1100.9 L1879.6 1105.5 L1880.1 1106.9 L1881.9 1104.5 L1882.2 1106.4 L1883.9 1103.7 L1884.2 1104.8 L1885.2 1106.3 L1884.6 1109.8 L1886.6 1106.7 L1886.5 1108.5 L1888.0 1107.5 L1888.9 1105.7 L1889.2 1108.8 L1890.7 1109.6 L1892.2 1105.6 L1893.8 1107.5 L1893.8 1111.0 L1895.1 1110.0 L1895.7 1111.8 L1897.6 1112.9 L1898.8 1111.3 L1900.6 1108.5 L1900.0 1110.3 L1902.5 1110.1 L1903.3 1112.4 L1904.2 1115.1 L1904.6 1115.9 L1906.2 1113.6 L1907.1 1114.1 L1907.7 1114.3 L1908.3 1114.4 L1910.6 1112.8 L1911.0 1113.7 L1912.8 1115.0 L1913.0 1119.5 L1912.8 1119.3 L1914.4 1120.2 L1915.6 1118.6 L1916.9 1117.7 L1917.8 1117.8 L1918.4 1117.2 L1919.6 1117.9 L1920.7 1115.8 L1920.8 1121.2 L1922.4 1119.0 L1922.4 1122.4 L1923.4 1122.3 L1924.1 1122.7 L1925.0 1121.6 L1925.6 1122.4 L1926.4 1122.5 L1927.1 1120.9 L1928.1 1123.6 L1929.1 1121.2 L1930.1 1122.1 L1931.1 1122.2 L1932.1 1122.3 L1933.1 1123.2 L1934.1 1124.3 L1935.1 1123.6 L1936.1 1123.9 L1937.1 1121.1 L1938.1 1122.9 L1939.2 1118.7 L1940.1 1120.6 L1941.1 1123.1 L1942.1 1123.0 L1943.1 1121.5 L1944.1 1123.8 L1945.1 1122.3 L1946.2 1121.0 L1947.2 1121.2 L1948.2 1121.6 L1949.2 1124.1 L1950.2 1122.4 L1951.2 1124.9 L1952.2 1121.1 L1953.2 1122.4 L1954.2 1121.0 L1955.2 1119.6 L1956.2 1121.6 L1957.2 1122.8 L1958.2 1122.2 L1959.2 1123.4 L1960.1 1122.5 L1961.2 1122.9 L1962.1 1124.0 L1963.2 1121.8 L1964.2 1120.9 L1965.2 1119.9 L1966.2 1122.6 L1967.2 1122.7 L1968.2 1123.3 L1969.2 1125.9 L1970.2 1122.1 L1971.2 1124.8 L1972.2 1123.0 L1973.2 1124.5 L1974.2 1124.9 L1975.2 1124.3 L1976.2 1125.5 L1977.2 1125.1 L1978.2 1124.2 L1979.1 1124.7 L1980.2 1120.6 L1981.1 1124.6 L1982.2 1123.4 L1983.2 1125.4 L1984.2 1123.7 L1985.2 1119.2 L1986.2 1122.8 L1987.2 1122.1 L1988.2 1124.4 L1989.2 1122.6 L1990.1 1126.1 L1991.1 1127.2 L1992.2 1122.0 L1993.1 1126.1 L1994.2 1123.0 L1995.2 1122.1 L1996.1 1124.8 L1997.2 1123.0 L1998.1 1125.4 L1999.2 1121.9 L2000.1 1127.5 L2001.1 1126.8 L2002.2 1125.0 L2003.1 1124.8 L2004.1 1124.1 L2005.1 1121.9 L2006.1 1124.3 L2007.1 1123.5 L2008.1 1122.6 L2009.1 1122.2 L2010.1 1121.6 L2011.1 1125.7 L2012.1 1127.3 L2013.1 1130.7 L2014.1 1126.7 L2015.1 1122.1 L2016.0 1126.5 L2017.1 1122.8 L2018.0 1124.6 L2019.0 1121.5 L2020.0 1121.2 L2021.0 1122.9 L2022.0 1120.6 L2023.0 1122.7 L2024.0 1120.8 L2025.0 1125.9 L2026.0 1126.4 L2027.0 1126.2 L2028.0 1126.4 L2029.0 1124.3 L2030.0 1122.8 L2031.0 1125.5 L2032.0 1126.0 L2033.0 1128.6 L2034.0 1127.9 L2035.0 1128.0 L2036.0 1126.5 L2037.0 1123.1 L2038.0 1124.8 L2039.0 1124.9 L2040.1 1124.5 L2041.0 1128.2 L2042.0 1128.7 L2043.0 1129.9 L2044.0 1127.1 L2045.0 1126.4 L2046.0 1123.9 L2047.1 1123.5 L2048.1 1123.9 L2049.0 1127.4 L2050.1 1127.6 L2051.1 1125.1 L2052.1 1127.6 L2053.1 1125.8 L2054.1 1122.6 L2055.1 1121.8 L2056.0 1124.2 L2057.0 1123.3 L2058.1 1123.3 L2059.1 1125.0 L2060.1 1123.4 L2061.1 1125.6 L2062.1 1122.3 L2063.0 1127.4 L2064.1 1123.6 L2065.1 1118.8 L2066.1 1124.7 L2067.1 1125.6 L2068.1 1125.0 L2069.1 1125.3 L2070.1 1123.1 L2071.1 1123.2 L2072.1 1125.8 L2073.1 1122.4 L2074.1 1122.8 L2075.1 1126.9 L2076.1 1128.8 L2077.1 1126.4 L2078.1 1123.4 L2079.1 1125.7 L2080.1 1123.9 L2081.1 1123.8 L2082.1 1122.9 L2083.1 1123.5 L2084.1 1127.1 L2085.1 1120.9 L2086.1 1122.8 L2087.1 1124.4 L2088.1 1123.0 L2089.0 1126.6 L2090.1 1123.4 L2091.1 1126.1 L2092.1 1124.9 L2093.1 1121.5 L2094.0 1125.8 L2095.1 1126.4 L2096.1 1123.2 L2097.1 1122.6 L2098.1 1124.4 L2099.1 1124.3 L2100.1 1126.1 L2101.1 1126.4 L2102.1 1123.1 L2103.1 1123.4 L2104.0 1121.8 L2105.1 1124.6 L2106.1 1121.7 L2107.1 1120.0 L2108.1 1122.8 L2109.0 1124.4 L2110.0 1125.8 L2111.1 1125.1 L2112.1 1124.6 L2113.0 1124.8 L2114.1 1123.8 L2115.1 1123.1 L2116.0 1126.4 L2117.1 1125.1 L2118.1 1123.7 L2119.0 1127.8 L2120.0 1127.6 L2121.1 1122.9 L2122.1 1124.9 L2123.1 1123.4 L2124.0 1125.1 L2125.0 1125.1 L2126.1 1121.5 L2127.1 1123.2 L2128.0 1124.2 L2129.1 1121.1 L2130.0 1123.8 L2131.0 1122.9 L2132.0 1125.4 L2133.0 1127.1 L2134.0 1122.3 L2135.0 1124.5 L2136.0 1123.0 L2137.0 1125.3 L2138.0 1121.7 L2139.0 1124.7 L2140.0 1121.7 L2141.0 1127.2 L2142.0 1126.7 L2143.0 1122.7 L2144.0 1123.1 L2145.0 1126.1 L2146.0 1121.0 L2147.0 1125.6 L2148.0 1125.1 L2149.0 1125.3 L2150.0 1124.1 L2151.0 1125.9 L2152.0 1122.0 L2153.0 1126.1 L2153.0 1140.5 L2152.0 1139.8 L2151.0 1138.8 L2150.0 1136.7 L2149.0 1139.3 L2148.0 1138.4 L2147.0 1139.0 L2146.0 1137.4 L2145.0 1138.9 L2144.0 1136.8 L2143.0 1138.8 L2142.0 1137.1 L2141.0 1139.6 L2140.0 1135.4 L2139.0 1137.9 L2138.0 1136.5 L2137.0 1135.7 L2136.0 1135.7 L2135.0 1137.9 L2133.9 1137.6 L2133.0 1139.5 L2132.0 1139.1 L2131.0 1137.9 L2130.0 1137.0 L2128.9 1138.6 L2128.0 1137.3 L2127.0 1136.3 L2125.9 1139.4 L2125.0 1137.0 L2123.9 1139.6 L2122.9 1138.0 L2122.0 1138.6 L2120.9 1140.2 L2120.0 1138.2 L2118.9 1141.2 L2117.9 1138.6 L2116.9 1139.9 L2115.9 1141.7 L2114.9 1139.3 L2114.0 1136.8 L2113.0 1136.1 L2112.0 1137.6 L2110.9 1139.6 L2109.9 1138.3 L2108.9 1136.9 L2107.9 1137.8 L2106.9 1137.2 L2105.9 1136.5 L2104.9 1138.3 L2103.9 1133.4 L2102.9 1137.6 L2101.9 1136.6 L2100.9 1139.0 L2099.9 1138.4 L2098.9 1139.0 L2097.9 1141.6 L2096.9 1139.1 L2095.9 1137.4 L2094.9 1140.2 L2093.9 1137.4 L2092.9 1136.2 L2091.9 1137.7 L2090.9 1140.3 L2089.9 1139.1 L2088.9 1139.8 L2087.9 1135.9 L2086.9 1136.7 L2085.9 1138.3 L2084.9 1136.8 L2083.9 1140.2 L2082.9 1138.7 L2081.9 1135.7 L2080.9 1139.3 L2079.9 1138.2 L2078.9 1139.0 L2077.9 1137.1 L2076.9 1141.8 L2075.9 1141.1 L2074.9 1139.6 L2073.9 1137.4 L2072.9 1139.4 L2071.9 1139.0 L2070.9 1137.9 L2069.9 1136.9 L2068.9 1139.2 L2067.9 1137.0 L2067.0 1137.9 L2065.9 1139.5 L2064.9 1136.5 L2063.9 1139.4 L2063.0 1137.3 L2061.9 1137.3 L2060.9 1143.6 L2059.9 1138.1 L2058.9 1139.5 L2058.0 1135.9 L2056.9 1135.5 L2056.0 1134.7 L2054.9 1137.3 L2054.0 1136.6 L2052.9 1141.5 L2051.9 1141.9 L2050.9 1138.2 L2049.9 1141.8 L2048.9 1141.1 L2048.0 1137.8 L2046.9 1138.7 L2045.9 1136.7 L2045.0 1139.2 L2043.9 1140.7 L2043.0 1141.4 L2041.9 1143.7 L2041.0 1141.7 L2040.0 1140.0 L2038.9 1139.6 L2038.0 1137.7 L2037.0 1136.9 L2036.0 1139.6 L2034.9 1141.8 L2034.0 1140.1 L2033.0 1138.9 L2032.0 1137.6 L2031.0 1139.1 L2030.0 1134.1 L2029.0 1136.1 L2028.0 1141.0 L2027.0 1139.4 L2026.0 1142.0 L2025.0 1139.9 L2024.0 1139.3 L2023.0 1136.4 L2022.0 1134.8 L2021.0 1136.9 L2020.0 1134.8 L2019.0 1136.3 L2017.9 1140.0 L2017.0 1137.4 L2016.0 1136.1 L2014.9 1137.0 L2013.9 1138.9 L2012.9 1141.9 L2011.9 1139.0 L2010.9 1140.1 L2009.9 1136.1 L2008.8 1140.8 L2007.9 1134.7 L2006.9 1137.5 L2005.9 1134.9 L2004.9 1137.5 L2003.9 1137.5 L2002.9 1138.1 L2001.8 1141.2 L2000.9 1140.5 L1999.9 1140.0 L1998.9 1137.9 L1997.8 1141.6 L1996.8 1139.1 L1995.9 1136.0 L1994.9 1137.7 L1993.8 1139.0 L1992.8 1138.3 L1991.9 1136.1 L1990.8 1142.5 L1989.9 1136.7 L1988.8 1137.2 L1987.9 1137.6 L1986.8 1135.5 L1985.8 1136.1 L1984.8 1134.4 L1983.8 1135.5 L1982.8 1139.1 L1981.8 1137.8 L1980.8 1138.6 L1979.9 1132.5 L1978.9 1134.0 L1977.7 1140.7 L1976.8 1137.3 L1975.8 1138.8 L1974.8 1137.0 L1973.8 1138.8 L1972.8 1137.9 L1971.8 1136.4 L1970.8 1139.0 L1969.8 1136.2 L1968.8 1141.1 L1967.8 1136.6 L1966.8 1135.5 L1965.8 1135.4 L1964.8 1136.3 L1963.8 1135.9 L1962.8 1137.0 L1961.8 1135.0 L1960.9 1136.1 L1959.8 1133.8 L1958.8 1136.6 L1957.7 1140.4 L1956.8 1138.8 L1955.8 1137.1 L1954.8 1134.2 L1953.8 1136.2 L1952.8 1136.5 L1951.8 1137.5 L1950.8 1138.5 L1949.8 1138.0 L1948.8 1137.4 L1947.8 1136.6 L1946.8 1136.3 L1945.9 1136.4 L1944.8 1137.4 L1943.8 1137.0 L1942.9 1134.3 L1941.9 1136.6 L1940.9 1134.8 L1939.8 1136.6 L1938.9 1134.5 L1937.8 1140.0 L1936.9 1137.0 L1935.9 1137.2 L1934.9 1135.8 L1933.9 1138.0 L1932.9 1136.2 L1931.9 1135.3 L1930.8 1137.9 L1929.9 1134.0 L1928.9 1135.0 L1927.9 1135.0 L1926.9 1132.2 L1925.7 1137.9 L1924.6 1134.1 L1923.1 1137.4 L1921.8 1136.3 L1920.9 1134.2 L1919.0 1135.4 L1917.9 1134.8 L1916.8 1134.1 L1915.4 1131.9 L1914.7 1132.1 L1914.4 1128.0 L1912.5 1131.6 L1911.1 1131.9 L1910.2 1131.1 L1909.5 1131.4 L1907.5 1131.1 L1907.8 1130.7 L1906.1 1129.1 L1904.6 1127.1 L1904.1 1126.2 L1902.3 1126.7 L1901.2 1127.5 L1900.8 1126.8 L1899.7 1126.9 L1898.8 1128.0 L1897.5 1129.0 L1896.9 1126.0 L1896.5 1123.2 L1895.3 1120.6 L1894.0 1123.6 L1893.6 1123.6 L1892.7 1124.8 L1891.3 1123.0 L1890.0 1123.8 L1889.5 1123.3 L1888.8 1122.4 L1888.3 1118.0 L1887.0 1122.4 L1886.2 1120.1 L1885.2 1119.6 L1883.7 1123.0 L1882.7 1121.1 L1881.7 1120.9 L1880.0 1121.7 L1878.1 1122.2 L1877.3 1118.7 L1876.7 1116.9 L1875.8 1117.4 L1874.8 1115.8 L1872.7 1118.0 L1871.4 1117.5 L1871.5 1112.4 L1868.7 1116.9 L1868.1 1111.9 L1867.0 1111.7 L1866.8 1111.5 L1866.1 1109.9 L1864.7 1109.4 L1864.4 1106.5 L1861.6 1110.7 L1862.3 1111.2 L1860.1 1109.6 L1859.8 1105.9 L1859.1 1103.2 L1860.0 1103.2 L1857.8 1104.9 L1856.9 1100.5 L1855.7 1101.6 L1854.6 1100.0 L1851.9 1102.0 L1851.5 1100.7 L1848.2 1099.8 L1847.6 1098.9 L1847.1 1096.9 L1845.1 1095.3 L1844.9 1092.7 L1844.8 1090.4 L1843.0 1087.2 L1839.8 1087.3 L1840.9 1085.4 L1841.9 1080.1 L1839.2 1079.5 L1838.5 1080.2 L1836.5 1077.2 L1836.0 1073.5 L1834.6 1071.9 L1832.8 1072.2 L1834.0 1069.9 L1833.9 1066.5 L1833.3 1066.5 L1831.5 1065.7 L1829.5 1070.7 L1830.5 1064.7 L1828.7 1065.8 L1827.1 1065.6 L1825.7 1064.5 L1825.3 1060.2 L1823.4 1063.8 L1823.3 1062.5 L1820.6 1064.0 L1821.7 1060.4 L1820.6 1057.9 L1821.0 1057.6 L1820.5 1058.4 L1821.9 1058.1 L1822.9 1057.8 L1822.9 1059.4 L1822.0 1055.4 L1821.6 1059.1 L1822.0 1060.2 L1821.2 1061.2 L1819.7 1063.8 L1819.2 1064.1 L1816.4 1063.9 L1815.8 1066.8 L1815.3 1066.5 L1813.0 1065.8 L1813.3 1071.1 L1812.6 1070.6 L1810.2 1067.3 L1809.3 1070.7 L1809.8 1067.7 L1809.0 1071.9 L1807.4 1071.7 L1806.8 1073.9 L1806.3 1076.2 L1805.9 1076.0 L1803.7 1077.9 L1802.8 1077.3 L1801.6 1078.2 L1800.9 1082.9 L1797.8 1077.6 L1796.6 1077.8 L1795.2 1077.3 L1795.0 1081.4 L1793.3 1080.0 L1792.0 1080.5 L1790.7 1080.1 L1790.7 1081.5 L1790.2 1084.1 L1789.1 1084.4 L1788.3 1085.1 L1786.6 1084.2 L1786.1 1082.9 L1784.5 1081.6 L1784.1 1083.2 L1783.0 1084.5 L1782.4 1084.8 L1781.9 1088.0 L1781.0 1088.2 L1779.9 1087.6 L1778.5 1089.0 L1776.9 1088.7 L1777.5 1091.8 L1774.6 1087.7 L1774.8 1094.2 L1773.7 1091.3 L1772.8 1095.8 L1771.2 1092.6 L1769.9 1093.0 L1767.8 1090.7 L1768.5 1095.4 L1766.1 1094.0 L1764.6 1093.8 L1763.6 1094.2 L1762.0 1093.6 L1761.3 1097.2 L1759.6 1095.0 L1758.3 1096.3 L1757.0 1090.6 L1756.0 1096.3 L1755.0 1094.5 L1754.0 1098.2 L1753.0 1098.3 L1752.0 1098.0 L1751.0 1097.6 L1750.0 1098.1 L1749.0 1097.6 L1748.0 1096.7 L1747.0 1094.3 L1746.0 1099.6 L1745.0 1096.9 L1744.0 1095.4 L1742.9 1097.5 L1741.9 1096.1 L1740.8 1097.3 L1739.8 1098.5 L1738.6 1097.9 L1737.6 1095.7 L1736.6 1097.3 L1735.5 1097.6 L1734.4 1098.1 L1733.4 1097.0 L1732.4 1094.4 L1731.2 1097.0 L1730.3 1095.4 L1729.4 1092.0 L1728.4 1091.7 L1727.1 1095.8 L1726.2 1092.7 L1725.2 1092.1 L1724.0 1094.3 L1723.1 1093.7 L1722.2 1091.8 L1721.0 1093.5 L1719.9 1096.7 L1718.9 1095.0 L1718.2 1093.8 L1717.1 1093.4 L1716.1 1091.8 L1715.2 1092.3 L1714.2 1091.3 L1713.0 1095.4 L1712.2 1090.8 L1711.0 1092.2 L1710.0 1091.1 L1708.8 1091.7 L1708.1 1092.0 L1707.1 1089.4 L1706.0 1090.1 L1705.1 1089.8 L1704.1 1088.0 L1703.1 1089.9 L1702.3 1087.6 L1701.3 1090.6 L1700.0 1089.9 L1699.2 1092.3 L1698.0 1092.8 L1697.3 1089.0 L1696.4 1088.3 L1695.2 1091.4 L1694.5 1091.1 L1693.3 1089.0 L1692.4 1087.0 L1691.5 1089.8 L1690.4 1090.4 L1689.6 1087.4 L1688.5 1088.8 L1687.3 1091.3 L1686.5 1093.1 L1685.6 1089.9 L1684.3 1093.4 L1683.5 1089.9 L1682.4 1089.9 L1681.3 1091.6 L1680.1 1089.5 L1679.0 1090.5 L1678.1 1088.7 L1677.3 1085.0 L1676.2 1086.3 L1675.0 1088.5 L1674.1 1085.3 L1673.1 1087.1 L1671.8 1086.4 L1670.8 1089.2 L1669.8 1090.7 L1669.1 1084.6 L1668.3 1087.1 L1666.8 1088.5 L1666.1 1085.5 L1665.1 1088.3 L1664.3 1087.2 L1663.3 1087.1 L1662.2 1088.4 L1661.5 1084.9 L1660.3 1090.5 L1659.5 1084.7 L1658.4 1084.7 L1657.5 1085.1 L1656.2 1087.5 L1655.3 1087.4 L1654.2 1086.0 L1653.0 1086.0 L1652.0 1084.7 L1651.0 1083.3 L1650.1 1083.7 L1648.9 1084.6 L1647.8 1084.7 L1646.6 1087.1 L1645.6 1086.6 L1644.6 1084.0 L1643.8 1083.9 L1643.0 1084.0 L1641.8 1085.7 L1640.9 1079.9 L1639.8 1082.1 L1639.1 1081.9 L1638.1 1081.6 L1636.8 1083.2 L1636.1 1083.0 L1635.3 1079.9 L1634.0 1085.2 L1633.3 1079.3 L1632.5 1083.3 L1631.9 1084.7 L1631.3 1085.5 L1630.6 1082.5 L1629.9 1083.9 L1629.3 1083.7 L1628.3 1081.3 L1627.7 1083.0 L1626.2 1079.9 L1626.1 1086.7 L1624.9 1082.8 L1624.1 1084.3 L1623.2 1084.5 L1621.8 1085.0 L1620.8 1083.9 L1620.0 1085.3 L1619.1 1084.8 L1618.6 1086.4 L1617.8 1088.9 L1615.5 1083.7 L1615.5 1089.5 L1614.3 1088.5 L1613.3 1087.8 L1612.5 1087.8 L1611.1 1088.0 L1610.0 1088.4 L1608.6 1087.4 L1608.1 1090.3 L1606.2 1089.6 L1605.5 1089.2 L1604.5 1090.8 L1603.3 1090.1 L1602.7 1093.3 L1601.2 1087.7 L1600.9 1094.2 L1599.9 1091.3 L1599.5 1094.5 L1597.7 1089.6 L1597.0 1092.7 L1596.7 1094.6 L1596.2 1093.8 L1595.0 1091.5 L1593.8 1093.3 L1593.1 1093.2 L1592.7 1096.6 L1591.5 1094.0 L1590.4 1097.7 L1588.9 1096.5 L1587.9 1097.2 L1586.1 1095.7 L1586.0 1097.2 L1583.9 1093.5 L1583.2 1097.4 L1582.3 1095.3 L1581.5 1099.4 L1579.4 1098.4 L1578.6 1100.8 L1577.3 1102.2 L1576.3 1100.3 L1575.4 1101.6 L1573.9 1099.2 L1573.7 1099.0 L1572.7 1099.9 L1571.4 1099.1 L1571.0 1102.8 L1570.0 1100.1 L1569.2 1105.5 L1568.5 1103.4 L1567.4 1105.4 L1566.5 1104.1 L1565.2 1099.4 L1564.5 1103.4 L1562.6 1101.1 L1561.7 1102.8 L1562.4 1107.5 L1560.5 1106.4 L1559.6 1103.8 L1558.7 1104.9 L1558.3 1105.9 L1556.0 1105.0 L1556.2 1108.4 L1554.2 1107.8 L1553.2 1106.8 L1552.7 1108.1 L1551.9 1107.3 L1550.1 1108.1 L1549.3 1107.0 L1548.3 1108.3 L1547.0 1110.2 L1545.6 1106.6 L1545.1 1110.5 L1543.7 1110.5 L1543.3 1109.8 L1541.7 1113.2 L1540.5 1112.4 L1539.4 1113.5 L1538.5 1114.0 L1537.2 1115.7 L1535.7 1114.8 L1534.7 1114.4 L1533.7 1113.8 L1532.6 1115.5 L1531.5 1111.8 L1530.6 1114.1 L1529.7 1113.9 L1528.8 1117.2 L1528.0 1115.5 L1526.6 1113.7 L1525.8 1115.0 L1524.9 1116.3 L1524.2 1116.0 L1523.0 1114.7 L1522.1 1115.5 L1521.2 1117.7 L1519.8 1115.7 L1519.0 1117.5 L1518.2 1119.0 L1517.1 1117.0 L1515.7 1114.1 L1515.0 1116.4 L1514.1 1115.4 L1513.0 1113.1 L1512.1 1114.1 L1511.3 1116.0 L1510.0 1111.8 L1509.2 1116.0 L1507.8 1114.4 L1507.2 1117.7 L1506.1 1116.5 L1504.9 1118.1 L1504.2 1117.2 L1503.1 1114.7 L1502.1 1116.2 L1501.4 1116.4 L1499.9 1115.1 L1498.8 1117.0 L1498.2 1117.3 L1496.9 1118.5 L1495.8 1117.5 L1495.0 1118.0 L1493.9 1117.2 L1492.9 1118.7 L1491.9 1121.4 L1490.9 1122.3 L1489.6 1119.4 L1488.8 1119.7 L1487.7 1118.9 L1486.7 1120.8 L1485.7 1118.1 L1484.6 1119.5 L1483.6 1119.5 L1482.6 1119.7 L1481.4 1121.4 L1480.3 1121.8 L1479.5 1122.8 L1478.4 1120.0 L1477.5 1119.8 L1476.4 1117.8 L1475.5 1117.4 L1474.7 1120.6 L1473.4 1118.1 L1472.6 1120.1 L1471.7 1119.5 L1470.8 1121.0 L1469.8 1119.0 L1468.8 1120.9 L1467.7 1121.5 L1466.7 1120.4 L1465.7 1119.9 L1464.8 1121.7 L1463.9 1121.5 L1463.0 1122.2 L1461.9 1121.3 L1460.9 1120.2 L1459.9 1123.9 L1459.0 1123.7 L1457.9 1119.1 L1457.3 1122.4 L1455.8 1120.7 L1455.3 1124.5 L1454.0 1125.9 L1452.7 1121.5 L1452.0 1124.7 L1451.0 1124.4 L1449.9 1124.4 L1448.9 1124.1 L1447.9 1124.5 L1446.9 1123.5 L1445.8 1123.3 L1444.9 1125.2 L1444.0 1123.2 L1443.0 1125.2 L1441.8 1126.5 L1441.0 1125.0 L1439.9 1125.4 L1438.9 1127.1 L1438.0 1124.5 L1436.5 1120.0 L1435.5 1123.3 L1434.7 1126.0 L1433.6 1122.3 L1432.6 1123.4 L1431.6 1127.0 L1430.6 1124.7 L1429.6 1126.0 L1428.4 1124.6 L1427.5 1126.8 L1426.4 1122.3 L1425.6 1128.6 L1424.5 1128.5 L1423.6 1127.6 L1422.6 1126.4 L1421.6 1128.9 L1420.7 1128.7 L1419.8 1128.7 L1418.7 1126.1 L1417.8 1127.7 L1416.9 1127.6 L1415.5 1125.1 L1415.0 1129.2 L1414.1 1129.2 L1412.9 1126.2 L1412.0 1126.0 L1411.2 1130.3 L1410.1 1127.2 L1409.0 1126.5 L1408.3 1130.0 L1407.3 1129.6 L1405.8 1125.0 L1405.2 1128.1 L1404.1 1128.7 L1402.9 1129.4 L1402.1 1130.9 L1401.1 1131.8 L1399.9 1129.5 L1399.0 1127.4 L1397.9 1129.9 L1397.2 1131.1 L1396.1 1130.1 L1395.1 1127.8 L1394.3 1132.9 L1393.1 1130.7 L1392.2 1131.4 L1391.0 1131.5 L1390.0 1131.1 L1389.0 1132.3 L1388.2 1133.8 L1387.2 1134.8 L1386.2 1134.7 L1384.7 1131.6 L1384.0 1133.7 L1382.7 1131.4 L1382.0 1135.2 L1380.9 1133.6 L1379.5 1131.6 L1378.7 1129.4 L1377.6 1132.8 L1376.5 1133.0 L1375.8 1135.2 L1374.7 1134.2 L1373.5 1130.9 L1372.3 1132.0 L1370.9 1132.2 L1369.5 1132.2 L1368.3 1129.1 L1366.8 1131.1 L1364.8 1132.0 L1364.5 1128.9 L1362.6 1132.3 L1361.4 1129.4 L1360.8 1128.2 L1359.6 1129.5 L1358.6 1130.8 L1357.6 1130.8 L1356.3 1131.6 L1356.0 1125.2 L1354.7 1126.7 L1353.1 1127.0 L1352.3 1127.5 L1352.0 1127.3 L1351.6 1123.0 L1349.9 1127.4 L1349.2 1125.7 L1347.5 1129.4 L1346.9 1129.0 L1346.1 1124.7 L1344.6 1122.7 L1343.4 1122.3 L1340.7 1123.0 L1340.0 1121.5 L1336.3 1122.8 L1336.7 1118.8 L1336.0 1117.4 L1335.2 1113.6 L1332.1 1115.8 L1331.2 1114.0 L1331.2 1112.8 L1330.2 1113.8 L1330.8 1110.1 L1327.5 1114.1Z" fill="#008080" clip-path="url(#cc)"/>
<path d="M1334.0 1107.1 L1336.0 1113.1 L1338.0 1105.1 L1340.0 1105.2 L1342.0 1102.8 L1344.0 1114.2 L1346.0 1127.4 L1348.0 1116.7 L1350.0 1127.9 L1352.0 1120.6 L1354.0 1122.3 L1356.0 1111.6 L1358.0 1128.8 L1360.0 1124.1 L1362.0 1111.3 L1364.0 1123.0 L1366.0 1116.4 L1368.0 1105.2 L1370.0 1130.5 L1372.0 1111.4 L1374.0 1130.9 L1376.0 1131.9 L1378.0 1115.1 L1380.0 1126.5 L1382.0 1137.1 L1384.0 1125.3 L1386.0 1124.5 L1388.0 1134.9 L1390.0 1114.6 L1392.0 1126.4 L1394.0 1119.6 L1396.0 1117.1 L1398.0 1120.3 L1400.0 1120.1 L1402.0 1127.4 L1404.0 1110.5 L1406.0 1123.2 L1408.0 1124.1 L1410.0 1117.7 L1412.0 1125.2 L1414.0 1113.8 L1416.0 1119.7 L1418.0 1116.1 L1420.0 1119.6 L1422.0 1124.2 L1424.0 1118.2 L1426.0 1120.7 L1428.0 1109.4 L1430.0 1120.6 L1432.0 1121.8 L1434.0 1112.6 L1436.0 1114.7 L1438.0 1112.7 L1440.0 1104.6 L1442.0 1113.0 L1444.0 1118.2 L1446.0 1116.8 L1448.0 1117.9 L1450.0 1125.4 L1452.0 1131.3 L1454.0 1118.4 L1456.0 1112.6 L1458.0 1126.0 L1460.0 1117.5 L1462.0 1112.0 L1464.0 1126.9 L1466.0 1108.5 L1468.0 1118.9 L1470.0 1121.0 L1472.0 1114.5 L1474.0 1121.8 L1476.0 1109.9 L1478.0 1113.7 L1480.0 1113.0 L1482.0 1113.9 L1484.0 1115.5 L1486.0 1109.0 L1488.0 1110.2 L1490.0 1113.8 L1492.0 1114.1 L1494.0 1114.6 L1496.0 1114.0 L1498.0 1110.4 L1500.0 1109.6 L1502.0 1100.8 L1504.0 1118.4 L1506.0 1110.9 L1508.0 1113.0 L1510.0 1106.8 L1512.0 1100.6 L1514.0 1105.8 L1516.0 1112.4 L1518.0 1122.3 L1520.0 1106.9 L1522.0 1106.1 L1524.0 1105.4 L1526.0 1106.8 L1528.0 1111.9 L1530.0 1101.5 L1532.0 1114.0 L1534.0 1099.3 L1536.0 1104.3 L1538.0 1112.6 L1540.0 1109.7 L1542.0 1107.8 L1544.0 1100.4 L1546.0 1090.8 L1548.0 1096.9 L1550.0 1101.9 L1552.0 1100.6 L1554.0 1093.0 L1556.0 1105.2 L1558.0 1099.9 L1560.0 1091.6 L1562.0 1107.5 L1564.0 1094.3 L1566.0 1101.2 L1568.0 1098.8 L1570.0 1090.2 L1572.0 1085.3 L1574.0 1091.9 L1576.0 1101.7 L1578.0 1097.3 L1580.0 1095.3 L1582.0 1096.9 L1584.0 1091.3 L1586.0 1095.6 L1588.0 1091.2 L1590.0 1081.4 L1592.0 1085.3 L1594.0 1089.8 L1596.0 1090.8 L1598.0 1095.4 L1600.0 1079.1 L1602.0 1076.6 L1604.0 1071.8 L1606.0 1079.9 L1608.0 1092.5 L1610.0 1073.9 L1612.0 1076.3 L1614.0 1078.8 L1616.0 1069.3 L1618.0 1082.6 L1620.0 1071.9 L1622.0 1077.5 L1624.0 1070.4 L1626.0 1078.3 L1628.0 1069.1 L1630.0 1072.6 L1632.0 1069.5 L1634.0 1065.2 L1636.0 1074.3 L1638.0 1082.9 L1640.0 1081.1 L1642.0 1072.2 L1644.0 1071.5 L1646.0 1075.5 L1648.0 1080.9 L1650.0 1070.0 L1652.0 1082.4 L1654.0 1079.7 L1656.0 1078.1 L1658.0 1086.4 L1660.0 1083.2 L1662.0 1069.1 L1664.0 1071.5 L1666.0 1081.5 L1668.0 1077.4 L1670.0 1075.9 L1672.0 1080.6 L1674.0 1079.9 L1676.0 1074.6 L1678.0 1084.4 L1680.0 1089.1 L1682.0 1080.7 L1684.0 1072.6 L1686.0 1085.6 L1688.0 1068.7 L1690.0 1076.5 L1692.0 1091.3 L1694.0 1077.4 L1696.0 1085.9 L1698.0 1090.2 L1700.0 1079.0 L1702.0 1079.8 L1704.0 1083.8 L1706.0 1084.2 L1708.0 1085.4 L1710.0 1073.0 L1712.0 1072.7 L1714.0 1086.1 L1716.0 1083.2 L1718.0 1098.1 L1720.0 1094.0 L1722.0 1093.1 L1724.0 1078.5 L1726.0 1070.4 L1728.0 1092.1 L1730.0 1084.1 L1732.0 1086.2 L1734.0 1088.5 L1736.0 1088.0 L1738.0 1090.4 L1740.0 1091.5 L1742.0 1098.3 L1744.0 1089.0 L1746.0 1103.7 L1748.0 1095.3 L1750.0 1097.4 L1752.0 1094.6 L1754.0 1093.9 L1756.0 1086.7 L1758.0 1090.1 L1760.0 1081.0 L1762.0 1080.9 L1764.0 1084.4 L1766.0 1080.2 L1768.0 1079.1 L1770.0 1079.7 L1772.0 1085.2 L1774.0 1085.0 L1776.0 1087.1 L1778.0 1082.7 L1780.0 1077.4 L1782.0 1070.6 L1784.0 1066.6 L1786.0 1075.8 L1788.0 1073.6 L1790.0 1073.0 L1792.0 1082.5 L1794.0 1069.1 L1796.0 1091.7 L1798.0 1056.5 L1800.0 1073.3 L1802.0 1061.4 L1804.0 1064.9 L1806.0 1062.2 L1808.0 1059.4 L1810.0 1060.2 L1812.0 1070.8 L1814.0 1055.8 L1816.0 1072.7 L1818.0 1060.4 L1820.0 1051.3 L1822.0 1046.1 L1824.0 1053.5 L1826.0 1063.2 L1828.0 1052.4 L1830.0 1056.9 L1832.0 1072.0 L1834.0 1060.9 L1836.0 1047.6 L1838.0 1063.3 L1840.0 1073.4 L1842.0 1077.7 L1844.0 1073.3 L1846.0 1067.3 L1848.0 1078.9 L1850.0 1086.0 L1852.0 1087.2 L1854.0 1103.6 L1856.0 1099.4 L1858.0 1090.4 L1860.0 1108.1 L1862.0 1093.6 L1864.0 1096.0 L1866.0 1112.6 L1868.0 1101.6 L1870.0 1103.3 L1872.0 1112.7 L1874.0 1112.7 L1876.0 1104.3 L1878.0 1115.0 L1880.0 1118.8 L1882.0 1121.5 L1884.0 1115.8 L1886.0 1112.2 L1888.0 1100.2 L1890.0 1120.4 L1892.0 1116.1 L1894.0 1105.6 L1896.0 1116.2 L1898.0 1105.3 L1900.0 1111.6 L1902.0 1121.0 L1904.0 1118.3 L1906.0 1117.2 L1908.0 1121.6 L1910.0 1121.6 L1912.0 1124.6 L1914.0 1122.1 L1916.0 1134.5 L1918.0 1125.8 L1920.0 1126.4 L1922.0 1121.2 L1924.0 1125.5 L1926.0 1130.1 L1928.0 1140.9 L1930.0 1120.9 L1932.0 1127.5 L1934.0 1133.1 L1936.0 1118.7 L1938.0 1115.6 L1940.0 1120.7 L1942.0 1137.3 L1944.0 1117.0 L1946.0 1141.1 L1948.0 1128.2 L1950.0 1127.3 L1952.0 1132.4 L1954.0 1116.7 L1956.0 1124.9 L1958.0 1133.4 L1960.0 1129.8 L1962.0 1136.7 L1964.0 1129.4 L1966.0 1131.8 L1968.0 1137.4 L1970.0 1132.4 L1972.0 1134.0 L1974.0 1127.6 L1976.0 1126.8 L1978.0 1141.8 L1980.0 1137.8 L1982.0 1134.7 L1984.0 1129.0 L1986.0 1132.9 L1988.0 1135.0 L1990.0 1123.5 L1992.0 1129.6 L1994.0 1136.2 L1996.0 1126.3 L1998.0 1134.8 L2000.0 1136.8 L2002.0 1126.6 L2004.0 1132.3 L2006.0 1124.4 L2008.0 1138.6 L2010.0 1132.6 L2012.0 1133.4 L2014.0 1135.1 L2016.0 1131.5 L2018.0 1135.6 L2020.0 1124.3 L2022.0 1130.0 L2024.0 1133.6 L2026.0 1132.8 L2028.0 1138.9 L2030.0 1122.7 L2032.0 1146.4 L2034.0 1134.2 L2036.0 1136.5 L2038.0 1123.4 L2040.0 1124.0 L2042.0 1134.7 L2044.0 1132.8 L2046.0 1127.3 L2048.0 1126.3 L2050.0 1130.8 L2052.0 1139.4 L2054.0 1130.3 L2056.0 1121.0 L2058.0 1126.8 L2060.0 1134.2 L2062.0 1135.2 L2064.0 1140.1 L2066.0 1128.2 L2068.0 1126.8 L2070.0 1139.9 L2072.0 1135.5 L2074.0 1135.5 L2076.0 1133.9 L2078.0 1127.3 L2080.0 1123.3 L2082.0 1132.3 L2084.0 1132.8 L2086.0 1132.6 L2088.0 1124.0 L2090.0 1124.0 L2092.0 1140.1 L2094.0 1128.1 L2096.0 1128.0 L2098.0 1136.7 L2100.0 1135.8 L2102.0 1126.4 L2104.0 1128.5 L2106.0 1136.4 L2108.0 1134.8 L2110.0 1139.0 L2112.0 1142.2 L2114.0 1122.7 L2116.0 1135.2 L2118.0 1145.0 L2120.0 1135.9 L2122.0 1140.4 L2124.0 1138.0 L2126.0 1128.1 L2128.0 1141.2 L2130.0 1118.6 L2132.0 1129.4 L2134.0 1134.7 L2136.0 1131.2 L2138.0 1141.3 L2140.0 1117.7 L2142.0 1117.1 L2144.0 1123.8 L2146.0 1136.1 L2148.0 1118.1 L2150.0 1124.3 L2152.0 1132.3" fill="none" stroke="#008080" stroke-width="9" stroke-linejoin="round" stroke-linecap="round" clip-path="url(#cc)"/>
<path d="M1590.0 1085.8 L1591.0 1086.6 L1592.0 1083.9 L1593.0 1085.4 L1594.0 1086.9 L1595.0 1086.3 L1596.0 1083.3 L1597.0 1085.0 L1598.0 1082.7 L1599.0 1084.1 L1600.0 1080.3 L1601.0 1082.5 L1602.0 1080.9 L1603.0 1080.6 L1604.0 1079.3 L1605.0 1080.6 L1606.0 1077.5 L1607.0 1076.1 L1608.0 1074.6 L1609.0 1072.3 L1610.0 1068.5 L1611.0 1065.4 L1612.0 1061.0 L1613.0 1054.4 L1614.0 1044.6 L1615.0 1042.4 L1616.0 1043.8 L1617.0 1050.9 L1618.0 1058.8 L1619.0 1063.3 L1620.0 1068.0 L1621.0 1068.8 L1622.0 1070.5 L1623.0 1070.7 L1624.0 1074.4 L1625.0 1071.3 L1626.0 1072.7 L1627.0 1072.7 L1628.0 1074.6 L1629.0 1075.5 L1630.0 1074.3 L1631.0 1076.6 L1632.0 1076.5 L1633.0 1074.0 L1634.0 1071.4 L1635.0 1075.9 L1636.0 1073.0 L1637.0 1075.5 L1638.0 1074.0 L1639.0 1074.9 L1640.0 1075.3" fill="none" stroke="#008080" stroke-width="10.5" stroke-linejoin="round" stroke-linecap="round" clip-path="url(#cc)"/>
<path d="M1786.0 1076.3 L1787.0 1075.0 L1788.0 1073.3 L1789.0 1074.0 L1790.0 1073.6 L1791.0 1072.7 L1792.0 1072.9 L1793.0 1071.5 L1794.0 1072.1 L1795.0 1072.3 L1796.0 1074.9 L1797.0 1071.1 L1798.0 1070.4 L1799.0 1071.2 L1800.0 1067.9 L1801.0 1068.7 L1802.0 1066.8 L1803.0 1064.7 L1804.0 1063.8 L1805.0 1059.2 L1806.0 1063.5 L1807.0 1059.3 L1808.0 1059.2 L1809.0 1059.6 L1810.0 1056.3 L1811.0 1054.6 L1812.0 1055.5 L1813.0 1052.6 L1814.0 1049.9 L1815.0 1048.4 L1816.0 1043.1 L1817.0 1039.0 L1818.0 1035.1 L1819.0 1026.9 L1820.0 1024.1 L1821.0 1016.7 L1822.0 1016.2 L1823.0 1015.9 L1824.0 1022.5 L1825.0 1027.9 L1826.0 1035.9 L1827.0 1041.8 L1828.0 1045.3 L1829.0 1048.3 L1830.0 1047.4 L1831.0 1052.5 L1832.0 1054.9 L1833.0 1056.2 L1834.0 1056.2 L1835.0 1060.3 L1836.0 1056.9 L1837.0 1059.2 L1838.0 1059.5 L1839.0 1062.9 L1840.0 1064.4 L1841.0 1065.5 L1842.0 1067.9 L1843.0 1071.8 L1844.0 1075.7 L1845.0 1075.0 L1846.0 1076.7 L1847.0 1081.1 L1848.0 1082.0 L1849.0 1083.1 L1850.0 1086.6 L1851.0 1088.4 L1852.0 1090.4 L1853.0 1092.4 L1854.0 1093.7 L1855.0 1093.8 L1856.0 1095.7 L1857.0 1095.5 L1858.0 1094.6" fill="none" stroke="#008080" stroke-width="10.5" stroke-linejoin="round" stroke-linecap="round" clip-path="url(#cc)"/>
<path d="M1331.9 1507.2 L1332.7 1503.3 L1333.6 1503.2 L1333.8 1501.5 L1335.0 1500.9 L1335.6 1500.9 L1336.8 1501.7 L1338.9 1503.5 L1338.8 1500.8 L1339.4 1498.5 L1341.0 1500.1 L1340.9 1498.6 L1342.1 1499.2 L1344.2 1501.7 L1343.5 1497.3 L1344.8 1495.9 L1346.0 1496.1 L1347.4 1495.2 L1347.3 1494.6 L1350.5 1496.8 L1350.4 1494.9 L1350.3 1491.9 L1351.2 1489.7 L1352.9 1492.1 L1353.3 1488.6 L1355.5 1490.4 L1356.9 1489.9 L1356.5 1486.2 L1358.0 1486.8 L1359.7 1485.7 L1360.5 1486.9 L1361.9 1486.4 L1363.3 1486.1 L1364.3 1484.7 L1365.3 1483.0 L1367.3 1484.9 L1368.2 1486.5 L1369.1 1485.4 L1370.3 1484.8 L1371.0 1486.2 L1372.3 1485.4 L1372.9 1483.1 L1373.3 1483.0 L1374.5 1481.9 L1375.3 1482.2 L1375.9 1482.3 L1376.4 1477.9 L1378.3 1481.9 L1379.2 1481.5 L1379.5 1478.6 L1380.5 1478.5 L1382.3 1481.8 L1383.1 1480.3 L1383.9 1479.6 L1384.6 1477.4 L1385.6 1477.8 L1386.1 1475.1 L1386.7 1473.8 L1388.0 1474.9 L1389.9 1476.7 L1390.9 1473.8 L1392.1 1474.1 L1393.1 1472.3 L1393.3 1470.7 L1394.6 1470.4 L1396.9 1472.7 L1397.0 1469.8 L1397.6 1468.1 L1399.8 1471.6 L1400.1 1468.8 L1400.8 1466.1 L1403.2 1469.9 L1403.9 1468.4 L1405.2 1468.9 L1405.9 1466.6 L1407.2 1467.7 L1408.1 1465.9 L1409.5 1467.1 L1410.7 1466.8 L1411.7 1465.4 L1412.4 1464.5 L1413.7 1465.4 L1414.5 1464.8 L1415.5 1465.0 L1416.3 1464.5 L1416.8 1461.0 L1418.2 1464.4 L1418.6 1462.7 L1420.1 1464.4 L1421.2 1465.5 L1422.2 1465.0 L1421.8 1461.0 L1423.7 1462.5 L1424.2 1462.2 L1425.7 1461.7 L1426.5 1460.6 L1427.9 1463.1 L1428.1 1460.5 L1429.3 1460.8 L1430.8 1459.2 L1431.3 1456.7 L1432.2 1457.0 L1433.2 1456.8 L1434.5 1457.2 L1435.3 1456.8 L1436.4 1456.2 L1437.8 1457.9 L1439.4 1458.4 L1440.2 1456.2 L1440.6 1455.3 L1442.3 1456.3 L1443.2 1456.6 L1444.4 1457.1 L1445.6 1456.9 L1446.2 1455.6 L1447.7 1456.3 L1448.5 1454.4 L1449.8 1454.7 L1450.8 1455.5 L1451.7 1453.0 L1452.9 1455.6 L1453.5 1453.4 L1454.2 1452.7 L1455.2 1452.5 L1456.1 1452.0 L1457.2 1451.6 L1457.7 1449.9 L1459.0 1451.9 L1459.9 1451.6 L1461.0 1453.8 L1461.1 1451.1 L1462.6 1450.2 L1463.7 1451.1 L1464.2 1449.1 L1465.8 1447.2 L1467.1 1451.5 L1467.7 1448.6 L1468.6 1446.9 L1469.6 1448.1 L1471.5 1450.0 L1472.3 1448.5 L1472.9 1446.3 L1474.2 1445.2 L1475.6 1446.0 L1476.7 1447.8 L1476.9 1445.5 L1477.6 1447.2 L1478.3 1446.2 L1478.1 1443.7 L1479.3 1445.0 L1479.4 1446.6 L1479.7 1444.2 L1481.4 1445.6 L1481.2 1444.6 L1481.7 1443.6 L1482.7 1443.0 L1485.3 1440.9 L1486.5 1438.3 L1487.3 1437.6 L1488.6 1435.2 L1489.1 1435.2 L1489.3 1435.4 L1490.5 1433.4 L1491.2 1431.3 L1491.6 1431.1 L1494.0 1429.2 L1495.6 1428.2 L1496.8 1425.8 L1498.0 1427.0 L1498.2 1423.7 L1498.9 1420.6 L1500.8 1421.2 L1502.5 1420.9 L1503.3 1419.1 L1503.8 1419.3 L1505.5 1419.7 L1505.7 1417.0 L1506.8 1419.0 L1507.9 1418.8 L1507.7 1418.4 L1508.5 1415.9 L1510.1 1416.9 L1511.5 1414.8 L1512.8 1415.8 L1513.5 1412.7 L1512.8 1411.6 L1514.6 1412.0 L1515.6 1409.6 L1516.3 1408.6 L1517.7 1406.6 L1518.5 1405.0 L1520.5 1404.5 L1520.0 1403.4 L1522.7 1401.5 L1522.7 1397.9 L1526.0 1402.0 L1526.1 1397.5 L1527.5 1396.7 L1527.8 1396.7 L1530.1 1396.8 L1531.4 1394.5 L1531.7 1393.5 L1532.4 1394.5 L1533.7 1393.1 L1534.0 1390.2 L1535.3 1392.3 L1537.0 1391.7 L1538.4 1394.2 L1538.5 1391.5 L1539.4 1391.3 L1540.5 1392.2 L1540.8 1387.1 L1540.7 1387.8 L1542.0 1385.2 L1543.4 1387.1 L1544.2 1385.9 L1546.1 1386.7 L1545.9 1382.9 L1548.2 1383.6 L1548.6 1383.6 L1550.4 1383.2 L1551.4 1382.8 L1551.9 1381.1 L1552.7 1378.1 L1555.4 1380.8 L1555.8 1378.2 L1556.0 1375.9 L1558.0 1377.1 L1559.0 1377.7 L1559.6 1376.0 L1560.7 1377.5 L1561.2 1376.1 L1562.2 1375.1 L1563.7 1377.2 L1563.6 1372.8 L1564.7 1372.4 L1564.6 1373.8 L1567.4 1374.9 L1568.0 1375.4 L1566.9 1372.5 L1569.4 1371.7 L1569.1 1370.5 L1571.6 1371.3 L1571.4 1367.7 L1574.1 1368.8 L1575.2 1366.7 L1575.5 1362.4 L1576.2 1363.0 L1577.7 1361.0 L1577.7 1358.9 L1580.2 1359.9 L1580.5 1359.7 L1582.6 1360.6 L1584.0 1358.5 L1584.6 1355.9 L1586.4 1358.4 L1588.1 1360.3 L1588.3 1355.6 L1588.9 1356.8 L1590.0 1356.6 L1591.2 1357.9 L1592.3 1355.7 L1593.1 1356.0 L1593.4 1352.7 L1593.8 1351.8 L1596.4 1354.7 L1597.2 1353.1 L1598.4 1348.9 L1600.3 1350.8 L1602.1 1351.1 L1603.7 1351.7 L1605.3 1350.0 L1606.8 1347.9 L1607.8 1352.2 L1608.7 1352.1 L1610.1 1348.7 L1611.2 1349.9 L1612.2 1350.0 L1613.0 1351.2 L1614.4 1350.1 L1615.3 1350.0 L1616.1 1351.3 L1616.9 1351.6 L1618.2 1350.2 L1619.2 1348.9 L1619.7 1352.7 L1621.0 1351.4 L1621.8 1353.3 L1622.8 1351.4 L1623.8 1351.3 L1624.9 1351.4 L1625.9 1352.4 L1626.9 1352.1 L1628.3 1351.2 L1629.5 1351.1 L1630.6 1352.6 L1632.1 1352.0 L1632.8 1354.1 L1634.3 1352.8 L1635.4 1353.9 L1636.2 1355.0 L1637.2 1356.5 L1638.0 1358.5 L1638.9 1356.3 L1639.8 1358.8 L1640.6 1357.0 L1641.6 1358.3 L1642.4 1359.1 L1643.4 1358.5 L1644.2 1359.2 L1645.2 1356.3 L1645.7 1360.7 L1646.6 1360.4 L1647.7 1358.3 L1648.7 1356.8 L1649.7 1356.9 L1650.7 1358.4 L1652.0 1355.7 L1652.8 1357.8 L1653.8 1355.1 L1655.0 1357.7 L1655.8 1359.8 L1656.9 1359.6 L1657.9 1358.3 L1658.8 1360.8 L1660.1 1356.5 L1661.3 1357.8 L1662.2 1358.0 L1663.0 1360.3 L1664.0 1359.6 L1664.9 1361.0 L1666.1 1360.6 L1667.1 1360.7 L1667.9 1361.3 L1669.2 1361.0 L1669.8 1364.7 L1670.9 1362.2 L1672.0 1361.7 L1673.1 1359.4 L1674.0 1361.0 L1674.8 1363.4 L1675.7 1362.9 L1676.9 1362.3 L1677.9 1363.1 L1678.8 1360.3 L1679.6 1364.7 L1680.8 1361.8 L1681.7 1362.3 L1682.5 1364.0 L1683.5 1364.7 L1684.7 1361.3 L1685.6 1363.3 L1686.8 1362.5 L1688.1 1362.5 L1688.9 1365.5 L1690.2 1363.9 L1691.4 1361.6 L1692.5 1362.7 L1693.6 1362.7 L1694.7 1364.4 L1695.6 1365.8 L1696.7 1365.9 L1698.0 1364.5 L1699.2 1365.1 L1700.1 1365.9 L1701.3 1365.3 L1702.1 1365.1 L1702.9 1365.5 L1704.1 1366.8 L1705.1 1367.2 L1705.3 1368.8 L1706.7 1369.6 L1707.2 1370.5 L1708.7 1369.4 L1709.7 1368.4 L1710.4 1368.5 L1711.3 1368.1 L1712.2 1369.6 L1713.2 1368.0 L1714.1 1369.9 L1715.7 1368.8 L1716.6 1370.7 L1717.8 1370.3 L1718.7 1368.8 L1720.1 1369.1 L1721.3 1369.7 L1722.2 1370.1 L1723.1 1372.3 L1724.7 1370.1 L1725.1 1373.4 L1726.6 1372.0 L1727.6 1371.3 L1728.0 1374.9 L1729.9 1372.4 L1730.6 1374.0 L1731.2 1375.3 L1732.7 1375.1 L1733.0 1376.7 L1734.6 1376.0 L1735.2 1376.4 L1735.9 1378.1 L1737.2 1376.5 L1737.7 1375.7 L1738.4 1379.7 L1738.7 1377.5 L1738.7 1376.7 L1739.0 1378.0 L1738.8 1378.2 L1738.9 1377.8 L1738.2 1376.4 L1739.3 1374.1 L1741.1 1377.0 L1741.2 1374.4 L1742.1 1374.1 L1742.1 1372.4 L1743.2 1371.3 L1744.8 1370.7 L1745.9 1369.4 L1747.9 1369.3 L1749.0 1368.9 L1749.3 1366.2 L1748.0 1364.8 L1750.8 1364.2 L1752.4 1363.9 L1752.5 1360.5 L1753.0 1361.9 L1755.4 1361.2 L1756.4 1358.6 L1756.9 1356.0 L1759.0 1357.5 L1760.3 1356.4 L1761.5 1356.7 L1761.6 1354.9 L1763.1 1356.4 L1763.5 1354.1 L1763.7 1352.4 L1765.6 1353.3 L1766.8 1352.0 L1766.4 1348.3 L1767.7 1348.3 L1768.8 1347.6 L1769.8 1347.9 L1769.1 1346.2 L1770.5 1346.0 L1771.9 1342.2 L1772.8 1340.5 L1773.8 1339.6 L1775.2 1339.0 L1777.0 1336.8 L1777.2 1337.6 L1777.2 1332.8 L1777.3 1332.4 L1780.3 1331.8 L1781.6 1329.9 L1783.3 1329.2 L1783.4 1325.6 L1786.4 1326.3 L1787.0 1323.7 L1788.3 1321.5 L1789.0 1323.5 L1789.1 1321.7 L1790.2 1322.2 L1791.5 1321.5 L1791.6 1320.4 L1791.6 1317.0 L1793.5 1318.0 L1795.8 1315.4 L1795.3 1314.4 L1795.0 1311.8 L1797.3 1312.3 L1797.8 1312.3 L1799.2 1308.3 L1800.2 1307.0 L1801.4 1306.4 L1800.9 1303.7 L1803.5 1303.7 L1806.1 1302.6 L1806.7 1298.2 L1809.6 1299.3 L1812.4 1297.1 L1815.5 1297.9 L1818.1 1299.1 L1820.4 1301.0 L1821.4 1302.9 L1822.1 1306.0 L1824.1 1306.6 L1824.2 1305.5 L1825.8 1310.3 L1828.3 1307.4 L1829.3 1309.1 L1829.3 1310.6 L1830.6 1312.5 L1831.5 1314.6 L1832.0 1313.5 L1831.9 1313.7 L1832.9 1314.8 L1835.4 1312.4 L1835.2 1316.4 L1836.6 1316.6 L1838.9 1317.5 L1839.1 1320.2 L1841.0 1322.6 L1841.4 1324.5 L1844.3 1325.6 L1844.7 1330.4 L1847.5 1331.1 L1847.3 1335.5 L1846.3 1335.4 L1847.5 1336.2 L1846.1 1339.5 L1848.9 1339.5 L1850.9 1341.4 L1851.1 1342.7 L1851.9 1345.0 L1853.7 1345.8 L1855.6 1347.7 L1857.9 1351.5 L1857.5 1354.3 L1858.3 1357.5 L1859.1 1360.2 L1859.3 1362.7 L1862.0 1364.0 L1862.5 1364.6 L1862.2 1366.0 L1864.4 1365.0 L1864.6 1366.7 L1865.3 1366.6 L1865.1 1369.5 L1866.9 1369.6 L1867.6 1369.5 L1869.2 1371.4 L1870.9 1371.5 L1872.8 1373.1 L1873.6 1377.3 L1874.2 1376.6 L1873.8 1381.3 L1874.9 1381.6 L1876.6 1381.8 L1878.0 1385.6 L1878.5 1386.5 L1879.9 1388.4 L1881.3 1388.4 L1882.7 1389.5 L1882.5 1393.6 L1883.4 1393.9 L1883.8 1394.1 L1885.7 1395.3 L1884.9 1398.2 L1884.9 1399.9 L1888.4 1396.9 L1888.2 1397.2 L1887.5 1399.9 L1887.3 1401.4 L1888.0 1396.3 L1888.0 1395.2 L1889.0 1398.1 L1890.0 1397.9 L1891.0 1395.2 L1892.0 1397.8 L1893.0 1395.8 L1894.0 1396.6 L1895.0 1396.8 L1896.0 1398.1 L1897.0 1395.4 L1898.0 1397.3 L1899.0 1400.0 L1900.0 1400.3 L1901.0 1397.6 L1902.0 1398.5 L1903.0 1400.3 L1904.0 1398.5 L1905.0 1397.0 L1906.0 1397.6 L1907.0 1399.3 L1908.0 1398.4 L1908.9 1399.1 L1909.8 1398.6 L1910.7 1396.6 L1911.6 1396.8 L1912.6 1398.0 L1913.3 1397.5 L1914.2 1396.3 L1915.2 1398.4 L1916.1 1396.0 L1916.9 1395.6 L1917.9 1394.8 L1918.8 1397.2 L1920.2 1398.5 L1920.9 1398.0 L1922.0 1397.4 L1922.9 1397.5 L1923.9 1399.0 L1924.9 1398.7 L1925.5 1393.6 L1926.5 1393.8 L1927.7 1397.6 L1928.8 1393.5 L1929.5 1394.6 L1930.6 1393.9 L1931.5 1393.8 L1932.4 1392.1 L1933.6 1392.9 L1934.5 1392.7 L1935.3 1391.9 L1936.4 1392.9 L1937.8 1395.0 L1938.9 1395.2 L1939.8 1394.4 L1940.5 1393.1 L1941.8 1392.9 L1942.8 1393.2 L1943.7 1391.4 L1944.4 1390.3 L1945.3 1386.8 L1946.7 1390.2 L1947.6 1388.9 L1948.8 1389.7 L1949.8 1389.1 L1950.9 1391.9 L1951.8 1388.3 L1953.0 1391.5 L1953.7 1388.1 L1955.1 1391.6 L1955.8 1387.9 L1957.3 1389.7 L1958.4 1389.9 L1959.3 1388.8 L1960.3 1390.8 L1961.5 1389.0 L1962.7 1389.6 L1963.9 1388.7 L1965.1 1390.5 L1966.3 1389.7 L1967.6 1389.8 L1968.6 1390.1 L1969.6 1389.9 L1970.5 1390.7 L1971.8 1389.7 L1972.9 1389.9 L1973.9 1389.5 L1974.8 1392.6 L1975.8 1389.8 L1976.9 1390.0 L1977.7 1391.3 L1978.8 1393.2 L1979.9 1391.5 L1981.1 1390.6 L1982.1 1390.8 L1982.9 1390.9 L1984.4 1390.4 L1985.1 1392.9 L1985.7 1393.9 L1987.1 1391.5 L1988.2 1391.4 L1989.0 1393.8 L1990.1 1391.4 L1990.9 1394.0 L1992.1 1392.5 L1993.1 1394.8 L1994.2 1393.4 L1995.2 1392.1 L1996.1 1394.6 L1996.6 1399.5 L1998.1 1395.3 L1999.0 1396.8 L1999.9 1395.7 L2001.0 1395.2 L2002.1 1396.0 L2003.0 1395.0 L2003.9 1395.8 L2005.1 1393.0 L2005.7 1397.4 L2006.8 1396.2 L2007.9 1394.4 L2008.9 1395.2 L2009.8 1394.2 L2010.9 1393.9 L2011.8 1394.7 L2012.5 1395.6 L2013.6 1394.9 L2014.7 1393.8 L2015.4 1396.1 L2016.2 1394.9 L2017.0 1396.0 L2017.9 1397.5 L2018.6 1393.9 L2019.5 1396.5 L2020.5 1396.9 L2021.3 1393.7 L2022.4 1395.9 L2023.3 1394.8 L2024.3 1395.4 L2025.4 1395.4 L2026.2 1394.7 L2027.3 1395.4 L2028.0 1393.4 L2029.3 1394.0 L2030.1 1395.4 L2031.1 1394.6 L2032.0 1392.5 L2033.2 1394.5 L2034.0 1392.4 L2035.0 1392.7 L2036.0 1394.0 L2037.1 1394.8 L2038.2 1394.4 L2039.1 1394.7 L2040.2 1394.1 L2041.1 1391.6 L2042.1 1395.8 L2043.2 1394.1 L2044.3 1392.9 L2045.1 1392.7 L2046.2 1393.5 L2047.3 1393.1 L2048.3 1392.0 L2049.4 1393.9 L2050.5 1394.4 L2051.4 1392.4 L2052.6 1391.7 L2053.4 1394.0 L2054.2 1392.8 L2055.1 1393.4 L2055.6 1392.9 L2056.2 1392.9 L2056.6 1392.2 L2058.2 1394.0 L2058.1 1388.9 L2059.6 1390.5 L2059.9 1389.4 L2060.2 1386.9 L2062.3 1390.0 L2062.0 1385.6 L2063.9 1387.6 L2064.8 1387.1 L2066.0 1386.9 L2066.5 1387.5 L2066.6 1384.0 L2069.3 1386.5 L2070.7 1385.6 L2070.7 1382.1 L2070.9 1379.7 L2072.8 1382.1 L2073.5 1380.4 L2076.0 1384.5 L2076.3 1381.8 L2078.0 1379.8 L2079.4 1380.9 L2080.6 1378.7 L2082.2 1379.8 L2083.5 1378.8 L2084.9 1380.8 L2086.2 1380.6 L2087.1 1381.0 L2088.2 1376.9 L2089.3 1376.8 L2090.2 1380.3 L2091.2 1381.1 L2092.3 1377.4 L2093.2 1379.2 L2094.3 1379.9 L2095.2 1382.4 L2096.3 1378.1 L2097.3 1378.5 L2098.3 1379.9 L2099.3 1379.8 L2100.3 1378.9 L2101.3 1378.9 L2102.4 1378.8 L2103.3 1381.9 L2104.4 1381.0 L2105.4 1381.3 L2106.4 1381.3 L2107.3 1381.5 L2108.3 1382.0 L2109.4 1381.6 L2110.5 1380.5 L2111.4 1380.2 L2112.4 1382.3 L2113.4 1382.1 L2114.4 1380.7 L2115.4 1381.7 L2116.3 1380.6 L2117.3 1381.8 L2118.4 1381.7 L2119.4 1379.7 L2120.4 1382.3 L2121.3 1382.1 L2122.3 1380.5 L2123.4 1381.3 L2124.3 1382.4 L2125.3 1382.2 L2126.4 1380.5 L2127.3 1384.8 L2128.4 1383.1 L2129.4 1380.0 L2130.3 1383.9 L2131.3 1383.6 L2132.2 1383.0 L2133.4 1382.0 L2134.2 1382.6 L2135.3 1381.1 L2136.2 1382.9 L2137.3 1380.3 L2138.3 1381.8 L2139.3 1379.7 L2140.2 1381.7 L2141.3 1382.1 L2142.2 1382.4 L2143.2 1381.1 L2144.3 1380.7 L2145.2 1383.9 L2146.2 1383.8 L2147.2 1383.2 L2148.2 1383.4 L2149.2 1381.7 L2150.2 1384.6 L2151.2 1380.4 L2152.2 1384.6 L2153.1 1383.5 L2152.8 1396.7 L2151.8 1400.1 L2150.8 1397.6 L2149.8 1398.8 L2148.8 1398.3 L2147.8 1398.8 L2146.8 1395.9 L2145.7 1400.7 L2144.8 1396.3 L2143.8 1393.5 L2142.8 1394.5 L2141.7 1396.8 L2140.7 1397.8 L2139.7 1394.1 L2138.7 1394.5 L2137.7 1396.4 L2136.7 1394.1 L2135.7 1394.9 L2134.6 1396.5 L2133.8 1392.7 L2132.7 1396.6 L2131.6 1396.3 L2130.7 1395.3 L2129.6 1397.3 L2128.5 1397.3 L2127.7 1395.3 L2126.6 1397.1 L2125.6 1396.0 L2124.6 1394.7 L2123.6 1395.0 L2122.6 1395.7 L2121.7 1392.8 L2120.7 1394.3 L2119.6 1396.7 L2118.7 1392.6 L2117.7 1394.2 L2116.6 1394.1 L2115.7 1392.3 L2114.6 1397.0 L2113.7 1394.7 L2112.8 1393.5 L2111.7 1395.2 L2110.7 1394.0 L2109.7 1395.7 L2108.7 1396.6 L2107.7 1393.5 L2106.7 1394.9 L2105.6 1396.3 L2104.7 1395.3 L2103.7 1394.6 L2102.6 1396.4 L2101.7 1393.4 L2100.7 1392.8 L2099.7 1392.8 L2098.7 1394.3 L2097.8 1392.4 L2096.7 1393.3 L2095.7 1392.6 L2094.8 1394.6 L2093.7 1393.9 L2092.8 1392.2 L2091.7 1393.4 L2090.8 1392.8 L2089.8 1394.9 L2088.8 1391.9 L2087.8 1392.0 L2086.8 1392.7 L2085.9 1392.4 L2085.1 1393.2 L2084.5 1393.1 L2084.1 1394.6 L2083.0 1391.1 L2082.6 1393.2 L2082.7 1393.7 L2081.7 1396.2 L2080.9 1396.4 L2079.3 1393.5 L2078.7 1394.6 L2078.4 1394.9 L2076.8 1393.9 L2075.8 1395.0 L2075.3 1397.4 L2074.2 1397.5 L2073.2 1399.4 L2071.6 1396.8 L2071.6 1399.3 L2070.4 1399.5 L2069.2 1399.1 L2068.3 1401.5 L2067.2 1401.0 L2066.4 1403.0 L2065.1 1402.9 L2063.5 1401.9 L2062.3 1404.9 L2061.1 1405.6 L2060.2 1407.5 L2058.3 1405.3 L2057.0 1404.8 L2056.0 1406.1 L2054.6 1406.6 L2053.5 1405.6 L2052.5 1406.4 L2051.5 1407.5 L2050.5 1405.7 L2049.7 1407.2 L2048.7 1407.2 L2047.7 1407.8 L2046.6 1407.0 L2045.6 1404.8 L2044.8 1408.1 L2043.8 1410.0 L2042.9 1405.9 L2042.0 1408.4 L2041.1 1410.7 L2039.9 1408.2 L2039.2 1410.6 L2038.0 1409.1 L2037.0 1408.1 L2035.7 1405.0 L2034.6 1405.4 L2033.8 1406.7 L2032.9 1408.9 L2031.8 1409.0 L2030.7 1405.9 L2030.0 1410.0 L2028.8 1408.9 L2027.6 1407.5 L2026.7 1407.9 L2025.6 1408.3 L2024.8 1410.7 L2023.6 1408.8 L2022.6 1408.8 L2021.5 1409.1 L2020.6 1411.8 L2019.3 1409.2 L2018.2 1411.5 L2017.0 1409.5 L2015.8 1410.7 L2014.5 1411.6 L2013.4 1410.8 L2012.4 1409.3 L2011.2 1410.6 L2010.4 1409.2 L2009.4 1409.0 L2008.1 1411.1 L2007.2 1410.6 L2006.1 1410.6 L2005.4 1407.5 L2004.0 1411.7 L2003.2 1407.3 L2002.1 1409.5 L2001.0 1409.2 L2000.2 1409.5 L1999.1 1408.7 L1997.9 1409.3 L1996.7 1412.2 L1996.2 1407.9 L1995.0 1410.3 L1993.8 1409.7 L1992.6 1408.9 L1991.9 1407.7 L1990.9 1408.6 L1990.2 1404.9 L1989.0 1406.0 L1987.7 1407.1 L1987.0 1406.4 L1985.8 1407.1 L1984.7 1407.1 L1983.9 1405.7 L1982.9 1407.4 L1982.2 1405.2 L1980.9 1404.3 L1980.1 1405.2 L1978.9 1406.0 L1978.1 1404.8 L1977.0 1406.7 L1976.2 1403.4 L1975.2 1403.4 L1974.2 1403.8 L1973.3 1405.7 L1972.4 1403.1 L1971.4 1404.2 L1970.2 1405.5 L1969.2 1404.4 L1968.2 1405.0 L1967.4 1404.4 L1966.4 1405.1 L1965.6 1404.2 L1964.9 1404.9 L1964.1 1404.2 L1963.3 1403.7 L1962.5 1403.5 L1961.6 1403.6 L1960.7 1402.2 L1959.8 1401.6 L1958.9 1402.7 L1957.9 1403.8 L1957.0 1405.6 L1956.1 1404.6 L1954.9 1404.8 L1954.3 1404.2 L1952.8 1403.9 L1951.9 1401.7 L1951.0 1402.2 L1950.3 1404.4 L1949.4 1404.7 L1948.3 1402.9 L1947.1 1404.6 L1946.1 1404.0 L1945.4 1406.8 L1944.4 1406.3 L1943.4 1407.9 L1942.4 1407.1 L1941.4 1407.2 L1940.2 1406.9 L1939.0 1405.7 L1938.2 1406.0 L1937.4 1406.5 L1936.1 1405.1 L1935.4 1407.0 L1934.5 1408.8 L1933.7 1409.5 L1932.5 1410.2 L1931.2 1406.2 L1930.4 1412.0 L1929.1 1407.9 L1928.2 1408.4 L1927.2 1411.2 L1926.1 1411.3 L1925.2 1411.6 L1924.0 1410.0 L1923.2 1412.8 L1922.0 1410.8 L1921.0 1412.5 L1919.8 1408.7 L1918.8 1409.9 L1917.8 1409.7 L1916.7 1411.3 L1915.6 1408.3 L1914.5 1409.5 L1913.6 1410.3 L1912.4 1409.9 L1911.2 1408.8 L1910.3 1414.4 L1909.1 1413.4 L1908.0 1411.8 L1907.0 1412.3 L1906.0 1411.7 L1905.0 1412.0 L1904.0 1411.6 L1903.0 1412.2 L1902.0 1413.1 L1901.0 1412.2 L1900.0 1412.8 L1899.0 1412.2 L1898.0 1411.8 L1897.0 1410.2 L1896.0 1412.7 L1895.0 1410.9 L1894.0 1412.1 L1893.0 1410.7 L1892.0 1411.4 L1891.0 1410.6 L1890.0 1411.7 L1889.0 1411.7 L1888.0 1410.3 L1886.4 1411.1 L1884.5 1413.2 L1882.4 1413.0 L1880.3 1411.4 L1879.0 1409.6 L1877.2 1408.2 L1876.9 1405.8 L1874.8 1404.9 L1873.2 1402.9 L1871.5 1403.0 L1871.4 1401.8 L1871.0 1397.8 L1868.2 1397.3 L1868.3 1396.1 L1867.1 1394.0 L1866.0 1393.3 L1865.2 1389.2 L1864.7 1388.2 L1862.6 1388.8 L1862.7 1384.4 L1860.5 1386.6 L1861.4 1381.4 L1859.2 1380.5 L1858.2 1380.5 L1858.9 1377.3 L1857.2 1378.9 L1856.6 1378.7 L1856.1 1376.4 L1855.0 1376.1 L1851.9 1375.6 L1852.1 1373.1 L1849.1 1372.6 L1849.3 1370.3 L1847.4 1367.9 L1846.1 1365.5 L1845.3 1362.7 L1844.3 1359.5 L1845.8 1356.5 L1843.2 1353.2 L1840.9 1352.1 L1841.5 1350.9 L1839.0 1350.3 L1839.0 1349.4 L1836.8 1347.7 L1835.7 1346.2 L1836.2 1342.8 L1832.9 1342.3 L1833.5 1342.1 L1831.8 1338.5 L1830.7 1337.0 L1830.5 1332.3 L1830.9 1329.9 L1827.8 1330.3 L1829.1 1327.1 L1829.0 1325.8 L1826.0 1327.2 L1825.4 1328.0 L1825.1 1325.6 L1824.4 1325.8 L1823.6 1323.4 L1822.8 1323.2 L1819.7 1326.2 L1819.2 1323.3 L1818.4 1320.5 L1815.2 1321.7 L1816.7 1317.8 L1816.9 1318.3 L1814.5 1314.7 L1815.2 1315.4 L1813.5 1315.1 L1813.3 1312.3 L1811.9 1312.1 L1812.0 1311.5 L1812.4 1312.6 L1813.6 1313.0 L1814.3 1312.1 L1815.1 1311.1 L1816.5 1313.5 L1814.0 1313.7 L1813.1 1314.3 L1813.0 1315.7 L1811.7 1315.7 L1810.0 1316.2 L1810.9 1321.6 L1807.6 1319.4 L1809.5 1321.8 L1807.0 1322.6 L1804.9 1322.0 L1804.3 1326.1 L1803.7 1326.7 L1801.3 1328.8 L1800.6 1330.0 L1799.1 1331.6 L1799.6 1334.0 L1797.4 1334.0 L1794.7 1329.7 L1795.3 1334.1 L1794.7 1336.0 L1793.3 1336.1 L1792.7 1338.0 L1793.0 1339.8 L1792.4 1341.6 L1790.7 1342.5 L1789.9 1341.9 L1789.0 1345.7 L1788.4 1344.3 L1786.2 1346.2 L1786.9 1348.1 L1784.1 1347.7 L1783.0 1349.3 L1785.2 1355.6 L1782.1 1354.9 L1781.2 1355.7 L1779.0 1354.9 L1777.8 1356.0 L1777.2 1357.1 L1775.8 1359.8 L1775.2 1362.3 L1774.6 1363.9 L1773.2 1365.8 L1770.7 1366.7 L1770.0 1367.2 L1769.1 1368.4 L1768.3 1368.6 L1767.2 1369.6 L1765.7 1367.8 L1764.0 1367.9 L1765.2 1372.2 L1763.7 1373.2 L1763.4 1371.3 L1762.5 1373.5 L1761.1 1373.8 L1761.5 1377.0 L1759.0 1374.9 L1758.5 1377.3 L1757.6 1378.1 L1755.2 1377.8 L1756.4 1381.4 L1754.2 1381.9 L1752.9 1383.2 L1751.2 1383.7 L1752.0 1386.5 L1748.7 1386.2 L1749.1 1387.0 L1747.6 1390.3 L1745.3 1390.4 L1743.3 1391.2 L1741.2 1389.6 L1739.3 1390.7 L1737.4 1391.0 L1735.2 1393.9 L1734.7 1387.7 L1733.0 1391.9 L1732.0 1391.3 L1731.1 1389.3 L1729.9 1390.0 L1728.7 1389.0 L1728.0 1388.2 L1726.5 1388.2 L1725.3 1388.2 L1724.8 1385.8 L1723.0 1388.2 L1722.5 1385.1 L1721.8 1384.9 L1720.7 1385.6 L1720.2 1383.2 L1718.9 1384.9 L1717.9 1383.8 L1716.9 1384.7 L1715.9 1384.4 L1715.1 1383.1 L1714.6 1384.6 L1714.0 1383.7 L1713.0 1383.9 L1712.0 1382.5 L1710.7 1383.9 L1710.0 1383.2 L1709.1 1381.0 L1707.6 1383.5 L1706.7 1382.9 L1705.6 1383.3 L1704.4 1382.4 L1703.4 1383.1 L1702.2 1380.8 L1701.3 1381.1 L1700.0 1381.6 L1699.0 1379.4 L1698.1 1379.3 L1697.2 1379.8 L1696.0 1380.4 L1695.1 1380.0 L1694.5 1377.6 L1693.3 1379.2 L1692.6 1377.9 L1691.1 1379.5 L1690.7 1375.9 L1689.5 1377.4 L1688.8 1375.3 L1687.7 1378.9 L1687.2 1377.3 L1686.0 1378.9 L1685.0 1379.2 L1684.3 1376.5 L1683.4 1375.8 L1682.3 1378.9 L1681.5 1375.9 L1680.2 1378.7 L1679.6 1372.7 L1678.1 1378.2 L1677.2 1374.5 L1676.2 1376.8 L1675.2 1375.8 L1674.4 1373.3 L1673.1 1375.7 L1672.1 1374.0 L1671.0 1374.1 L1669.6 1378.3 L1668.9 1375.7 L1667.9 1377.0 L1666.8 1376.4 L1665.9 1374.0 L1665.1 1374.0 L1663.9 1374.8 L1662.7 1375.4 L1661.8 1373.7 L1661.2 1372.3 L1660.2 1371.2 L1658.9 1374.0 L1657.9 1371.6 L1657.1 1372.3 L1655.9 1372.8 L1655.2 1372.3 L1654.2 1371.9 L1653.2 1372.0 L1652.4 1367.3 L1651.1 1373.3 L1650.2 1372.6 L1649.2 1374.1 L1648.5 1369.8 L1647.4 1372.6 L1646.5 1372.5 L1645.2 1374.5 L1644.4 1371.6 L1642.9 1372.1 L1641.8 1372.5 L1640.4 1372.4 L1639.7 1370.6 L1638.4 1370.7 L1637.0 1370.2 L1636.1 1371.5 L1634.9 1369.6 L1633.9 1371.5 L1632.8 1370.4 L1631.8 1369.0 L1630.8 1368.8 L1630.2 1366.7 L1629.3 1366.5 L1628.0 1368.1 L1626.9 1367.9 L1626.4 1366.0 L1625.8 1365.5 L1625.0 1364.1 L1624.2 1366.0 L1623.1 1366.6 L1622.1 1366.2 L1621.2 1365.1 L1620.2 1366.5 L1618.9 1367.1 L1617.8 1365.7 L1616.6 1366.0 L1616.0 1363.9 L1614.8 1364.1 L1613.8 1364.7 L1612.3 1367.5 L1612.0 1364.1 L1610.8 1364.4 L1609.7 1365.4 L1608.9 1364.3 L1607.8 1364.2 L1607.1 1363.8 L1606.1 1365.5 L1604.9 1364.4 L1604.7 1365.3 L1604.3 1366.0 L1604.1 1366.0 L1603.5 1364.7 L1603.5 1363.8 L1602.0 1363.8 L1601.6 1365.0 L1601.7 1366.4 L1600.8 1365.9 L1598.5 1365.8 L1598.6 1367.5 L1596.7 1368.8 L1596.2 1370.4 L1594.7 1370.6 L1593.7 1368.8 L1592.7 1371.3 L1592.3 1371.6 L1591.4 1369.8 L1590.6 1370.1 L1589.6 1371.8 L1589.3 1372.5 L1588.5 1371.2 L1588.5 1372.7 L1586.1 1371.2 L1586.3 1374.7 L1583.5 1371.4 L1583.4 1375.6 L1582.9 1378.2 L1582.1 1379.0 L1581.2 1381.4 L1580.1 1382.1 L1578.3 1381.2 L1578.0 1384.5 L1577.5 1385.9 L1575.8 1384.6 L1575.8 1387.4 L1573.4 1383.5 L1571.3 1383.4 L1571.2 1388.2 L1570.6 1388.5 L1568.2 1388.6 L1566.6 1389.3 L1566.5 1391.1 L1564.6 1390.6 L1563.7 1390.2 L1562.6 1390.8 L1562.3 1391.7 L1561.7 1392.7 L1561.3 1393.0 L1559.6 1393.5 L1559.0 1394.3 L1559.0 1395.3 L1557.7 1396.1 L1556.7 1394.7 L1556.4 1396.3 L1553.9 1396.5 L1553.4 1397.3 L1551.2 1396.9 L1551.2 1396.8 L1550.5 1400.2 L1548.6 1397.4 L1548.5 1403.1 L1546.6 1401.5 L1546.2 1403.1 L1544.6 1404.2 L1543.5 1402.9 L1541.3 1403.7 L1541.0 1404.7 L1539.7 1406.0 L1538.6 1407.8 L1538.3 1407.3 L1538.3 1407.8 L1537.6 1409.4 L1535.2 1407.6 L1535.2 1406.9 L1534.8 1408.2 L1533.2 1410.1 L1531.9 1407.8 L1531.8 1410.7 L1531.9 1414.9 L1530.2 1413.7 L1528.6 1414.2 L1527.7 1415.5 L1526.3 1417.4 L1526.7 1419.5 L1526.2 1422.3 L1523.6 1421.2 L1523.2 1421.6 L1522.6 1425.0 L1521.2 1424.2 L1519.1 1426.1 L1518.8 1426.9 L1516.6 1428.6 L1517.1 1430.2 L1515.3 1430.4 L1513.1 1428.0 L1512.7 1431.2 L1511.8 1432.6 L1510.4 1431.0 L1510.9 1434.3 L1508.4 1432.3 L1509.5 1434.5 L1507.9 1435.2 L1505.6 1435.2 L1506.2 1435.3 L1506.1 1438.1 L1505.5 1439.5 L1505.0 1442.7 L1502.9 1441.0 L1500.6 1441.6 L1500.1 1444.0 L1502.8 1446.0 L1497.7 1442.3 L1496.3 1444.8 L1496.3 1446.2 L1495.2 1449.0 L1495.2 1453.7 L1492.9 1453.6 L1492.3 1455.1 L1489.8 1454.0 L1488.6 1453.9 L1488.9 1457.9 L1486.7 1454.7 L1485.7 1455.8 L1483.7 1456.8 L1482.5 1459.1 L1481.2 1459.0 L1480.2 1461.2 L1478.3 1458.8 L1477.7 1459.9 L1476.8 1461.1 L1475.8 1460.9 L1474.8 1461.0 L1474.1 1462.4 L1473.4 1461.4 L1472.3 1462.2 L1471.4 1463.8 L1470.5 1460.4 L1469.1 1462.7 L1468.7 1464.8 L1468.1 1465.5 L1466.8 1466.8 L1465.6 1467.0 L1465.1 1466.7 L1462.9 1463.5 L1462.4 1464.8 L1460.8 1463.7 L1460.0 1466.1 L1458.8 1466.2 L1457.7 1467.2 L1456.5 1467.2 L1455.4 1468.5 L1454.2 1466.8 L1453.3 1469.4 L1452.4 1469.7 L1451.1 1468.6 L1450.2 1468.7 L1449.7 1472.3 L1448.8 1470.7 L1447.5 1469.9 L1446.7 1469.8 L1445.9 1469.3 L1444.3 1467.9 L1444.2 1469.2 L1443.1 1470.0 L1441.9 1470.3 L1441.6 1471.6 L1440.5 1471.6 L1440.2 1473.2 L1438.3 1471.0 L1437.7 1472.0 L1436.7 1471.2 L1435.5 1471.9 L1434.3 1474.2 L1433.5 1474.8 L1432.6 1475.8 L1431.6 1474.3 L1430.2 1473.9 L1429.1 1475.7 L1428.9 1477.1 L1426.9 1475.9 L1426.5 1477.7 L1424.9 1477.0 L1425.2 1480.5 L1423.3 1477.9 L1422.4 1478.6 L1420.7 1475.0 L1420.2 1479.2 L1418.4 1476.9 L1417.5 1478.0 L1416.5 1478.3 L1415.4 1479.7 L1414.3 1478.9 L1413.6 1481.3 L1412.6 1481.4 L1411.6 1480.7 L1410.6 1480.7 L1409.6 1479.0 L1409.2 1481.2 L1408.1 1480.3 L1407.7 1482.0 L1406.8 1481.3 L1405.8 1482.5 L1405.1 1483.7 L1404.0 1482.1 L1403.2 1482.8 L1402.8 1484.7 L1400.6 1482.1 L1400.0 1483.6 L1399.5 1484.4 L1397.8 1484.6 L1397.0 1484.8 L1396.8 1489.2 L1395.3 1487.9 L1394.4 1487.4 L1392.8 1486.9 L1392.3 1489.7 L1391.3 1489.3 L1390.8 1492.2 L1388.9 1491.0 L1388.2 1492.9 L1387.9 1492.8 L1386.3 1492.1 L1384.8 1492.9 L1384.3 1494.7 L1383.3 1493.0 L1382.1 1496.4 L1380.9 1495.7 L1379.1 1493.5 L1378.7 1497.4 L1377.2 1495.8 L1375.9 1496.7 L1375.1 1499.8 L1373.7 1496.7 L1373.3 1499.9 L1372.2 1500.1 L1371.2 1497.4 L1370.2 1497.1 L1369.1 1497.0 L1368.8 1499.0 L1368.3 1500.3 L1368.0 1502.1 L1366.8 1499.1 L1365.5 1500.4 L1366.0 1502.5 L1363.2 1500.3 L1362.3 1501.1 L1361.7 1501.6 L1361.3 1504.7 L1360.8 1503.6 L1359.4 1505.0 L1357.7 1505.4 L1357.3 1506.5 L1355.3 1505.9 L1354.0 1504.4 L1354.0 1507.4 L1353.2 1508.1 L1351.9 1509.6 L1351.4 1512.5 L1350.3 1511.8 L1348.1 1509.9 L1348.3 1512.0 L1346.6 1510.9 L1344.3 1510.8 L1344.3 1513.8 L1343.4 1515.0 L1342.5 1516.1 L1341.0 1514.8 L1339.7 1516.7 L1337.6 1513.9 L1337.1 1515.9 L1336.4 1520.8Z" fill="#0000FF" clip-path="url(#cc)"/>
<path d="M1334.0 1516.7 L1336.0 1510.4 L1338.0 1511.3 L1340.0 1510.6 L1342.0 1503.3 L1344.0 1505.3 L1346.0 1506.2 L1348.0 1504.2 L1350.0 1503.2 L1352.0 1503.0 L1354.0 1499.8 L1356.0 1499.0 L1358.0 1488.3 L1360.0 1492.5 L1362.0 1490.8 L1364.0 1493.0 L1366.0 1487.9 L1368.0 1492.0 L1370.0 1491.3 L1372.0 1485.9 L1374.0 1486.8 L1376.0 1493.4 L1378.0 1490.7 L1380.0 1486.1 L1382.0 1485.4 L1384.0 1483.4 L1386.0 1490.1 L1388.0 1485.2 L1390.0 1484.4 L1392.0 1480.3 L1394.0 1480.3 L1396.0 1473.7 L1398.0 1472.4 L1400.0 1479.7 L1402.0 1474.4 L1404.0 1478.0 L1406.0 1480.2 L1408.0 1472.9 L1410.0 1474.7 L1412.0 1471.3 L1414.0 1469.7 L1416.0 1475.9 L1418.0 1469.7 L1420.0 1470.9 L1422.0 1467.2 L1424.0 1472.5 L1426.0 1470.3 L1428.0 1469.8 L1430.0 1466.2 L1432.0 1465.2 L1434.0 1464.2 L1436.0 1462.9 L1438.0 1462.8 L1440.0 1464.2 L1442.0 1468.2 L1444.0 1464.9 L1446.0 1468.6 L1448.0 1462.9 L1450.0 1462.1 L1452.0 1462.1 L1454.0 1466.7 L1456.0 1460.9 L1458.0 1455.8 L1460.0 1454.2 L1462.0 1455.8 L1464.0 1455.7 L1466.0 1455.6 L1468.0 1449.9 L1470.0 1455.6 L1472.0 1457.0 L1474.0 1451.4 L1476.0 1453.5 L1478.0 1458.2 L1480.0 1454.1 L1482.0 1451.5 L1484.0 1450.4 L1486.0 1453.2 L1488.0 1451.3 L1490.0 1449.0 L1492.0 1442.2 L1494.0 1435.9 L1496.0 1437.2 L1498.0 1438.9 L1500.0 1433.1 L1502.0 1430.7 L1504.0 1432.0 L1506.0 1427.1 L1508.0 1427.1 L1510.0 1421.5 L1512.0 1419.8 L1514.0 1426.1 L1516.0 1421.4 L1518.0 1419.3 L1520.0 1416.3 L1522.0 1410.0 L1524.0 1412.0 L1526.0 1411.5 L1528.0 1404.7 L1530.0 1400.7 L1532.0 1405.9 L1534.0 1396.6 L1536.0 1396.6 L1538.0 1399.9 L1540.0 1393.6 L1542.0 1399.1 L1544.0 1398.6 L1546.0 1393.4 L1548.0 1393.2 L1550.0 1394.1 L1552.0 1390.5 L1554.0 1387.2 L1556.0 1385.9 L1558.0 1388.8 L1560.0 1384.8 L1562.0 1389.6 L1564.0 1383.6 L1566.0 1385.5 L1568.0 1381.2 L1570.0 1379.2 L1572.0 1379.9 L1574.0 1372.8 L1576.0 1378.2 L1578.0 1368.3 L1580.0 1370.9 L1582.0 1365.9 L1584.0 1362.7 L1586.0 1359.7 L1588.0 1365.6 L1590.0 1363.7 L1592.0 1363.1 L1594.0 1362.1 L1596.0 1362.2 L1598.0 1359.4 L1600.0 1363.0 L1602.0 1356.7 L1604.0 1365.6 L1606.0 1351.4 L1608.0 1356.1 L1610.0 1356.3 L1612.0 1356.2 L1614.0 1356.1 L1616.0 1354.0 L1618.0 1355.8 L1620.0 1358.2 L1622.0 1353.6 L1624.0 1359.0 L1626.0 1356.5 L1628.0 1361.0 L1630.0 1361.1 L1632.0 1359.8 L1634.0 1358.3 L1636.0 1366.3 L1638.0 1367.2 L1640.0 1366.7 L1642.0 1368.4 L1644.0 1363.5 L1646.0 1365.1 L1648.0 1366.7 L1650.0 1364.0 L1652.0 1367.6 L1654.0 1363.9 L1656.0 1369.0 L1658.0 1362.9 L1660.0 1363.2 L1662.0 1367.6 L1664.0 1365.1 L1666.0 1371.2 L1668.0 1369.3 L1670.0 1366.9 L1672.0 1367.8 L1674.0 1366.0 L1676.0 1369.6 L1678.0 1365.6 L1680.0 1367.7 L1682.0 1369.4 L1684.0 1369.5 L1686.0 1372.2 L1688.0 1374.2 L1690.0 1373.2 L1692.0 1375.7 L1694.0 1377.7 L1696.0 1378.2 L1698.0 1374.4 L1700.0 1369.8 L1702.0 1371.3 L1704.0 1374.9 L1706.0 1374.4 L1708.0 1378.3 L1710.0 1374.1 L1712.0 1377.5 L1714.0 1379.7 L1716.0 1374.6 L1718.0 1383.1 L1720.0 1372.1 L1722.0 1377.3 L1724.0 1382.5 L1726.0 1379.1 L1728.0 1382.0 L1730.0 1382.9 L1732.0 1382.9 L1734.0 1383.2 L1736.0 1388.0 L1738.0 1387.6 L1740.0 1382.7 L1742.0 1387.6 L1744.0 1378.5 L1746.0 1382.3 L1748.0 1376.1 L1750.0 1376.1 L1752.0 1368.3 L1754.0 1363.7 L1756.0 1363.6 L1758.0 1366.7 L1760.0 1369.4 L1762.0 1363.1 L1764.0 1362.5 L1766.0 1356.8 L1768.0 1360.1 L1770.0 1360.6 L1772.0 1350.9 L1774.0 1347.3 L1776.0 1347.8 L1778.0 1346.3 L1780.0 1342.3 L1782.0 1345.7 L1784.0 1340.8 L1786.0 1337.7 L1788.0 1335.8 L1790.0 1330.1 L1792.0 1323.4 L1794.0 1326.7 L1796.0 1324.6 L1798.0 1320.5 L1800.0 1319.3 L1802.0 1316.1 L1804.0 1314.9 L1806.0 1315.1 L1808.0 1309.4 L1810.0 1308.3 L1812.0 1303.9 L1814.0 1310.7 L1816.0 1305.3 L1818.0 1314.3 L1820.0 1308.1 L1822.0 1314.3 L1824.0 1312.9 L1826.0 1319.0 L1828.0 1316.8 L1830.0 1319.9 L1832.0 1323.0 L1834.0 1328.8 L1836.0 1325.1 L1838.0 1337.4 L1840.0 1343.0 L1842.0 1336.7 L1844.0 1342.1 L1846.0 1345.0 L1848.0 1349.5 L1850.0 1355.0 L1852.0 1354.3 L1854.0 1371.3 L1856.0 1371.7 L1858.0 1368.3 L1860.0 1373.0 L1862.0 1374.8 L1864.0 1376.9 L1866.0 1378.7 L1868.0 1376.1 L1870.0 1384.4 L1872.0 1388.5 L1874.0 1394.5 L1876.0 1391.2 L1878.0 1399.6 L1880.0 1395.9 L1882.0 1403.9 L1884.0 1408.3 L1886.0 1402.2 L1888.0 1402.9 L1890.0 1402.2 L1892.0 1402.7 L1894.0 1404.8 L1896.0 1403.3 L1898.0 1409.6 L1900.0 1406.1 L1902.0 1407.0 L1904.0 1406.0 L1906.0 1404.5 L1908.0 1403.4 L1910.0 1405.4 L1912.0 1405.4 L1914.0 1407.2 L1916.0 1401.4 L1918.0 1403.2 L1920.0 1407.4 L1922.0 1409.7 L1924.0 1402.2 L1926.0 1404.9 L1928.0 1402.4 L1930.0 1399.6 L1932.0 1399.4 L1934.0 1398.2 L1936.0 1397.1 L1938.0 1403.8 L1940.0 1399.9 L1942.0 1404.3 L1944.0 1395.2 L1946.0 1399.6 L1948.0 1398.6 L1950.0 1390.6 L1952.0 1394.7 L1954.0 1401.6 L1956.0 1396.2 L1958.0 1394.2 L1960.0 1394.5 L1962.0 1396.4 L1964.0 1398.6 L1966.0 1396.7 L1968.0 1395.6 L1970.0 1392.8 L1972.0 1396.2 L1974.0 1399.4 L1976.0 1399.9 L1978.0 1406.3 L1980.0 1400.6 L1982.0 1402.2 L1984.0 1398.3 L1986.0 1399.3 L1988.0 1402.9 L1990.0 1395.8 L1992.0 1402.9 L1994.0 1400.6 L1996.0 1402.1 L1998.0 1402.3 L2000.0 1399.5 L2002.0 1403.3 L2004.0 1405.2 L2006.0 1404.3 L2008.0 1403.7 L2010.0 1404.6 L2012.0 1404.2 L2014.0 1405.8 L2016.0 1401.8 L2018.0 1403.1 L2020.0 1405.3 L2022.0 1404.1 L2024.0 1401.9 L2026.0 1398.5 L2028.0 1400.4 L2030.0 1395.9 L2032.0 1402.5 L2034.0 1401.2 L2036.0 1398.7 L2038.0 1396.2 L2040.0 1405.1 L2042.0 1403.6 L2044.0 1398.9 L2046.0 1398.8 L2048.0 1399.3 L2050.0 1402.3 L2052.0 1402.9 L2054.0 1399.4 L2056.0 1392.3 L2058.0 1400.5 L2060.0 1402.4 L2062.0 1397.3 L2064.0 1396.8 L2066.0 1391.7 L2068.0 1396.9 L2070.0 1397.1 L2072.0 1396.5 L2074.0 1385.9 L2076.0 1389.9 L2078.0 1386.0 L2080.0 1386.3 L2082.0 1385.4 L2084.0 1387.1 L2086.0 1382.5 L2088.0 1383.9 L2090.0 1391.1 L2092.0 1387.4 L2094.0 1388.5 L2096.0 1383.8 L2098.0 1384.2 L2100.0 1387.7 L2102.0 1386.4 L2104.0 1391.1 L2106.0 1391.1 L2108.0 1388.8 L2110.0 1387.7 L2112.0 1393.8 L2114.0 1388.9 L2116.0 1391.6 L2118.0 1387.5 L2120.0 1390.2 L2122.0 1386.1 L2124.0 1389.2 L2126.0 1390.5 L2128.0 1387.8 L2130.0 1391.2 L2132.0 1389.9 L2134.0 1388.6 L2136.0 1387.1 L2138.0 1390.9 L2140.0 1385.4 L2142.0 1387.5 L2144.0 1388.3 L2146.0 1390.3 L2148.0 1390.5 L2150.0 1393.1 L2152.0 1391.0" fill="none" stroke="#0000FF" stroke-width="9" stroke-linejoin="round" stroke-linecap="round" clip-path="url(#cc)"/>
<path d="M1836.0 1326.9 L1837.0 1328.8 L1838.0 1333.1 L1839.0 1334.6 L1840.0 1338.4 L1841.0 1337.4 L1842.0 1338.5 L1843.0 1340.4 L1844.0 1341.5 L1845.0 1343.6 L1846.0 1343.6 L1847.0 1344.5 L1848.0 1343.8 L1849.0 1343.2 L1850.0 1342.6 L1851.0 1337.9 L1852.0 1338.3 L1853.0 1346.5 L1854.0 1355.1 L1855.0 1361.3 L1856.0 1364.4 L1857.0 1366.8 L1858.0 1368.3 L1859.0 1370.6 L1860.0 1371.1 L1861.0 1372.9 L1862.0 1373.5 L1863.0 1372.9 L1864.0 1375.1 L1865.0 1375.5 L1866.0 1377.6 L1867.0 1381.6" fill="none" stroke="#0000FF" stroke-width="10" stroke-linejoin="round" stroke-linecap="round" clip-path="url(#cc)"/>
<line x1="1540.9" y1="1530.7" x2="1540.9" y2="1519.5" stroke="#000" stroke-width="5"/>
<line x1="1744.9" y1="1530.7" x2="1744.9" y2="1513.2" stroke="#000" stroke-width="5"/>
<line x1="1948.9" y1="1530.7" x2="1948.9" y2="1519.5" stroke="#000" stroke-width="5"/>
<line x1="1333.8" y1="1027.2" x2="1345.0" y2="1027.2" stroke="#000" stroke-width="5"/>
<line x1="1333.8" y1="1146.7" x2="1351.8" y2="1146.7" stroke="#000" stroke-width="5"/>
<line x1="1333.8" y1="1266.0" x2="1345.0" y2="1266.0" stroke="#000" stroke-width="5"/>
<line x1="1333.8" y1="1386.3" x2="1351.8" y2="1386.3" stroke="#000" stroke-width="5"/>
<rect x="1333.8" y="907.2" width="820.2" height="623.5" fill="none" stroke="#000" stroke-width="5.2"/>
<text id="pa" x="17.70" y="104.00" font-size="110.09" fill="#000" textLength="135.80" lengthAdjust="spacingAndGlyphs">(a)</text>
<text id="pb" x="1183.50" y="104.60" font-size="109.64" fill="#000" textLength="136.48" lengthAdjust="spacingAndGlyphs">(b)</text>
<text id="pc" x="1183.40" y="917.35" font-size="108.24" fill="#000" textLength="131.27" lengthAdjust="spacingAndGlyphs">(c)</text>
<text id="leg_mgo" x="957.20" y="143.48" font-size="70.56" fill="#000" textLength="148.67" lengthAdjust="spacingAndGlyphs">MgO</text>
<text id="leg_c" x="962.00" y="205.90" font-size="67.47" fill="#000" textLength="49.38" lengthAdjust="spacingAndGlyphs">C</text>
<text id="leg_si" x="963.30" y="273.80" font-size="68.46" fill="#000" textLength="59.11" lengthAdjust="spacingAndGlyphs">Si</text>
<text id="xrd" transform="translate(132.00 1209.80) rotate(-90)" font-size="102.93" fill="#000" textLength="887.36" lengthAdjust="spacingAndGlyphs">XRD Intensity (a.u)</text>
<text id="th_2" x="485.80" y="1712.70" font-size="108.16" fill="#000" textLength="60.58" lengthAdjust="spacingAndGlyphs">2</text>
<text id="th_th" x="543.10" y="1712.90" font-size="105.58" fill="#000" style='font-family:"Liberation Serif", serif' textLength="53.68" lengthAdjust="spacingAndGlyphs">&#952;</text>
<text id="th_deg" x="600.00" y="1711.00" font-size="104.26" fill="#000" textLength="266.15" lengthAdjust="spacingAndGlyphs">(deg.)</text>
<text id="ta10" x="203.70" y="1604.50" font-size="95.03" fill="#000" textLength="95.12" lengthAdjust="spacingAndGlyphs">10</text>
<text id="ta20" x="323.30" y="1604.50" font-size="95.03" fill="#000" textLength="102.45" lengthAdjust="spacingAndGlyphs">20</text>
<text id="ta30" x="449.70" y="1604.50" font-size="95.03" fill="#000" textLength="100.14" lengthAdjust="spacingAndGlyphs">30</text>
<text id="ta40" x="573.80" y="1604.50" font-size="95.03" fill="#000" textLength="102.96" lengthAdjust="spacingAndGlyphs">40</text>
<text id="ta50" x="700.80" y="1604.50" font-size="95.03" fill="#000" textLength="99.44" lengthAdjust="spacingAndGlyphs">50</text>
<text id="ta60" x="822.90" y="1604.50" font-size="95.03" fill="#000" textLength="102.44" lengthAdjust="spacingAndGlyphs">60</text>
<text id="ta70" x="948.90" y="1604.50" font-size="95.03" fill="#000" textLength="101.75" lengthAdjust="spacingAndGlyphs">70</text>
<text id="ta80" x="1074.70" y="1605.00" font-size="95.05" fill="#000" textLength="100.14" lengthAdjust="spacingAndGlyphs">80</text>
<text id="ac_a" x="618.00" y="383.50" font-size="70.27" fill="#008B8B" textLength="451.39" lengthAdjust="spacingAndGlyphs">AC&lt;nc-Si&gt;AC</text>
<text id="acb_a" x="964.50" y="888.20" font-size="72.07" fill="#3434FF" textLength="100.95" lengthAdjust="spacingAndGlyphs">AC</text>
<text id="si_a" x="221.20" y="1419.30" font-size="86.10" fill="#FF8000" textLength="77.58" lengthAdjust="spacingAndGlyphs">Si</text>
<text id="r002" transform="translate(428.00 771.00) rotate(-90)" font-size="75.00" fill="#000" textLength="168.80" lengthAdjust="spacingAndGlyphs">(002)</text>
<text id="r100" transform="translate(693.60 844.90) rotate(-90)" font-size="73.30" fill="#000" textLength="169.20" lengthAdjust="spacingAndGlyphs">(100)</text>
<text id="r111" transform="translate(447.20 1272.10) rotate(-90)" font-size="73.96" fill="#000" textLength="159.73" lengthAdjust="spacingAndGlyphs">(111)</text>
<text id="r220" transform="translate(745.60 1250.20) rotate(-90)" font-size="72.88" fill="#000" textLength="169.63" lengthAdjust="spacingAndGlyphs">(220)</text>
<text id="r311" transform="translate(854.40 1314.40) rotate(-90)" font-size="72.88" fill="#000" textLength="162.57" lengthAdjust="spacingAndGlyphs">(311)</text>
<text id="r400" transform="translate(1018.70 1380.20) rotate(-90)" font-size="73.51" fill="#000" textLength="167.50" lengthAdjust="spacingAndGlyphs">(400)</text>
<text id="r331" transform="translate(1098.60 1382.30) rotate(-90)" font-size="72.66" fill="#000" textLength="166.66" lengthAdjust="spacingAndGlyphs">(331)</text>
<text id="b_si1" x="1363.80" y="116.90" font-size="53.02" fill="#000" textLength="51.35" lengthAdjust="spacingAndGlyphs">Si</text>
<text id="b_ac" x="1415.30" y="246.30" font-size="69.72" fill="#008B8B" textLength="449.97" lengthAdjust="spacingAndGlyphs">AC&lt;nc-Si&gt;AC</text>
<text id="b_si2" x="1614.50" y="325.60" font-size="63.31" fill="#000" textLength="60.97" lengthAdjust="spacingAndGlyphs">Si</text>
<text id="b_d" x="1851.80" y="326.10" font-size="67.45" fill="#000" textLength="48.95" lengthAdjust="spacingAndGlyphs">D</text>
<text id="b_g" x="1989.50" y="325.10" font-size="63.30" fill="#000" textLength="51.86" lengthAdjust="spacingAndGlyphs">G</text>
<text id="b_acb" x="1452.20" y="444.70" font-size="68.58" fill="#3434FF" textLength="100.19" lengthAdjust="spacingAndGlyphs">AC</text>
<text id="b_sio" x="1424.70" y="606.00" font-size="69.31" fill="#FF8000" textLength="64.98" lengthAdjust="spacingAndGlyphs">Si</text>
<text id="tb450" x="1262.40" y="761.30" font-size="87.59" fill="#000" textLength="148.90" lengthAdjust="spacingAndGlyphs">450</text>
<text id="tb900" x="1533.00" y="761.30" font-size="87.59" fill="#000" textLength="151.04" lengthAdjust="spacingAndGlyphs">900</text>
<text id="tb1350" x="1780.10" y="761.30" font-size="87.59" fill="#000" textLength="198.22" lengthAdjust="spacingAndGlyphs">1350</text>
<text id="tb1800" x="2050.30" y="761.30" font-size="87.59" fill="#000" textLength="198.22" lengthAdjust="spacingAndGlyphs">1800</text>
<text id="b_xl" x="1334.30" y="857.40" font-size="94.53" fill="#000" textLength="729.72" lengthAdjust="spacingAndGlyphs">Raman Shift (cm</text>
<text id="b_xs" x="2063.00" y="803.40" font-size="58.42" fill="#000" textLength="42.54" lengthAdjust="spacingAndGlyphs">-1</text>
<text id="b_xc" x="2120.00" y="857.40" font-size="94.53" fill="#000">)</text>
<text id="b_yi" transform="translate(1270.30 608.00) rotate(-90)" font-size="102.08" fill="#000">I</text>
<text id="b_yr" transform="translate(1307.40 586.40) rotate(-90)" font-size="63.26" fill="#000" textLength="196.04" lengthAdjust="spacingAndGlyphs">Raman</text>
<text id="b_ya" transform="translate(1269.50 361.80) rotate(-90)" font-size="95.57" fill="#000" textLength="200.80" lengthAdjust="spacingAndGlyphs">(a.u)</text>
<text id="c_d1" x="1592.60" y="1010.90" font-size="63.49" fill="#000" textLength="46.48" lengthAdjust="spacingAndGlyphs">D</text>
<text id="c_g1" x="1799.40" y="983.90" font-size="65.47" fill="#000" textLength="51.92" lengthAdjust="spacingAndGlyphs">G</text>
<text id="c_ac" x="1452.80" y="1194.20" font-size="70.03" fill="#008B8B" textLength="448.18" lengthAdjust="spacingAndGlyphs">AC&lt;nc-Si&gt;AC</text>
<text id="c_d2" x="1588.30" y="1326.60" font-size="65.16" fill="#000" textLength="48.66" lengthAdjust="spacingAndGlyphs">D</text>
<text id="c_g2" x="1793.90" y="1270.40" font-size="63.60" fill="#000" textLength="52.97" lengthAdjust="spacingAndGlyphs">G</text>
<text id="c_acb" x="1665.70" y="1463.50" font-size="69.40" fill="#3434FF" textLength="100.85" lengthAdjust="spacingAndGlyphs">AC</text>
<text id="tc1000" x="1234.30" y="1615.80" font-size="85.90" fill="#000" textLength="196.75" lengthAdjust="spacingAndGlyphs">1000</text>
<text id="tc1500" x="1643.20" y="1615.40" font-size="86.75" fill="#000" textLength="198.21" lengthAdjust="spacingAndGlyphs">1500</text>
<text id="tc2000" x="2051.00" y="1617.20" font-size="88.79" fill="#000" textLength="200.08" lengthAdjust="spacingAndGlyphs">2000</text>
<text id="c_xl" x="1338.90" y="1722.30" font-size="93.29" fill="#000" textLength="723.84" lengthAdjust="spacingAndGlyphs">Raman Shift (cm</text>
<text id="c_xs" x="2061.70" y="1670.20" font-size="58.42" fill="#000" textLength="43.09" lengthAdjust="spacingAndGlyphs">-1</text>
<text id="c_xc" x="2118.60" y="1722.30" font-size="93.29" fill="#000">)</text>
<text id="c_yi" transform="translate(1256.20 1421.40) rotate(-90)" font-size="101.22" fill="#000">I</text>
<text id="c_yr" transform="translate(1292.70 1401.20) rotate(-90)" font-size="63.26" fill="#000" textLength="196.44" lengthAdjust="spacingAndGlyphs">Raman</text>
<text id="c_ya" transform="translate(1254.90 1178.40) rotate(-90)" font-size="94.94" fill="#000" textLength="203.73" lengthAdjust="spacingAndGlyphs">(a.u)</text>
</svg></body></html>
